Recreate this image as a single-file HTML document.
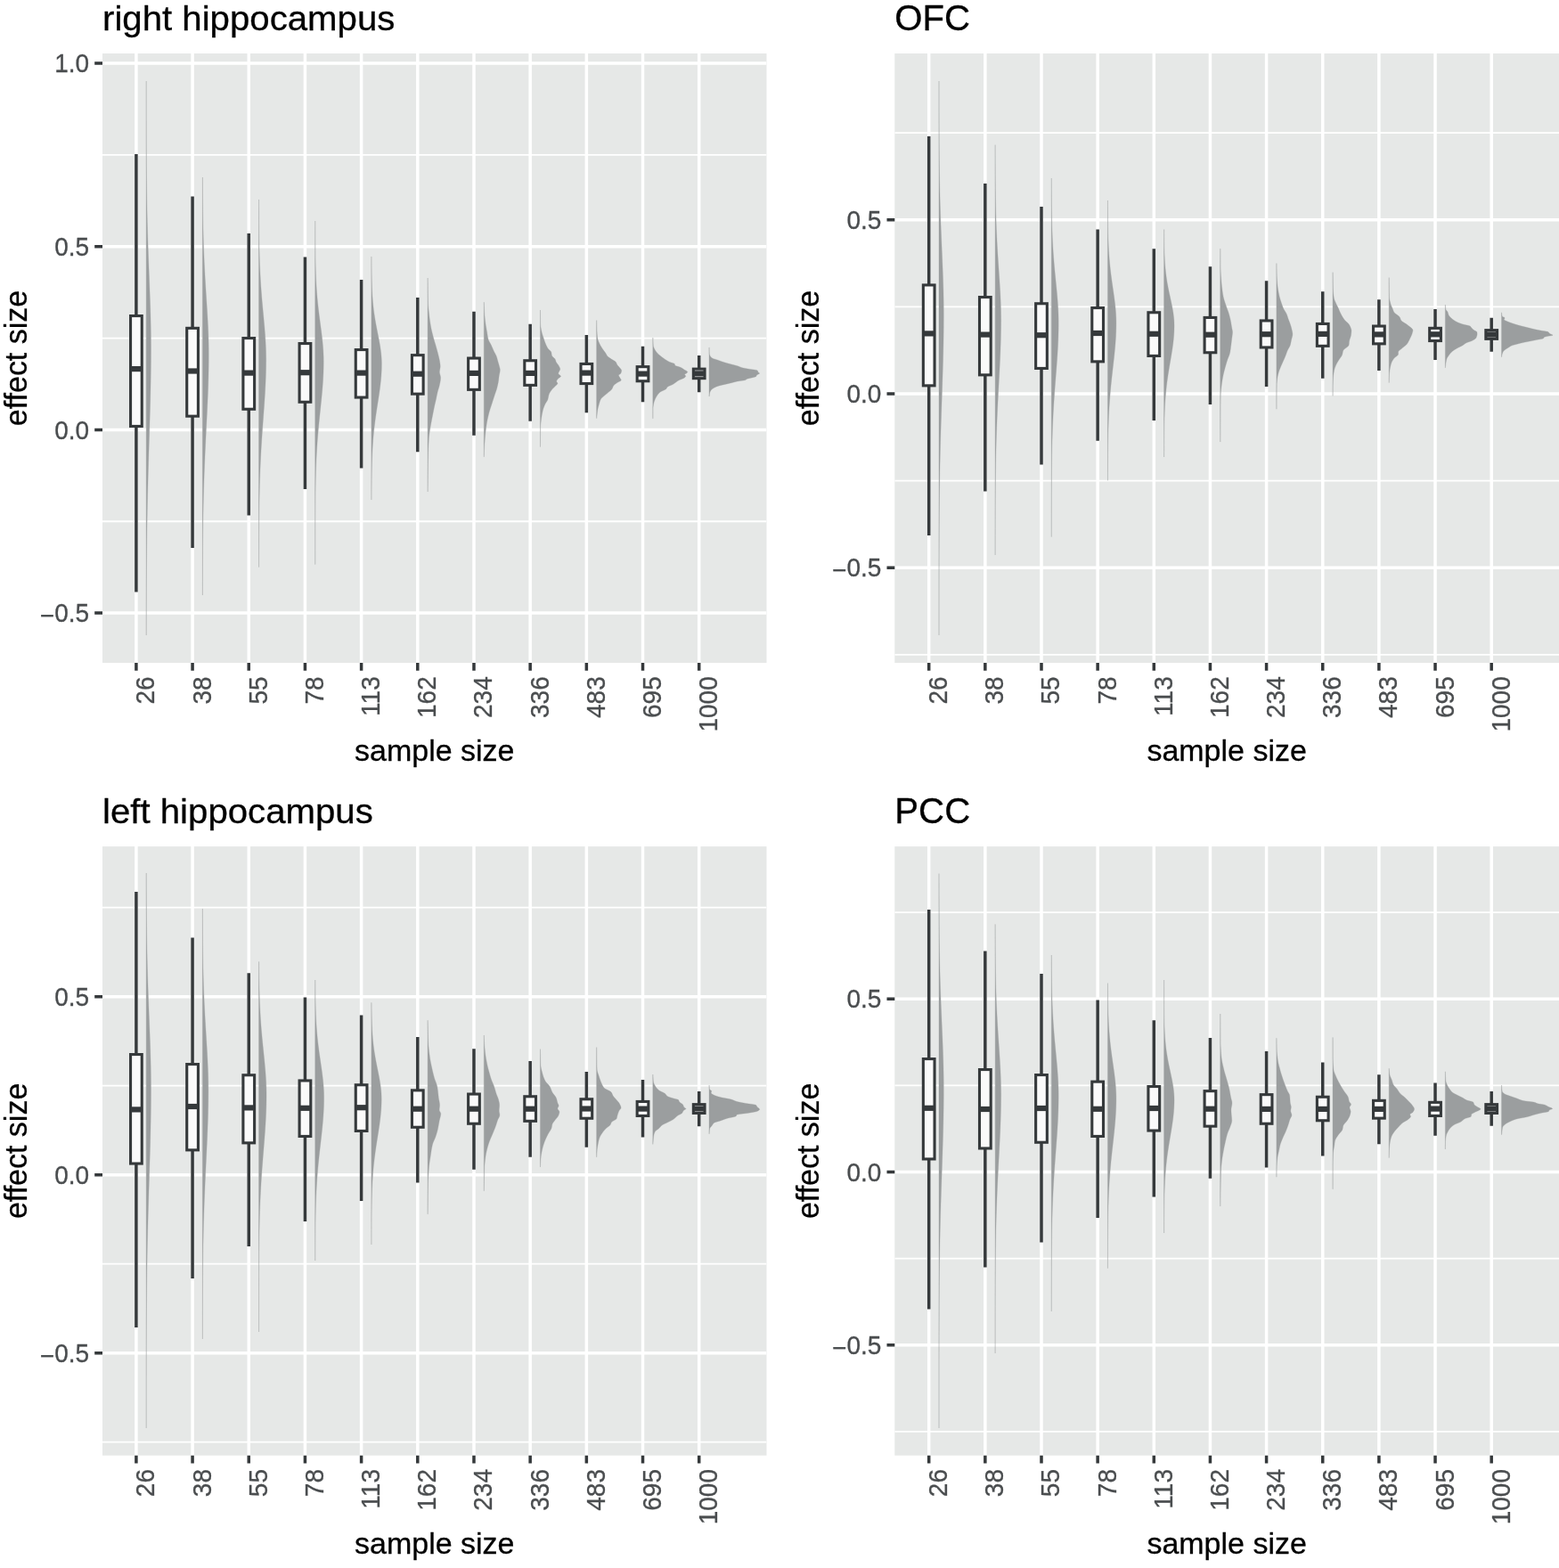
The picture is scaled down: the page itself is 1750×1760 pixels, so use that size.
<!DOCTYPE html>
<html lang="en">
<head>
<meta charset="utf-8">
<title>Effect size by sample size</title>
<style>
html,body{margin:0;padding:0;background:#fff;}
body{width:1750px;height:1760px;overflow:hidden;}
svg{display:block;}
text{font-family:"Liberation Sans",Arial,Helvetica,sans-serif;}
.tk{font-size:28px;fill:#4a4d4f;stroke:#4a4d4f;stroke-width:0.3px;}
.ax{font-size:34px;fill:#000;stroke:#000;stroke-width:0.3px;}
.tt{font-size:40.2px;fill:#000;stroke:#000;stroke-width:0.3px;}
.gM{stroke:#fff;stroke-width:3.5;fill:none;}
.gm{stroke:#fff;stroke-width:1.8;fill:none;}
.t{stroke:#35393b;stroke-width:3.5;fill:none;}
.w{stroke:#35393b;stroke-width:3.5;fill:none;}
.b{stroke:#35393b;stroke-width:3.1;fill:#fafafa;}
.m{stroke:#35393b;stroke-width:6.2;fill:none;}
.v{fill:#9b9e9f;stroke:#9b9e9f;stroke-width:0.32;stroke-linejoin:round;}
</style>
</head>
<body>
<svg width="1750" height="1760" viewBox="0 0 1750 1760">
<rect x="0" y="0" width="1750" height="1760" fill="#fff"/>
<g id="panel1">
<text class="tt" transform="translate(115 34.1) scale(1 0.975)">right hippocampus</text>
<clipPath id="c0"><rect x="115" y="60" width="745.5" height="684"/></clipPath>
<rect x="115" y="60" width="745.5" height="684" fill="#e6e8e7"/>
<g clip-path="url(#c0)">
<path class="gm" d="M115 173.85H860.5M115 379.55H860.5M115 585.25H860.5"/>
<path class="gM" d="M115 71H860.5M115 276.7H860.5M115 482.4H860.5M115 688.1H860.5M152.9 60V744M216.08 60V744M279.26 60V744M342.44 60V744M405.62 60V744M468.8 60V744M531.98 60V744M595.16 60V744M658.34 60V744M721.52 60V744M784.7 60V744"/>
<path class="v" d="M164.2 91L164.21 91L164.21 92L164.21 93L164.21 94L164.21 95L164.21 96L164.21 97L164.21 98L164.21 99L164.21 100L164.21 101L164.21 102L164.21 103L164.21 104L164.21 105L164.21 106L164.21 107L164.21 108L164.21 109L164.21 110L164.21 111L164.21 112L164.21 113L164.21 114L164.22 115L164.22 116L164.22 117L164.22 118L164.22 119L164.22 120L164.22 121L164.22 122L164.22 123L164.22 124L164.22 125L164.22 126L164.23 127L164.23 128L164.23 129L164.23 130L164.23 131L164.23 132L164.23 133L164.23 134L164.23 135L164.24 136L164.24 137L164.24 138L164.24 139L164.24 140L164.24 141L164.25 142L164.25 143L164.25 144L164.25 145L164.25 146L164.25 147L164.26 148L164.26 149L164.26 150L164.26 151L164.27 152L164.27 153L164.27 154L164.27 155L164.28 156L164.28 157L164.28 158L164.28 159L164.29 160L164.29 161L164.29 162L164.3 163L164.3 164L164.3 165L164.31 166L164.31 167L164.32 168L164.32 169L164.32 170L164.33 171L164.33 172L164.34 173L164.34 174L164.35 175L164.35 176L164.36 177L164.36 178L164.37 179L164.37 180L164.38 181L164.38 182L164.39 183L164.4 184L164.4 185L164.41 186L164.42 187L164.42 188L164.43 189L164.44 190L164.44 191L164.45 192L164.46 193L164.47 194L164.48 195L164.48 196L164.49 197L164.5 198L164.51 199L164.52 200L164.53 201L164.54 202L164.55 203L164.56 204L164.57 205L164.58 206L164.59 207L164.6 208L164.61 209L164.63 210L164.64 211L164.65 212L164.66 213L164.68 214L164.69 215L164.7 216L164.72 217L164.73 218L164.74 219L164.76 220L164.77 221L164.79 222L164.8 223L164.82 224L164.83 225L164.85 226L164.87 227L164.88 228L164.9 229L164.92 230L164.94 231L164.96 232L164.97 233L164.99 234L165.01 235L165.03 236L165.05 237L165.07 238L165.09 239L165.11 240L165.14 241L165.16 242L165.18 243L165.2 244L165.22 245L165.25 246L165.27 247L165.29 248L165.32 249L165.34 250L165.37 251L165.39 252L165.42 253L165.44 254L165.47 255L165.5 256L165.52 257L165.55 258L165.58 259L165.61 260L165.64 261L165.66 262L165.69 263L165.72 264L165.75 265L165.78 266L165.81 267L165.84 268L165.88 269L165.91 270L165.94 271L165.97 272L166 273L166.04 274L166.07 275L166.1 276L166.14 277L166.17 278L166.21 279L166.24 280L166.27 281L166.31 282L166.35 283L166.38 284L166.42 285L166.45 286L166.49 287L166.53 288L166.56 289L166.6 290L166.64 291L166.67 292L166.71 293L166.75 294L166.79 295L166.83 296L166.86 297L166.9 298L166.94 299L166.98 300L167.02 301L167.06 302L167.1 303L167.14 304L167.18 305L167.21 306L167.25 307L167.29 308L167.33 309L167.37 310L167.41 311L167.45 312L167.49 313L167.53 314L167.57 315L167.61 316L167.65 317L167.69 318L167.73 319L167.76 320L167.8 321L167.84 322L167.88 323L167.92 324L167.96 325L167.99 326L168.03 327L168.07 328L168.11 329L168.14 330L168.18 331L168.22 332L168.25 333L168.29 334L168.32 335L168.36 336L168.39 337L168.43 338L168.46 339L168.5 340L168.53 341L168.56 342L168.6 343L168.63 344L168.66 345L168.69 346L168.72 347L168.75 348L168.78 349L168.81 350L168.84 351L168.87 352L168.9 353L168.92 354L168.95 355L168.98 356L169 357L169.03 358L169.05 359L169.07 360L169.1 361L169.12 362L169.14 363L169.16 364L169.18 365L169.2 366L169.22 367L169.24 368L169.26 369L169.27 370L169.29 371L169.3 372L169.32 373L169.33 374L169.35 375L169.36 376L169.37 377L169.38 378L169.39 379L169.4 380L169.41 381L169.42 382L169.42 383L169.43 384L169.43 385L169.44 386L169.44 387L169.45 388L169.45 389L169.45 390L169.45 391L169.45 392L169.45 393L169.45 394L169.45 395L169.44 396L169.44 397L169.44 398L169.43 399L169.43 400L169.43 401L169.42 402L169.42 403L169.41 404L169.4 405L169.4 406L169.39 407L169.38 408L169.37 409L169.36 410L169.35 411L169.34 412L169.33 413L169.32 414L169.31 415L169.3 416L169.29 417L169.27 418L169.26 419L169.25 420L169.23 421L169.22 422L169.2 423L169.19 424L169.17 425L169.16 426L169.14 427L169.12 428L169.11 429L169.09 430L169.07 431L169.05 432L169.03 433L169.01 434L168.99 435L168.97 436L168.95 437L168.93 438L168.91 439L168.89 440L168.87 441L168.85 442L168.82 443L168.8 444L168.78 445L168.75 446L168.73 447L168.71 448L168.68 449L168.66 450L168.63 451L168.61 452L168.58 453L168.56 454L168.53 455L168.5 456L168.48 457L168.45 458L168.42 459L168.4 460L168.37 461L168.34 462L168.31 463L168.29 464L168.26 465L168.23 466L168.2 467L168.17 468L168.14 469L168.11 470L168.08 471L168.05 472L168.03 473L168 474L167.97 475L167.94 476L167.91 477L167.88 478L167.85 479L167.82 480L167.78 481L167.75 482L167.72 483L167.69 484L167.66 485L167.63 486L167.6 487L167.57 488L167.54 489L167.51 490L167.48 491L167.45 492L167.42 493L167.38 494L167.35 495L167.32 496L167.29 497L167.26 498L167.23 499L167.2 500L167.17 501L167.14 502L167.11 503L167.08 504L167.05 505L167.01 506L166.98 507L166.95 508L166.92 509L166.89 510L166.86 511L166.83 512L166.8 513L166.77 514L166.74 515L166.71 516L166.68 517L166.65 518L166.62 519L166.6 520L166.57 521L166.54 522L166.51 523L166.48 524L166.45 525L166.42 526L166.39 527L166.37 528L166.34 529L166.31 530L166.28 531L166.26 532L166.23 533L166.2 534L166.17 535L166.15 536L166.12 537L166.09 538L166.07 539L166.04 540L166.02 541L165.99 542L165.97 543L165.94 544L165.92 545L165.89 546L165.87 547L165.84 548L165.82 549L165.79 550L165.77 551L165.75 552L165.72 553L165.7 554L165.68 555L165.65 556L165.63 557L165.61 558L165.59 559L165.56 560L165.54 561L165.52 562L165.5 563L165.48 564L165.46 565L165.44 566L165.42 567L165.4 568L165.38 569L165.36 570L165.34 571L165.32 572L165.3 573L165.28 574L165.26 575L165.24 576L165.23 577L165.21 578L165.19 579L165.17 580L165.16 581L165.14 582L165.12 583L165.11 584L165.09 585L165.07 586L165.06 587L165.04 588L165.03 589L165.01 590L165 591L164.98 592L164.97 593L164.95 594L164.94 595L164.92 596L164.91 597L164.9 598L164.88 599L164.87 600L164.86 601L164.84 602L164.83 603L164.82 604L164.8 605L164.79 606L164.78 607L164.77 608L164.76 609L164.75 610L164.73 611L164.72 612L164.71 613L164.7 614L164.69 615L164.68 616L164.67 617L164.66 618L164.65 619L164.64 620L164.63 621L164.62 622L164.61 623L164.6 624L164.6 625L164.59 626L164.58 627L164.57 628L164.56 629L164.55 630L164.55 631L164.54 632L164.53 633L164.52 634L164.52 635L164.51 636L164.5 637L164.49 638L164.49 639L164.48 640L164.47 641L164.47 642L164.46 643L164.46 644L164.45 645L164.44 646L164.44 647L164.43 648L164.43 649L164.42 650L164.42 651L164.41 652L164.41 653L164.4 654L164.4 655L164.39 656L164.39 657L164.38 658L164.38 659L164.37 660L164.37 661L164.36 662L164.36 663L164.36 664L164.35 665L164.35 666L164.34 667L164.34 668L164.34 669L164.33 670L164.33 671L164.33 672L164.32 673L164.32 674L164.32 675L164.31 676L164.31 677L164.31 678L164.3 679L164.3 680L164.3 681L164.3 682L164.29 683L164.29 684L164.29 685L164.29 686L164.28 687L164.28 688L164.28 689L164.28 690L164.27 691L164.27 692L164.27 693L164.27 694L164.27 695L164.27 696L164.26 697L164.26 698L164.26 699L164.26 700L164.26 701L164.25 702L164.25 703L164.25 704L164.25 705L164.25 706L164.25 707L164.25 708L164.24 709L164.24 710L164.24 711L164.24 712L164.24 713L164.2 713Z"/>
<path class="v" d="M227.38 199L227.44 199L227.44 200L227.44 201L227.45 202L227.45 203L227.45 204L227.46 205L227.46 206L227.46 207L227.47 208L227.47 209L227.48 210L227.48 211L227.49 212L227.49 213L227.5 214L227.5 215L227.51 216L227.51 217L227.52 218L227.52 219L227.53 220L227.54 221L227.54 222L227.55 223L227.56 224L227.57 225L227.57 226L227.58 227L227.59 228L227.6 229L227.61 230L227.62 231L227.63 232L227.64 233L227.65 234L227.66 235L227.67 236L227.68 237L227.69 238L227.7 239L227.72 240L227.73 241L227.74 242L227.76 243L227.77 244L227.79 245L227.8 246L227.82 247L227.83 248L227.85 249L227.87 250L227.88 251L227.9 252L227.92 253L227.94 254L227.96 255L227.98 256L228 257L228.02 258L228.05 259L228.07 260L228.09 261L228.11 262L228.14 263L228.16 264L228.19 265L228.22 266L228.24 267L228.27 268L228.3 269L228.33 270L228.36 271L228.39 272L228.42 273L228.45 274L228.48 275L228.52 276L228.55 277L228.58 278L228.62 279L228.65 280L228.69 281L228.73 282L228.77 283L228.81 284L228.85 285L228.89 286L228.93 287L228.97 288L229.01 289L229.05 290L229.1 291L229.14 292L229.19 293L229.23 294L229.28 295L229.33 296L229.38 297L229.43 298L229.48 299L229.53 300L229.58 301L229.63 302L229.68 303L229.73 304L229.79 305L229.84 306L229.9 307L229.95 308L230.01 309L230.07 310L230.12 311L230.18 312L230.24 313L230.3 314L230.36 315L230.42 316L230.48 317L230.54 318L230.6 319L230.66 320L230.72 321L230.79 322L230.85 323L230.91 324L230.97 325L231.04 326L231.1 327L231.17 328L231.23 329L231.29 330L231.36 331L231.42 332L231.49 333L231.55 334L231.62 335L231.68 336L231.74 337L231.81 338L231.87 339L231.94 340L232 341L232.06 342L232.13 343L232.19 344L232.25 345L232.32 346L232.38 347L232.44 348L232.5 349L232.56 350L232.62 351L232.68 352L232.74 353L232.8 354L232.85 355L232.91 356L232.96 357L233.02 358L233.07 359L233.13 360L233.18 361L233.23 362L233.28 363L233.33 364L233.38 365L233.43 366L233.47 367L233.52 368L233.56 369L233.61 370L233.65 371L233.69 372L233.73 373L233.76 374L233.8 375L233.84 376L233.87 377L233.9 378L233.93 379L233.96 380L233.99 381L234.02 382L234.04 383L234.07 384L234.09 385L234.11 386L234.13 387L234.14 388L234.16 389L234.17 390L234.19 391L234.2 392L234.21 393L234.22 394L234.22 395L234.23 396L234.23 397L234.23 398L234.23 399L234.23 400L234.23 401L234.22 402L234.22 403L234.21 404L234.21 405L234.2 406L234.19 407L234.18 408L234.17 409L234.16 410L234.15 411L234.13 412L234.12 413L234.1 414L234.09 415L234.07 416L234.05 417L234.03 418L234.01 419L233.99 420L233.97 421L233.95 422L233.92 423L233.9 424L233.87 425L233.85 426L233.82 427L233.79 428L233.76 429L233.73 430L233.7 431L233.67 432L233.64 433L233.61 434L233.57 435L233.54 436L233.5 437L233.47 438L233.43 439L233.4 440L233.36 441L233.32 442L233.28 443L233.24 444L233.2 445L233.16 446L233.12 447L233.08 448L233.03 449L232.99 450L232.95 451L232.9 452L232.86 453L232.81 454L232.77 455L232.72 456L232.68 457L232.63 458L232.58 459L232.54 460L232.49 461L232.44 462L232.39 463L232.35 464L232.3 465L232.25 466L232.2 467L232.15 468L232.1 469L232.05 470L232 471L231.95 472L231.9 473L231.85 474L231.8 475L231.75 476L231.7 477L231.65 478L231.6 479L231.55 480L231.5 481L231.44 482L231.39 483L231.34 484L231.29 485L231.24 486L231.19 487L231.14 488L231.09 489L231.04 490L230.99 491L230.94 492L230.89 493L230.84 494L230.79 495L230.74 496L230.7 497L230.65 498L230.6 499L230.55 500L230.5 501L230.46 502L230.41 503L230.36 504L230.31 505L230.27 506L230.22 507L230.18 508L230.13 509L230.09 510L230.04 511L230 512L229.95 513L229.91 514L229.87 515L229.82 516L229.78 517L229.74 518L229.7 519L229.65 520L229.61 521L229.57 522L229.53 523L229.49 524L229.45 525L229.41 526L229.38 527L229.34 528L229.3 529L229.26 530L229.23 531L229.19 532L229.15 533L229.12 534L229.08 535L229.05 536L229.02 537L228.98 538L228.95 539L228.92 540L228.88 541L228.85 542L228.82 543L228.79 544L228.76 545L228.73 546L228.7 547L228.67 548L228.64 549L228.62 550L228.59 551L228.56 552L228.53 553L228.51 554L228.48 555L228.46 556L228.43 557L228.41 558L228.38 559L228.36 560L228.34 561L228.31 562L228.29 563L228.27 564L228.25 565L228.23 566L228.2 567L228.18 568L228.16 569L228.14 570L228.12 571L228.11 572L228.09 573L228.07 574L228.05 575L228.03 576L228.02 577L228 578L227.98 579L227.97 580L227.95 581L227.94 582L227.92 583L227.91 584L227.89 585L227.88 586L227.86 587L227.85 588L227.84 589L227.83 590L227.81 591L227.8 592L227.79 593L227.78 594L227.77 595L227.75 596L227.74 597L227.73 598L227.72 599L227.71 600L227.7 601L227.69 602L227.68 603L227.67 604L227.67 605L227.66 606L227.65 607L227.64 608L227.63 609L227.62 610L227.62 611L227.61 612L227.6 613L227.6 614L227.59 615L227.58 616L227.58 617L227.57 618L227.56 619L227.56 620L227.55 621L227.55 622L227.54 623L227.53 624L227.53 625L227.52 626L227.52 627L227.52 628L227.51 629L227.51 630L227.5 631L227.5 632L227.49 633L227.49 634L227.49 635L227.48 636L227.48 637L227.48 638L227.47 639L227.47 640L227.47 641L227.46 642L227.46 643L227.46 644L227.45 645L227.45 646L227.45 647L227.45 648L227.44 649L227.44 650L227.44 651L227.44 652L227.43 653L227.43 654L227.43 655L227.43 656L227.43 657L227.43 658L227.42 659L227.42 660L227.42 661L227.42 662L227.42 663L227.42 664L227.41 665L227.41 666L227.41 667L227.41 668L227.38 668Z"/>
<path class="v" d="M290.56 224L290.58 224L290.58 225L290.58 226L290.58 227L290.59 228L290.59 229L290.59 230L290.59 231L290.59 232L290.6 233L290.6 234L290.6 235L290.6 236L290.61 237L290.61 238L290.61 239L290.62 240L290.62 241L290.62 242L290.63 243L290.63 244L290.64 245L290.64 246L290.65 247L290.65 248L290.66 249L290.66 250L290.67 251L290.67 252L290.68 253L290.69 254L290.69 255L290.7 256L290.71 257L290.72 258L290.73 259L290.74 260L290.74 261L290.75 262L290.77 263L290.78 264L290.79 265L290.8 266L290.81 267L290.83 268L290.84 269L290.85 270L290.87 271L290.88 272L290.9 273L290.92 274L290.93 275L290.95 276L290.97 277L290.99 278L291.01 279L291.03 280L291.05 281L291.08 282L291.1 283L291.13 284L291.15 285L291.18 286L291.2 287L291.23 288L291.26 289L291.29 290L291.32 291L291.36 292L291.39 293L291.42 294L291.46 295L291.5 296L291.53 297L291.57 298L291.61 299L291.66 300L291.7 301L291.74 302L291.79 303L291.83 304L291.88 305L291.93 306L291.98 307L292.03 308L292.09 309L292.14 310L292.2 311L292.25 312L292.31 313L292.37 314L292.43 315L292.49 316L292.56 317L292.62 318L292.69 319L292.75 320L292.82 321L292.89 322L292.96 323L293.04 324L293.11 325L293.19 326L293.26 327L293.34 328L293.42 329L293.5 330L293.58 331L293.66 332L293.74 333L293.83 334L293.91 335L294 336L294.08 337L294.17 338L294.26 339L294.35 340L294.44 341L294.53 342L294.62 343L294.71 344L294.8 345L294.9 346L294.99 347L295.08 348L295.18 349L295.27 350L295.36 351L295.46 352L295.55 353L295.65 354L295.74 355L295.83 356L295.93 357L296.02 358L296.11 359L296.2 360L296.29 361L296.38 362L296.47 363L296.56 364L296.65 365L296.74 366L296.82 367L296.91 368L296.99 369L297.07 370L297.15 371L297.23 372L297.31 373L297.39 374L297.46 375L297.54 376L297.61 377L297.68 378L297.74 379L297.81 380L297.87 381L297.93 382L297.99 383L298.05 384L298.1 385L298.15 386L298.2 387L298.25 388L298.29 389L298.33 390L298.37 391L298.4 392L298.44 393L298.47 394L298.49 395L298.52 396L298.54 397L298.56 398L298.58 399L298.59 400L298.6 401L298.61 402L298.61 403L298.61 404L298.61 405L298.61 406L298.6 407L298.59 408L298.59 409L298.58 410L298.56 411L298.55 412L298.53 413L298.52 414L298.5 415L298.47 416L298.45 417L298.43 418L298.4 419L298.37 420L298.34 421L298.31 422L298.28 423L298.24 424L298.21 425L298.17 426L298.13 427L298.09 428L298.05 429L298 430L297.96 431L297.91 432L297.86 433L297.82 434L297.76 435L297.71 436L297.66 437L297.61 438L297.55 439L297.49 440L297.44 441L297.38 442L297.32 443L297.26 444L297.19 445L297.13 446L297.07 447L297 448L296.94 449L296.87 450L296.8 451L296.74 452L296.67 453L296.6 454L296.53 455L296.46 456L296.39 457L296.32 458L296.25 459L296.17 460L296.1 461L296.03 462L295.96 463L295.88 464L295.81 465L295.74 466L295.66 467L295.59 468L295.52 469L295.44 470L295.37 471L295.3 472L295.22 473L295.15 474L295.07 475L295 476L294.93 477L294.86 478L294.78 479L294.71 480L294.64 481L294.57 482L294.5 483L294.42 484L294.35 485L294.28 486L294.21 487L294.14 488L294.08 489L294.01 490L293.94 491L293.87 492L293.81 493L293.74 494L293.68 495L293.61 496L293.55 497L293.48 498L293.42 499L293.36 500L293.3 501L293.24 502L293.18 503L293.12 504L293.06 505L293 506L292.95 507L292.89 508L292.84 509L292.78 510L292.73 511L292.68 512L292.62 513L292.57 514L292.52 515L292.47 516L292.42 517L292.38 518L292.33 519L292.28 520L292.24 521L292.19 522L292.15 523L292.11 524L292.07 525L292.02 526L291.98 527L291.94 528L291.91 529L291.87 530L291.83 531L291.79 532L291.76 533L291.72 534L291.69 535L291.66 536L291.62 537L291.59 538L291.56 539L291.53 540L291.5 541L291.47 542L291.44 543L291.41 544L291.39 545L291.36 546L291.33 547L291.31 548L291.29 549L291.26 550L291.24 551L291.22 552L291.19 553L291.17 554L291.15 555L291.13 556L291.11 557L291.09 558L291.07 559L291.06 560L291.04 561L291.02 562L291.01 563L290.99 564L290.97 565L290.96 566L290.94 567L290.93 568L290.92 569L290.9 570L290.89 571L290.88 572L290.87 573L290.85 574L290.84 575L290.83 576L290.82 577L290.81 578L290.8 579L290.79 580L290.78 581L290.77 582L290.77 583L290.76 584L290.75 585L290.74 586L290.73 587L290.73 588L290.72 589L290.71 590L290.71 591L290.7 592L290.7 593L290.69 594L290.68 595L290.68 596L290.67 597L290.67 598L290.66 599L290.66 600L290.66 601L290.65 602L290.65 603L290.64 604L290.64 605L290.64 606L290.63 607L290.63 608L290.63 609L290.62 610L290.62 611L290.62 612L290.61 613L290.61 614L290.61 615L290.61 616L290.6 617L290.6 618L290.6 619L290.6 620L290.6 621L290.6 622L290.59 623L290.59 624L290.59 625L290.59 626L290.59 627L290.59 628L290.58 629L290.58 630L290.58 631L290.58 632L290.58 633L290.58 634L290.58 635L290.58 636L290.58 636.6L290.56 636.6Z"/>
<path class="v" d="M353.74 248L353.75 248L353.75 249L353.75 250L353.75 251L353.75 252L353.76 253L353.76 254L353.76 255L353.76 256L353.76 257L353.76 258L353.77 259L353.77 260L353.77 261L353.77 262L353.78 263L353.78 264L353.78 265L353.79 266L353.79 267L353.79 268L353.8 269L353.8 270L353.81 271L353.81 272L353.82 273L353.82 274L353.83 275L353.83 276L353.84 277L353.85 278L353.86 279L353.87 280L353.87 281L353.88 282L353.89 283L353.9 284L353.92 285L353.93 286L353.94 287L353.95 288L353.97 289L353.98 290L354 291L354.01 292L354.03 293L354.05 294L354.07 295L354.09 296L354.11 297L354.13 298L354.16 299L354.18 300L354.21 301L354.24 302L354.27 303L354.3 304L354.33 305L354.36 306L354.39 307L354.43 308L354.47 309L354.51 310L354.55 311L354.59 312L354.64 313L354.68 314L354.73 315L354.78 316L354.83 317L354.89 318L354.94 319L355 320L355.06 321L355.12 322L355.19 323L355.25 324L355.32 325L355.39 326L355.47 327L355.54 328L355.62 329L355.7 330L355.78 331L355.87 332L355.95 333L356.04 334L356.13 335L356.23 336L356.32 337L356.42 338L356.52 339L356.62 340L356.73 341L356.84 342L356.95 343L357.06 344L357.17 345L357.28 346L357.4 347L357.52 348L357.64 349L357.76 350L357.88 351L358.01 352L358.14 353L358.26 354L358.39 355L358.52 356L358.65 357L358.78 358L358.92 359L359.05 360L359.18 361L359.32 362L359.45 363L359.58 364L359.72 365L359.85 366L359.98 367L360.12 368L360.25 369L360.38 370L360.51 371L360.64 372L360.76 373L360.89 374L361.01 375L361.13 376L361.25 377L361.37 378L361.49 379L361.6 380L361.71 381L361.82 382L361.92 383L362.02 384L362.12 385L362.21 386L362.3 387L362.39 388L362.47 389L362.55 390L362.63 391L362.7 392L362.76 393L362.83 394L362.88 395L362.94 396L362.98 397L363.03 398L363.06 399L363.1 400L363.13 401L363.15 402L363.17 403L363.18 404L363.19 405L363.19 406L363.19 407L363.18 408L363.18 409L363.16 410L363.15 411L363.13 412L363.11 413L363.09 414L363.06 415L363.03 416L363 417L362.96 418L362.93 419L362.88 420L362.84 421L362.79 422L362.74 423L362.69 424L362.64 425L362.58 426L362.52 427L362.45 428L362.39 429L362.32 430L362.25 431L362.18 432L362.1 433L362.03 434L361.95 435L361.87 436L361.78 437L361.7 438L361.61 439L361.52 440L361.43 441L361.34 442L361.25 443L361.16 444L361.06 445L360.96 446L360.87 447L360.77 448L360.67 449L360.57 450L360.47 451L360.36 452L360.26 453L360.16 454L360.06 455L359.95 456L359.85 457L359.74 458L359.64 459L359.53 460L359.43 461L359.32 462L359.22 463L359.11 464L359.01 465L358.9 466L358.8 467L358.7 468L358.59 469L358.49 470L358.39 471L358.29 472L358.19 473L358.09 474L357.99 475L357.89 476L357.79 477L357.7 478L357.6 479L357.51 480L357.41 481L357.32 482L357.23 483L357.14 484L357.05 485L356.97 486L356.88 487L356.79 488L356.71 489L356.63 490L356.55 491L356.47 492L356.39 493L356.31 494L356.24 495L356.16 496L356.09 497L356.02 498L355.95 499L355.88 500L355.82 501L355.75 502L355.69 503L355.62 504L355.56 505L355.5 506L355.44 507L355.39 508L355.33 509L355.28 510L355.22 511L355.17 512L355.12 513L355.07 514L355.02 515L354.98 516L354.93 517L354.89 518L354.85 519L354.81 520L354.76 521L354.73 522L354.69 523L354.65 524L354.62 525L354.58 526L354.55 527L354.52 528L354.48 529L354.45 530L354.42 531L354.4 532L354.37 533L354.34 534L354.32 535L354.29 536L354.27 537L354.25 538L354.22 539L354.2 540L354.18 541L354.16 542L354.14 543L354.13 544L354.11 545L354.09 546L354.07 547L354.06 548L354.04 549L354.03 550L354.02 551L354 552L353.99 553L353.98 554L353.97 555L353.96 556L353.95 557L353.93 558L353.93 559L353.92 560L353.91 561L353.9 562L353.89 563L353.88 564L353.88 565L353.87 566L353.86 567L353.85 568L353.85 569L353.84 570L353.84 571L353.83 572L353.83 573L353.82 574L353.82 575L353.81 576L353.81 577L353.81 578L353.8 579L353.8 580L353.8 581L353.79 582L353.79 583L353.79 584L353.78 585L353.78 586L353.78 587L353.78 588L353.77 589L353.77 590L353.77 591L353.77 592L353.77 593L353.76 594L353.76 595L353.76 596L353.76 597L353.76 598L353.76 599L353.76 600L353.76 601L353.75 602L353.75 603L353.75 604L353.75 605L353.75 606L353.75 607L353.75 608L353.75 609L353.75 610L353.75 611L353.75 612L353.75 613L353.75 614L353.75 615L353.75 616L353.75 617L353.74 618L353.74 619L353.74 620L353.74 621L353.74 622L353.74 623L353.74 624L353.74 625L353.74 626L353.74 627L353.74 628L353.74 629L353.74 630L353.74 631L353.74 632L353.74 633L353.74 633.6L353.74 633.6Z"/>
<path class="v" d="M416.92 288L416.95 288L416.95 289L416.96 290L416.96 291L416.96 292L416.97 293L416.97 294L416.98 295L416.98 296L416.99 297L416.99 298L417 299L417.01 300L417.02 301L417.03 302L417.04 303L417.05 304L417.06 305L417.07 306L417.08 307L417.1 308L417.11 309L417.13 310L417.15 311L417.17 312L417.19 313L417.21 314L417.23 315L417.26 316L417.28 317L417.31 318L417.34 319L417.37 320L417.41 321L417.44 322L417.48 323L417.52 324L417.57 325L417.61 326L417.66 327L417.71 328L417.76 329L417.82 330L417.88 331L417.94 332L418.01 333L418.08 334L418.15 335L418.23 336L418.31 337L418.39 338L418.48 339L418.57 340L418.67 341L418.77 342L418.87 343L418.98 344L419.09 345L419.2 346L419.32 347L419.44 348L419.57 349L419.7 350L419.84 351L419.98 352L420.13 353L420.27 354L420.43 355L420.58 356L420.74 357L420.91 358L421.08 359L421.25 360L421.42 361L421.6 362L421.78 363L421.96 364L422.15 365L422.34 366L422.53 367L422.72 368L422.92 369L423.11 370L423.31 371L423.51 372L423.71 373L423.91 374L424.11 375L424.3 376L424.5 377L424.7 378L424.89 379L425.09 380L425.28 381L425.47 382L425.65 383L425.84 384L426.01 385L426.19 386L426.36 387L426.53 388L426.69 389L426.84 390L426.99 391L427.13 392L427.27 393L427.4 394L427.52 395L427.64 396L427.75 397L427.85 398L427.94 399L428.02 400L428.1 401L428.16 402L428.22 403L428.27 404L428.31 405L428.34 406L428.36 407L428.37 408L428.37 409L428.36 410L428.35 411L428.34 412L428.32 413L428.29 414L428.25 415L428.22 416L428.17 417L428.12 418L428.07 419L428 420L427.94 421L427.87 422L427.79 423L427.71 424L427.62 425L427.53 426L427.44 427L427.34 428L427.23 429L427.12 430L427.01 431L426.9 432L426.78 433L426.65 434L426.53 435L426.4 436L426.26 437L426.13 438L425.99 439L425.85 440L425.71 441L425.56 442L425.42 443L425.27 444L425.12 445L424.97 446L424.81 447L424.66 448L424.5 449L424.35 450L424.19 451L424.04 452L423.88 453L423.72 454L423.57 455L423.41 456L423.26 457L423.1 458L422.95 459L422.79 460L422.64 461L422.49 462L422.34 463L422.19 464L422.05 465L421.9 466L421.76 467L421.61 468L421.47 469L421.34 470L421.2 471L421.07 472L420.93 473L420.8 474L420.68 475L420.55 476L420.43 477L420.31 478L420.19 479L420.08 480L419.96 481L419.85 482L419.74 483L419.64 484L419.54 485L419.44 486L419.34 487L419.25 488L419.15 489L419.06 490L418.98 491L418.89 492L418.81 493L418.73 494L418.65 495L418.58 496L418.51 497L418.44 498L418.37 499L418.3 500L418.24 501L418.18 502L418.12 503L418.07 504L418.01 505L417.96 506L417.91 507L417.86 508L417.81 509L417.77 510L417.73 511L417.69 512L417.65 513L417.61 514L417.57 515L417.54 516L417.51 517L417.47 518L417.44 519L417.42 520L417.39 521L417.36 522L417.34 523L417.31 524L417.29 525L417.27 526L417.25 527L417.23 528L417.21 529L417.19 530L417.18 531L417.16 532L417.15 533L417.13 534L417.12 535L417.11 536L417.1 537L417.09 538L417.07 539L417.06 540L417.06 541L417.05 542L417.04 543L417.03 544L417.02 545L417.02 546L417.01 547L417 548L417 549L416.99 550L416.99 551L416.98 552L416.98 553L416.97 554L416.97 555L416.97 556L416.96 557L416.96 558L416.96 559L416.95 560L416.95 561L416.92 561Z"/>
<path class="v" d="M480.1 312L480.15 312L480.16 312.5L480.16 313L480.17 313.5L480.17 314L480.18 314.5L480.19 315L480.19 315.5L480.2 316L480.2 316.5L480.21 317L480.21 317.5L480.22 318L480.22 318.5L480.22 319L480.23 319.5L480.23 320L480.24 320.5L480.24 321L480.25 321.5L480.25 322L480.26 322.5L480.26 323L480.26 323.5L480.27 324L480.27 324.5L480.28 325L480.28 325.5L480.29 326L480.29 326.5L480.3 327L480.3 327.5L480.31 328L480.31 328.5L480.32 329L480.33 329.5L480.33 330L480.34 330.5L480.34 331L480.35 331.5L480.36 332L480.37 332.5L480.37 333L480.38 333.5L480.39 334L480.4 334.5L480.41 335L480.41 335.5L480.42 336L480.43 336.5L480.44 337L480.45 337.5L480.46 338L480.47 338.5L480.49 339L480.5 339.5L480.51 340L480.52 340.5L480.54 341L480.57 341.5L480.59 342L480.62 342.5L480.65 343L480.69 343.5L480.73 344L480.77 344.5L480.81 345L480.86 345.5L480.91 346L480.96 346.5L481.01 347L481.06 347.5L481.11 348L481.17 348.5L481.22 349L481.28 349.5L481.33 350L481.39 350.5L481.44 351L481.5 351.5L481.55 352L481.6 352.5L481.66 353L481.71 353.5L481.77 354L481.83 354.5L481.89 355L481.95 355.5L482.01 356L482.07 356.5L482.13 357L482.2 357.5L482.26 358L482.33 358.5L482.4 359L482.47 359.5L482.54 360L482.61 360.5L482.68 361L482.76 361.5L482.83 362L482.91 362.5L482.99 363L483.06 363.5L483.14 364L483.23 364.5L483.31 365L483.39 365.5L483.48 366L483.57 366.5L483.66 367L483.75 367.5L483.85 368L483.95 368.5L484.05 369L484.16 369.5L484.27 370L484.38 370.5L484.49 371L484.61 371.5L484.73 372L484.85 372.5L484.97 373L485.09 373.5L485.22 374L485.34 374.5L485.47 375L485.6 375.5L485.73 376L485.86 376.5L485.99 377L486.12 377.5L486.25 378L486.38 378.5L486.51 379L486.65 379.5L486.78 380L486.93 380.5L487.07 381L487.22 381.5L487.37 382L487.52 382.5L487.67 383L487.82 383.5L487.97 384L488.12 384.5L488.27 385L488.42 385.5L488.57 386L488.72 386.5L488.86 387L489.01 387.5L489.15 388L489.29 388.5L489.43 389L489.57 389.5L489.71 390L489.85 390.5L489.99 391L490.13 391.5L490.27 392L490.41 392.5L490.54 393L490.68 393.5L490.82 394L490.95 394.5L491.08 395L491.22 395.5L491.35 396L491.48 396.5L491.6 397L491.73 397.5L491.85 398L491.97 398.5L492.1 399L492.22 399.5L492.35 400L492.47 400.5L492.59 401L492.71 401.5L492.83 402L492.95 402.5L493.06 403L493.17 403.5L493.27 404L493.37 404.5L493.45 405L493.53 405.5L493.61 406L493.69 406.5L493.77 407L493.84 407.5L493.92 408L493.99 408.5L494.05 409L494.1 409.5L494.14 410L494.17 410.5L494.19 411L494.18 411.5L494.16 412L494.1 412.5L494.04 413L493.95 413.5L493.86 414L493.77 414.5L493.68 415L493.59 415.5L493.51 416L493.45 416.5L493.41 417L493.39 417.5L493.4 418L493.45 418.5L493.54 419L493.64 419.5L493.77 420L493.91 420.5L494.05 421L494.18 421.5L494.31 422L494.42 422.5L494.51 423L494.57 423.5L494.59 424L494.58 424.5L494.56 425L494.52 425.5L494.48 426L494.42 426.5L494.35 427L494.27 427.5L494.19 428L494.09 428.5L494 429L493.9 429.5L493.8 430L493.69 430.5L493.59 431L493.49 431.5L493.39 432L493.29 432.5L493.17 433L493.04 433.5L492.91 434L492.77 434.5L492.62 435L492.47 435.5L492.31 436L492.16 436.5L492 437L491.85 437.5L491.7 438L491.55 438.5L491.41 439L491.27 439.5L491.15 440L491.03 440.5L490.92 441L490.81 441.5L490.7 442L490.59 442.5L490.49 443L490.39 443.5L490.29 444L490.19 444.5L490.09 445L489.99 445.5L489.89 446L489.79 446.5L489.68 447L489.58 447.5L489.47 448L489.36 448.5L489.25 449L489.13 449.5L489.02 450L488.9 450.5L488.78 451L488.66 451.5L488.55 452L488.43 452.5L488.31 453L488.19 453.5L488.08 454L487.96 454.5L487.85 455L487.74 455.5L487.63 456L487.52 456.5L487.42 457L487.31 457.5L487.21 458L487.1 458.5L487 459L486.9 459.5L486.8 460L486.7 460.5L486.6 461L486.5 461.5L486.4 462L486.3 462.5L486.2 463L486.1 463.5L486 464L485.91 464.5L485.81 465L485.71 465.5L485.62 466L485.52 466.5L485.42 467L485.33 467.5L485.23 468L485.13 468.5L485.04 469L484.94 469.5L484.84 470L484.74 470.5L484.64 471L484.54 471.5L484.44 472L484.35 472.5L484.25 473L484.15 473.5L484.05 474L483.96 474.5L483.86 475L483.77 475.5L483.68 476L483.58 476.5L483.49 477L483.41 477.5L483.32 478L483.23 478.5L483.15 479L483.07 479.5L482.99 480L482.91 480.5L482.83 481L482.75 481.5L482.67 482L482.59 482.5L482.51 483L482.43 483.5L482.36 484L482.28 484.5L482.2 485L482.13 485.5L482.05 486L481.98 486.5L481.91 487L481.85 487.5L481.78 488L481.72 488.5L481.66 489L481.61 489.5L481.55 490L481.51 490.5L481.46 491L481.42 491.5L481.39 492L481.36 492.5L481.33 493L481.3 493.5L481.27 494L481.24 494.5L481.21 495L481.18 495.5L481.15 496L481.13 496.5L481.1 497L481.08 497.5L481.05 498L481.03 498.5L481 499L480.98 499.5L480.96 500L480.94 500.5L480.92 501L480.89 501.5L480.87 502L480.86 502.5L480.84 503L480.82 503.5L480.8 504L480.78 504.5L480.77 505L480.75 505.5L480.74 506L480.72 506.5L480.71 507L480.69 507.5L480.68 508L480.67 508.5L480.65 509L480.64 509.5L480.63 510L480.62 510.5L480.61 511L480.6 511.5L480.59 512L480.58 512.5L480.57 513L480.56 513.5L480.55 514L480.55 514.5L480.54 515L480.53 515.5L480.52 516L480.51 516.5L480.51 517L480.5 517.5L480.49 518L480.48 518.5L480.48 519L480.47 519.5L480.46 520L480.46 520.5L480.45 521L480.44 521.5L480.44 522L480.43 522.5L480.43 523L480.42 523.5L480.41 524L480.41 524.5L480.4 525L480.4 525.5L480.39 526L480.39 526.5L480.38 527L480.38 527.5L480.37 528L480.37 528.5L480.36 529L480.36 529.5L480.35 530L480.35 530.5L480.34 531L480.34 531.5L480.33 532L480.33 532.5L480.32 533L480.32 533.5L480.31 534L480.31 534.5L480.31 535L480.3 535.5L480.3 536L480.29 536.5L480.29 537L480.28 537.5L480.28 538L480.28 538.5L480.27 539L480.27 539.5L480.26 540L480.26 540.5L480.25 541L480.25 541.5L480.25 542L480.24 542.5L480.24 543L480.23 543.5L480.23 544L480.22 544.5L480.22 545L480.21 545.5L480.21 546L480.21 546.5L480.2 547L480.2 547.5L480.19 548L480.19 548.5L480.18 549L480.18 549.5L480.17 550L480.17 550.5L480.16 551L480.16 551.5L480.15 552L480.1 552Z"/>
<path class="v" d="M543.28 339.2L543.33 339.2L543.35 339.7L543.37 340.2L543.39 340.7L543.41 341.2L543.42 341.7L543.44 342.2L543.46 342.7L543.48 343.2L543.49 343.7L543.51 344.2L543.53 344.7L543.55 345.2L543.56 345.7L543.58 346.2L543.6 346.7L543.62 347.2L543.64 347.7L543.66 348.2L543.68 348.7L543.71 349.2L543.73 349.7L543.75 350.2L543.78 350.7L543.8 351.2L543.83 351.7L543.86 352.2L543.89 352.7L543.93 353.2L543.96 353.7L544 354.2L544.05 354.7L544.09 355.2L544.13 355.7L544.18 356.2L544.23 356.7L544.28 357.2L544.34 357.7L544.39 358.2L544.45 358.7L544.5 359.2L544.56 359.7L544.62 360.2L544.68 360.7L544.74 361.2L544.8 361.7L544.86 362.2L544.93 362.7L545 363.2L545.07 363.7L545.14 364.2L545.22 364.7L545.29 365.2L545.38 365.7L545.46 366.2L545.54 366.7L545.63 367.2L545.72 367.7L545.81 368.2L545.9 368.7L545.99 369.2L546.08 369.7L546.17 370.2L546.26 370.7L546.35 371.2L546.44 371.7L546.52 372.2L546.61 372.7L546.69 373.2L546.77 373.7L546.84 374.2L546.92 374.7L546.99 375.2L547.07 375.7L547.15 376.2L547.23 376.7L547.31 377.2L547.4 377.7L547.49 378.2L547.59 378.7L547.7 379.2L547.81 379.7L547.93 380.2L548.06 380.7L548.21 381.2L548.39 381.7L548.6 382.2L548.84 382.7L549.09 383.2L549.36 383.7L549.65 384.2L549.93 384.7L550.22 385.2L550.5 385.7L550.78 386.2L551.04 386.7L551.29 387.2L551.52 387.7L551.75 388.2L551.98 388.7L552.2 389.2L552.41 389.7L552.63 390.2L552.85 390.7L553.06 391.2L553.28 391.7L553.5 392.2L553.72 392.7L553.94 393.2L554.16 393.7L554.4 394.2L554.63 394.7L554.89 395.2L555.15 395.7L555.42 396.2L555.69 396.7L555.97 397.2L556.23 397.7L556.49 398.2L556.74 398.7L556.97 399.2L557.18 399.7L557.36 400.2L557.53 400.7L557.69 401.2L557.84 401.7L557.98 402.2L558.12 402.7L558.25 403.2L558.38 403.7L558.51 404.2L558.64 404.7L558.78 405.2L558.92 405.7L559.06 406.2L559.21 406.7L559.36 407.2L559.52 407.7L559.67 408.2L559.82 408.7L559.96 409.2L560.1 409.7L560.24 410.2L560.37 410.7L560.49 411.2L560.61 411.7L560.75 412.2L560.88 412.7L561.01 413.2L561.12 413.7L561.21 414.2L561.27 414.7L561.29 415.2L561.28 415.7L561.24 416.2L561.18 416.7L561.11 417.2L561.02 417.7L560.92 418.2L560.82 418.7L560.71 419.2L560.6 419.7L560.5 420.2L560.4 420.7L560.31 421.2L560.24 421.7L560.17 422.2L560.11 422.7L560.05 423.2L559.99 423.7L559.93 424.2L559.87 424.7L559.82 425.2L559.76 425.7L559.7 426.2L559.64 426.7L559.57 427.2L559.5 427.7L559.42 428.2L559.33 428.7L559.25 429.2L559.15 429.7L559.06 430.2L558.96 430.7L558.85 431.2L558.74 431.7L558.63 432.2L558.52 432.7L558.4 433.2L558.28 433.7L558.16 434.2L558.03 434.7L557.9 435.2L557.77 435.7L557.64 436.2L557.49 436.7L557.34 437.2L557.19 437.7L557.02 438.2L556.86 438.7L556.68 439.2L556.51 439.7L556.33 440.2L556.15 440.7L555.98 441.2L555.8 441.7L555.63 442.2L555.46 442.7L555.29 443.2L555.13 443.7L554.96 444.2L554.8 444.7L554.64 445.2L554.48 445.7L554.32 446.2L554.16 446.7L554 447.2L553.84 447.7L553.68 448.2L553.52 448.7L553.36 449.2L553.21 449.7L553.05 450.2L552.89 450.7L552.73 451.2L552.57 451.7L552.41 452.2L552.25 452.7L552.08 453.2L551.92 453.7L551.75 454.2L551.59 454.7L551.42 455.2L551.26 455.7L551.09 456.2L550.92 456.7L550.76 457.2L550.6 457.7L550.43 458.2L550.27 458.7L550.11 459.2L549.96 459.7L549.8 460.2L549.65 460.7L549.5 461.2L549.36 461.7L549.21 462.2L549.07 462.7L548.94 463.2L548.81 463.7L548.68 464.2L548.55 464.7L548.43 465.2L548.31 465.7L548.18 466.2L548.06 466.7L547.94 467.2L547.83 467.7L547.71 468.2L547.6 468.7L547.49 469.2L547.38 469.7L547.27 470.2L547.16 470.7L547.06 471.2L546.96 471.7L546.86 472.2L546.77 472.7L546.67 473.2L546.58 473.7L546.5 474.2L546.41 474.7L546.33 475.2L546.25 475.7L546.17 476.2L546.1 476.7L546.02 477.2L545.95 477.7L545.88 478.2L545.81 478.7L545.74 479.2L545.67 479.7L545.6 480.2L545.54 480.7L545.47 481.2L545.41 481.7L545.35 482.2L545.29 482.7L545.23 483.2L545.17 483.7L545.11 484.2L545.06 484.7L545.01 485.2L544.95 485.7L544.9 486.2L544.85 486.7L544.8 487.2L544.76 487.7L544.71 488.2L544.67 488.7L544.62 489.2L544.58 489.7L544.53 490.2L544.49 490.7L544.45 491.2L544.41 491.7L544.37 492.2L544.33 492.7L544.29 493.2L544.25 493.7L544.21 494.2L544.17 494.7L544.13 495.2L544.09 495.7L544.06 496.2L544.02 496.7L543.99 497.2L543.96 497.7L543.92 498.2L543.89 498.7L543.86 499.2L543.83 499.7L543.8 500.2L543.77 500.7L543.74 501.2L543.72 501.7L543.69 502.2L543.67 502.7L543.65 503.2L543.62 503.7L543.6 504.2L543.58 504.7L543.56 505.2L543.54 505.7L543.53 506.2L543.51 506.7L543.49 507.2L543.48 507.7L543.46 508.2L543.45 508.7L543.44 509.2L543.42 509.7L543.41 510.2L543.39 510.7L543.38 511.2L543.36 511.7L543.35 512.2L543.33 512.7L543.33 512.8L543.28 512.8Z"/>
<path class="v" d="M606.46 348L606.51 348L606.52 348.5L606.52 349L606.53 349.5L606.53 350L606.54 350.5L606.54 351L606.55 351.5L606.55 352L606.55 352.5L606.56 353L606.56 353.5L606.57 354L606.57 354.5L606.58 355L606.58 355.5L606.58 356L606.59 356.5L606.59 357L606.6 357.5L606.6 358L606.61 358.5L606.62 359L606.62 359.5L606.63 360L606.64 360.5L606.65 361L606.66 361.5L606.67 362L606.68 362.5L606.69 363L606.7 363.5L606.71 364L606.73 364.5L606.76 365L606.8 365.5L606.85 366L606.91 366.5L606.98 367L607.05 367.5L607.14 368L607.22 368.5L607.31 369L607.41 369.5L607.51 370L607.61 370.5L607.71 371L607.81 371.5L607.91 372L608.02 372.5L608.13 373L608.25 373.5L608.39 374L608.53 374.5L608.67 375L608.83 375.5L608.98 376L609.14 376.5L609.31 377L609.47 377.5L609.64 378L609.81 378.5L609.98 379L610.14 379.5L610.31 380L610.47 380.5L610.64 381L610.8 381.5L610.97 382L611.14 382.5L611.32 383L611.5 383.5L611.68 384L611.87 384.5L612.07 385L612.27 385.5L612.48 386L612.69 386.5L612.9 387L613.13 387.5L613.35 388L613.59 388.5L613.84 389L614.1 389.5L614.38 390L614.67 390.5L614.98 391L615.33 391.5L615.78 392L616.3 392.5L616.85 393L617.4 393.5L617.9 394L618.33 394.5L618.63 395L618.8 395.5L618.92 396L619.01 396.5L619.08 397L619.15 397.5L619.23 398L619.32 398.5L619.45 399L619.64 399.5L619.99 400L620.45 400.5L620.99 401L621.55 401.5L622.11 402L622.6 402.5L622.99 403L623.26 403.5L623.46 404L623.63 404.5L623.79 405L623.95 405.5L624.13 406L624.36 406.5L624.65 407L625 407.5L625.38 408L625.78 408.5L626.17 409L626.55 409.5L626.88 410L627.16 410.5L627.43 411L627.7 411.5L627.97 412L628.21 412.5L628.42 413L628.58 413.5L628.68 414L628.71 414.5L628.61 415L628.41 415.5L628.14 416L627.86 416.5L627.6 417L627.37 417.5L627.11 418L626.87 418.5L626.72 419L626.78 419.5L627.15 420L627.72 420.5L628.37 421L628.97 421.5L629.39 422L629.5 422.5L629.21 423L628.62 423.5L627.87 424L627.11 424.5L626.49 425L626.08 425.5L625.68 426L625.31 426.5L625 427L624.79 427.5L624.71 428L624.84 428.5L625.16 429L625.53 429.5L625.82 430L625.9 430.5L625.7 431L625.28 431.5L624.75 432L624.2 432.5L623.73 433L623.24 433.5L622.72 434L622.18 434.5L621.64 435L621.11 435.5L620.62 436L620.16 436.5L619.75 437L619.36 437.5L618.97 438L618.59 438.5L618.23 439L617.88 439.5L617.55 440L617.24 440.5L616.95 441L616.69 441.5L616.47 442L616.27 442.5L616.11 443L615.97 443.5L615.84 444L615.73 444.5L615.62 445L615.52 445.5L615.43 446L615.33 446.5L615.22 447L615.1 447.5L614.97 448L614.81 448.5L614.63 449L614.41 449.5L614.14 450L613.83 450.5L613.51 451L613.17 451.5L612.84 452L612.52 452.5L612.22 453L611.96 453.5L611.73 454L611.5 454.5L611.28 455L611.07 455.5L610.87 456L610.67 456.5L610.48 457L610.29 457.5L610.12 458L609.95 458.5L609.79 459L609.65 459.5L609.51 460L609.38 460.5L609.25 461L609.13 461.5L609.01 462L608.9 462.5L608.79 463L608.68 463.5L608.58 464L608.48 464.5L608.39 465L608.3 465.5L608.21 466L608.13 466.5L608.05 467L607.98 467.5L607.91 468L607.84 468.5L607.77 469L607.7 469.5L607.64 470L607.57 470.5L607.5 471L607.44 471.5L607.37 472L607.31 472.5L607.25 473L607.19 473.5L607.13 474L607.08 474.5L607.03 475L606.98 475.5L606.93 476L606.89 476.5L606.85 477L606.82 477.5L606.79 478L606.76 478.5L606.74 479L606.72 479.5L606.71 480L606.7 480.5L606.69 481L606.68 481.5L606.68 482L606.67 482.5L606.66 483L606.66 483.5L606.65 484L606.64 484.5L606.64 485L606.63 485.5L606.63 486L606.62 486.5L606.62 487L606.61 487.5L606.61 488L606.6 488.5L606.6 489L606.59 489.5L606.59 490L606.59 490.5L606.58 491L606.58 491.5L606.58 492L606.57 492.5L606.57 493L606.57 493.5L606.56 494L606.56 494.5L606.56 495L606.56 495.5L606.55 496L606.55 496.5L606.55 497L606.54 497.5L606.54 498L606.54 498.5L606.53 499L606.53 499.5L606.52 500L606.52 500.5L606.52 501L606.51 501.5L606.51 501.6L606.46 501.6Z"/>
<path class="v" d="M669.64 359.6L669.69 359.6L669.7 360.1L669.72 360.6L669.73 361.1L669.74 361.6L669.76 362.1L669.77 362.6L669.78 363.1L669.79 363.6L669.8 364.1L669.81 364.6L669.83 365.1L669.84 365.6L669.85 366.1L669.86 366.6L669.88 367.1L669.89 367.6L669.9 368.1L669.92 368.6L669.94 369.1L669.95 369.6L669.97 370.1L669.99 370.6L670.01 371.1L670.03 371.6L670.05 372.1L670.08 372.6L670.11 373.1L670.14 373.6L670.17 374.1L670.21 374.6L670.25 375.1L670.3 375.6L670.35 376.1L670.4 376.6L670.45 377.1L670.51 377.6L670.57 378.1L670.64 378.6L670.71 379.1L670.79 379.6L670.87 380.1L670.97 380.6L671.09 381.1L671.23 381.6L671.4 382.1L671.58 382.6L671.77 383.1L671.98 383.6L672.19 384.1L672.41 384.6L672.63 385.1L672.85 385.6L673.08 386.1L673.32 386.6L673.58 387.1L673.85 387.6L674.14 388.1L674.43 388.6L674.73 389.1L675.04 389.6L675.35 390.1L675.67 390.6L675.99 391.1L676.31 391.6L676.65 392.1L677.01 392.6L677.38 393.1L677.75 393.6L678.13 394.1L678.51 394.6L678.88 395.1L679.24 395.6L679.59 396.1L679.92 396.6L680.23 397.1L680.49 397.6L680.74 398.1L681 398.6L681.3 399.1L681.65 399.6L682.11 400.1L682.68 400.6L683.34 401.1L684.06 401.6L684.81 402.1L685.57 402.6L686.31 403.1L687.06 403.6L687.9 404.1L688.77 404.6L689.62 405.1L690.37 405.6L690.98 406.1L691.39 406.6L691.69 407.1L691.93 407.6L692.14 408.1L692.34 408.6L692.57 409.1L692.85 409.6L693.21 410.1L693.64 410.6L694.1 411.1L694.57 411.6L695.01 412.1L695.41 412.6L695.83 413.1L696.27 413.6L696.71 414.1L697.09 414.6L697.4 415.1L697.6 415.6L697.65 416.1L697.62 416.6L697.54 417.1L697.42 417.6L697.28 418.1L697.1 418.6L696.89 419.1L696.49 419.6L695.71 420.1L694.91 420.6L694.47 421.1L694.5 421.6L694.67 422.1L694.93 422.6L695.24 423.1L695.58 423.6L695.89 424.1L696.16 424.6L696.47 425.1L696.8 425.6L697.08 426.1L697.23 426.6L697.15 427.1L696.61 427.6L695.74 428.1L694.71 428.6L693.69 429.1L692.85 429.6L692.14 430.1L691.42 430.6L690.72 431.1L690.06 431.6L689.48 432.1L689.01 432.6L688.65 433.1L688.36 433.6L688.12 434.1L687.91 434.6L687.71 435.1L687.5 435.6L687.27 436.1L686.98 436.6L686.63 437.1L686.19 437.6L685.68 438.1L685.12 438.6L684.52 439.1L683.9 439.6L683.28 440.1L682.68 440.6L682.1 441.1L681.5 441.6L680.89 442.1L680.27 442.6L679.65 443.1L679.04 443.6L678.44 444.1L677.87 444.6L677.32 445.1L676.74 445.6L676.17 446.1L675.62 446.6L675.12 447.1L674.71 447.6L674.4 448.1L674.14 448.6L673.91 449.1L673.7 449.6L673.51 450.1L673.34 450.6L673.18 451.1L673.02 451.6L672.88 452.1L672.74 452.6L672.6 453.1L672.45 453.6L672.3 454.1L672.16 454.6L672.01 455.1L671.87 455.6L671.73 456.1L671.6 456.6L671.47 457.1L671.35 457.6L671.23 458.1L671.12 458.6L671.01 459.1L670.92 459.6L670.83 460.1L670.75 460.6L670.68 461.1L670.61 461.6L670.54 462.1L670.47 462.6L670.41 463.1L670.35 463.6L670.29 464.1L670.24 464.6L670.18 465.1L670.13 465.6L670.08 466.1L670.02 466.6L669.97 467.1L669.92 467.6L669.86 468.1L669.81 468.6L669.75 469.1L669.69 469.6L669.64 469.6Z"/>
<path class="v" d="M732.82 379L732.91 379L732.93 379.5L732.95 380L732.97 380.5L732.98 381L733 381.5L733.01 382L733.02 382.5L733.04 383L733.05 383.5L733.07 384L733.09 384.5L733.11 385L733.13 385.5L733.16 386L733.18 386.5L733.22 387L733.25 387.5L733.29 388L733.35 388.5L733.47 389L733.64 389.5L733.84 390L734.08 390.5L734.32 391L734.56 391.5L734.81 392L735.08 392.5L735.37 393L735.69 393.5L736.02 394L736.37 394.5L736.74 395L737.13 395.5L737.54 396L737.97 396.5L738.45 397L738.97 397.5L739.52 398L740.1 398.5L740.71 399L741.35 399.5L741.99 400L742.65 400.5L743.31 401L743.97 401.5L744.64 402L745.32 402.5L746.02 403L746.75 403.5L747.5 404L748.29 404.5L749.12 405L749.99 405.5L750.92 406L752 406.5L753.49 407L755.08 407.5L756.45 408L757.25 408.5L757.43 409L757.52 409.5L757.63 410L758.13 410.5L759.69 411L761.58 411.5L763.02 412L764.22 412.5L765.2 413L766 413.5L766.72 414L767.4 414.5L768.11 415L768.98 415.5L769.97 416L770.89 416.5L771.53 417L771.7 417.5L771.51 418L771.13 418.5L770.59 419L769.51 419.5L768.62 420L768.58 420.5L768.93 421L769.37 421.5L769.68 422L769.65 422.5L769.32 423L768.83 423.5L768.27 424L767.44 424.5L766.36 425L765.14 425.5L763.89 426L762.71 426.5L761.71 427L760.88 427.5L760.13 428L759.42 428.5L758.75 429L758.09 429.5L757.42 430L756.72 430.5L755.96 431L755.13 431.5L754.12 432L752.94 432.5L751.73 433L750.59 433.5L749.64 434L748.99 434.5L748.67 435L748.47 435.5L748.24 436L747.83 436.5L747.14 437L746.23 437.5L745.18 438L744.07 438.5L742.98 439L741.98 439.5L741.17 440L740.56 440.5L740.03 441L739.54 441.5L739.08 442L738.67 442.5L738.28 443L737.92 443.5L737.57 444L737.25 444.5L736.94 445L736.64 445.5L736.36 446L736.1 446.5L735.85 447L735.61 447.5L735.39 448L735.19 448.5L734.98 449L734.78 449.5L734.59 450L734.41 450.5L734.24 451L734.08 451.5L733.94 452L733.81 452.5L733.71 453L733.62 453.5L733.53 454L733.44 454.5L733.35 455L733.27 455.5L733.2 456L733.13 456.5L733.07 457L733.01 457.5L732.97 458L732.94 458.5L732.92 459L732.91 459.5L732.91 460L732.9 460.5L732.9 461L732.9 461.5L732.89 462L732.89 462.5L732.89 463L732.89 463.5L732.89 464L732.88 464.5L732.88 465L732.88 465.5L732.88 466L732.88 466.5L732.88 467L732.88 467.5L732.88 468L732.87 468.5L732.87 469L732.87 469.5L732.87 469.8L732.82 469.8Z"/>
<path class="v" d="M796 389.96L796.05 389.96L796.06 390.46L796.07 390.96L796.08 391.46L796.09 391.96L796.1 392.46L796.11 392.96L796.12 393.46L796.13 393.96L796.14 394.46L796.16 394.96L796.18 395.46L796.2 395.96L796.22 396.46L796.25 396.96L796.31 397.46L796.44 397.96L796.62 398.46L796.84 398.96L797.08 399.46L797.38 399.96L797.76 400.46L798.24 400.96L798.81 401.46L799.49 401.96L800.37 402.46L801.84 402.96L803.56 403.46L805.12 403.96L806.53 404.46L807.9 404.96L809.28 405.46L810.7 405.96L812.21 406.46L813.84 406.96L815.58 407.46L817.41 407.96L819.26 408.46L821.09 408.96L823.02 409.46L824.99 409.96L826.87 410.46L828.53 410.96L829.83 411.46L830.93 411.96L832.21 412.46L834.06 412.96L836.55 413.46L839.32 413.96L842.3 414.46L846.09 414.96L849.28 415.46L850.36 415.96L850.59 416.46L850.72 416.96L850.87 417.46L851.21 417.96L852.06 418.46L852.65 418.96L852.28 419.46L851.33 419.96L850.24 420.46L849.48 420.96L849.2 421.46L849.02 421.96L848.76 422.46L847.9 422.96L846 423.46L844.03 423.96L841.77 424.46L839.57 424.96L838.14 425.46L837.53 425.96L836.92 426.46L834.92 426.96L830.95 427.46L827.86 427.96L825.7 428.46L823.81 428.96L821.98 429.46L819.99 429.96L817.92 430.46L815.78 430.96L813.53 431.46L811.28 431.96L809.19 432.46L807.32 432.96L805.62 433.46L804.25 433.96L803.09 434.46L802.08 434.96L801.19 435.46L800.41 435.96L799.7 436.46L799.06 436.96L798.53 437.46L798.13 437.96L797.79 438.46L797.49 438.96L797.22 439.46L796.99 439.96L796.8 440.46L796.66 440.96L796.56 441.46L796.47 441.96L796.4 442.46L796.33 442.96L796.28 443.46L796.22 443.96L796.16 444.46L796.1 444.96L796.09 445L796 445Z"/>
<path class="w" d="M152.9 173V354.55M152.9 478.45V664.4"/>
<rect class="b" x="146.55" y="354.55" width="12.7" height="123.9"/>
<path class="m" d="M146.55 414.1H159.25"/>
<path class="w" d="M216.08 220.4V368.35M216.08 467.15V615"/>
<rect class="b" x="209.73" y="368.35" width="12.7" height="98.8"/>
<path class="m" d="M209.73 416.5H222.43"/>
<path class="w" d="M279.26 262V379.55M279.26 459.25V578.6"/>
<rect class="b" x="272.91" y="379.55" width="12.7" height="79.7"/>
<path class="m" d="M272.91 418.6H285.61"/>
<path class="w" d="M342.44 288.4V385.55M342.44 451.25V549"/>
<rect class="b" x="336.09" y="385.55" width="12.7" height="65.7"/>
<path class="m" d="M336.09 418.2H348.79"/>
<path class="w" d="M405.62 314V392.55M405.62 446.05V525.6"/>
<rect class="b" x="399.27" y="392.55" width="12.7" height="53.5"/>
<path class="m" d="M399.27 418.6H411.97"/>
<path class="w" d="M468.8 334.1V398.65M468.8 442.15V507.2"/>
<rect class="b" x="462.45" y="398.65" width="12.7" height="43.5"/>
<path class="m" d="M462.45 419.7H475.15"/>
<path class="w" d="M531.98 349.8V402.05M531.98 437.35V488.8"/>
<rect class="b" x="525.63" y="402.05" width="12.7" height="35.3"/>
<path class="m" d="M525.63 418.9H538.33"/>
<path class="w" d="M595.16 363.8V404.75M595.16 432.35V472.8"/>
<rect class="b" x="588.81" y="404.75" width="12.7" height="27.6"/>
<path class="m" d="M588.81 418.9H601.51"/>
<path class="w" d="M658.34 375.9V408.45M658.34 430.55V463.2"/>
<rect class="b" x="651.99" y="408.45" width="12.7" height="22.1"/>
<path class="m" d="M651.99 418.6H664.69"/>
<path class="w" d="M721.52 388.7V411.65M721.52 427.75V451.3"/>
<rect class="b" x="715.17" y="411.65" width="12.7" height="16.1"/>
<path class="m" d="M715.17 419.6H727.87"/>
<path class="w" d="M784.7 398.9V414.15M784.7 424.65V440.2"/>
<rect class="b" x="778.35" y="414.15" width="12.7" height="10.5"/>
<path class="m" d="M778.35 419.4H791.05"/>
</g>
<path class="t" d="M106.2 71H115M106.2 276.7H115M106.2 482.4H115M106.2 688.1H115M152.9 744V752.8M216.08 744V752.8M279.26 744V752.8M342.44 744V752.8M405.62 744V752.8M468.8 744V752.8M531.98 744V752.8M595.16 744V752.8M658.34 744V752.8M721.52 744V752.8M784.7 744V752.8"/>
<text class="tk" text-anchor="end" transform="translate(100.1 81.15) scale(1 1.06)">1.0</text>
<text class="tk" text-anchor="end" transform="translate(100.1 286.85) scale(1 1.06)">0.5</text>
<text class="tk" text-anchor="end" transform="translate(100.1 492.55) scale(1 1.06)">0.0</text>
<text class="tk" text-anchor="end" transform="translate(100.1 698.25) scale(1 1.06)"><tspan dy="2.5">−</tspan><tspan dy="-2.5">0.5</tspan></text>
<text class="tk" text-anchor="end" transform="translate(173.35 759.3) rotate(-90) scale(1 1.06)">26</text>
<text class="tk" text-anchor="end" transform="translate(236.53 759.3) rotate(-90) scale(1 1.06)">38</text>
<text class="tk" text-anchor="end" transform="translate(299.71 759.3) rotate(-90) scale(1 1.06)">55</text>
<text class="tk" text-anchor="end" transform="translate(362.89 759.3) rotate(-90) scale(1 1.06)">78</text>
<text class="tk" text-anchor="end" transform="translate(426.07 759.3) rotate(-90) scale(1 1.06)">113</text>
<text class="tk" text-anchor="end" transform="translate(489.25 759.3) rotate(-90) scale(1 1.06)">162</text>
<text class="tk" text-anchor="end" transform="translate(552.43 759.3) rotate(-90) scale(1 1.06)">234</text>
<text class="tk" text-anchor="end" transform="translate(615.61 759.3) rotate(-90) scale(1 1.06)">336</text>
<text class="tk" text-anchor="end" transform="translate(678.79 759.3) rotate(-90) scale(1 1.06)">483</text>
<text class="tk" text-anchor="end" transform="translate(741.97 759.3) rotate(-90) scale(1 1.06)">695</text>
<text class="tk" text-anchor="end" transform="translate(805.15 759.3) rotate(-90) scale(1 1.06)">1000</text>
<text class="ax" text-anchor="middle" x="487.75" y="854.2">sample size</text>
<text class="ax" text-anchor="middle" transform="translate(29.5 402) rotate(-90) scale(1 1.055)">effect size</text>
</g>
<g id="panel2">
<text class="tt" transform="translate(1004.3 34.1) scale(1 1.015)">OFC</text>
<clipPath id="c1"><rect x="1004.3" y="60" width="745.7" height="684"/></clipPath>
<rect x="1004.3" y="60" width="745.7" height="684" fill="#e6e8e7"/>
<g clip-path="url(#c1)">
<path class="gm" d="M1004.3 149.2H1750M1004.3 344.4H1750M1004.3 539.6H1750M1004.3 734.8H1750"/>
<path class="gM" d="M1004.3 246.8H1750M1004.3 442H1750M1004.3 637.2H1750M1042.7 60V744M1105.85 60V744M1169 60V744M1232.15 60V744M1295.3 60V744M1358.45 60V744M1421.6 60V744M1484.75 60V744M1547.9 60V744M1611.05 60V744M1674.2 60V744"/>
<path class="v" d="M1054 91L1054.01 91L1054.01 92L1054.01 93L1054.01 94L1054.01 95L1054.01 96L1054.01 97L1054.01 98L1054.01 99L1054.01 100L1054.01 101L1054.02 102L1054.02 103L1054.02 104L1054.02 105L1054.02 106L1054.02 107L1054.02 108L1054.02 109L1054.02 110L1054.02 111L1054.02 112L1054.03 113L1054.03 114L1054.03 115L1054.03 116L1054.03 117L1054.03 118L1054.03 119L1054.03 120L1054.04 121L1054.04 122L1054.04 123L1054.04 124L1054.04 125L1054.04 126L1054.05 127L1054.05 128L1054.05 129L1054.05 130L1054.05 131L1054.06 132L1054.06 133L1054.06 134L1054.06 135L1054.07 136L1054.07 137L1054.07 138L1054.08 139L1054.08 140L1054.08 141L1054.09 142L1054.09 143L1054.09 144L1054.1 145L1054.1 146L1054.1 147L1054.11 148L1054.11 149L1054.12 150L1054.12 151L1054.12 152L1054.13 153L1054.13 154L1054.14 155L1054.14 156L1054.15 157L1054.16 158L1054.16 159L1054.17 160L1054.17 161L1054.18 162L1054.19 163L1054.19 164L1054.2 165L1054.21 166L1054.21 167L1054.22 168L1054.23 169L1054.24 170L1054.24 171L1054.25 172L1054.26 173L1054.27 174L1054.28 175L1054.29 176L1054.3 177L1054.31 178L1054.32 179L1054.33 180L1054.34 181L1054.35 182L1054.36 183L1054.37 184L1054.38 185L1054.4 186L1054.41 187L1054.42 188L1054.43 189L1054.45 190L1054.46 191L1054.47 192L1054.49 193L1054.5 194L1054.52 195L1054.53 196L1054.55 197L1054.57 198L1054.58 199L1054.6 200L1054.62 201L1054.63 202L1054.65 203L1054.67 204L1054.69 205L1054.71 206L1054.73 207L1054.75 208L1054.77 209L1054.79 210L1054.81 211L1054.83 212L1054.85 213L1054.87 214L1054.9 215L1054.92 216L1054.94 217L1054.97 218L1054.99 219L1055.02 220L1055.04 221L1055.07 222L1055.09 223L1055.12 224L1055.15 225L1055.17 226L1055.2 227L1055.23 228L1055.26 229L1055.29 230L1055.32 231L1055.35 232L1055.38 233L1055.41 234L1055.44 235L1055.47 236L1055.5 237L1055.54 238L1055.57 239L1055.6 240L1055.64 241L1055.67 242L1055.7 243L1055.74 244L1055.77 245L1055.81 246L1055.85 247L1055.88 248L1055.92 249L1055.96 250L1055.99 251L1056.03 252L1056.07 253L1056.11 254L1056.15 255L1056.19 256L1056.23 257L1056.27 258L1056.31 259L1056.35 260L1056.39 261L1056.43 262L1056.47 263L1056.51 264L1056.55 265L1056.59 266L1056.63 267L1056.68 268L1056.72 269L1056.76 270L1056.8 271L1056.85 272L1056.89 273L1056.93 274L1056.98 275L1057.02 276L1057.06 277L1057.11 278L1057.15 279L1057.19 280L1057.23 281L1057.28 282L1057.32 283L1057.36 284L1057.41 285L1057.45 286L1057.49 287L1057.54 288L1057.58 289L1057.62 290L1057.66 291L1057.71 292L1057.75 293L1057.79 294L1057.83 295L1057.87 296L1057.91 297L1057.95 298L1057.99 299L1058.03 300L1058.07 301L1058.11 302L1058.15 303L1058.19 304L1058.23 305L1058.27 306L1058.3 307L1058.34 308L1058.37 309L1058.41 310L1058.45 311L1058.48 312L1058.51 313L1058.55 314L1058.58 315L1058.61 316L1058.64 317L1058.67 318L1058.71 319L1058.73 320L1058.76 321L1058.79 322L1058.82 323L1058.85 324L1058.87 325L1058.9 326L1058.92 327L1058.95 328L1058.97 329L1058.99 330L1059.01 331L1059.03 332L1059.05 333L1059.07 334L1059.09 335L1059.1 336L1059.12 337L1059.14 338L1059.15 339L1059.16 340L1059.18 341L1059.19 342L1059.2 343L1059.21 344L1059.22 345L1059.22 346L1059.23 347L1059.24 348L1059.24 349L1059.24 350L1059.25 351L1059.25 352L1059.25 353L1059.25 354L1059.25 355L1059.25 356L1059.25 357L1059.24 358L1059.24 359L1059.24 360L1059.23 361L1059.23 362L1059.22 363L1059.22 364L1059.21 365L1059.2 366L1059.2 367L1059.19 368L1059.18 369L1059.17 370L1059.16 371L1059.15 372L1059.14 373L1059.13 374L1059.11 375L1059.1 376L1059.09 377L1059.07 378L1059.06 379L1059.04 380L1059.03 381L1059.01 382L1059 383L1058.98 384L1058.96 385L1058.94 386L1058.92 387L1058.91 388L1058.89 389L1058.87 390L1058.85 391L1058.82 392L1058.8 393L1058.78 394L1058.76 395L1058.74 396L1058.71 397L1058.69 398L1058.67 399L1058.64 400L1058.62 401L1058.59 402L1058.57 403L1058.54 404L1058.51 405L1058.49 406L1058.46 407L1058.43 408L1058.41 409L1058.38 410L1058.35 411L1058.32 412L1058.29 413L1058.26 414L1058.23 415L1058.2 416L1058.17 417L1058.14 418L1058.11 419L1058.08 420L1058.05 421L1058.02 422L1057.99 423L1057.96 424L1057.92 425L1057.89 426L1057.86 427L1057.83 428L1057.79 429L1057.76 430L1057.73 431L1057.7 432L1057.66 433L1057.63 434L1057.6 435L1057.56 436L1057.53 437L1057.5 438L1057.46 439L1057.43 440L1057.39 441L1057.36 442L1057.33 443L1057.29 444L1057.26 445L1057.23 446L1057.19 447L1057.16 448L1057.12 449L1057.09 450L1057.06 451L1057.02 452L1056.99 453L1056.95 454L1056.92 455L1056.89 456L1056.85 457L1056.82 458L1056.79 459L1056.75 460L1056.72 461L1056.69 462L1056.65 463L1056.62 464L1056.59 465L1056.55 466L1056.52 467L1056.49 468L1056.46 469L1056.42 470L1056.39 471L1056.36 472L1056.33 473L1056.3 474L1056.27 475L1056.23 476L1056.2 477L1056.17 478L1056.14 479L1056.11 480L1056.08 481L1056.05 482L1056.02 483L1055.99 484L1055.96 485L1055.93 486L1055.9 487L1055.87 488L1055.85 489L1055.82 490L1055.79 491L1055.76 492L1055.73 493L1055.71 494L1055.68 495L1055.65 496L1055.63 497L1055.6 498L1055.57 499L1055.55 500L1055.52 501L1055.5 502L1055.47 503L1055.45 504L1055.42 505L1055.4 506L1055.37 507L1055.35 508L1055.33 509L1055.3 510L1055.28 511L1055.26 512L1055.23 513L1055.21 514L1055.19 515L1055.17 516L1055.15 517L1055.13 518L1055.1 519L1055.08 520L1055.06 521L1055.04 522L1055.02 523L1055 524L1054.98 525L1054.97 526L1054.95 527L1054.93 528L1054.91 529L1054.89 530L1054.87 531L1054.86 532L1054.84 533L1054.82 534L1054.81 535L1054.79 536L1054.77 537L1054.76 538L1054.74 539L1054.72 540L1054.71 541L1054.69 542L1054.68 543L1054.67 544L1054.65 545L1054.64 546L1054.62 547L1054.61 548L1054.6 549L1054.58 550L1054.57 551L1054.56 552L1054.54 553L1054.53 554L1054.52 555L1054.51 556L1054.5 557L1054.49 558L1054.47 559L1054.46 560L1054.45 561L1054.44 562L1054.43 563L1054.42 564L1054.41 565L1054.4 566L1054.39 567L1054.38 568L1054.37 569L1054.36 570L1054.36 571L1054.35 572L1054.34 573L1054.33 574L1054.32 575L1054.31 576L1054.31 577L1054.3 578L1054.29 579L1054.28 580L1054.28 581L1054.27 582L1054.26 583L1054.26 584L1054.25 585L1054.24 586L1054.24 587L1054.23 588L1054.22 589L1054.22 590L1054.21 591L1054.21 592L1054.2 593L1054.2 594L1054.19 595L1054.18 596L1054.18 597L1054.17 598L1054.17 599L1054.17 600L1054.16 601L1054.16 602L1054.15 603L1054.15 604L1054.14 605L1054.14 606L1054.14 607L1054.13 608L1054.13 609L1054.12 610L1054.12 611L1054.12 612L1054.11 613L1054.11 614L1054.11 615L1054.1 616L1054.1 617L1054.1 618L1054.09 619L1054.09 620L1054.09 621L1054.09 622L1054.08 623L1054.08 624L1054.08 625L1054.08 626L1054.07 627L1054.07 628L1054.07 629L1054.07 630L1054.07 631L1054.06 632L1054.06 633L1054.06 634L1054.06 635L1054.06 636L1054.05 637L1054.05 638L1054.05 639L1054.05 640L1054.05 641L1054.05 642L1054.04 643L1054.04 644L1054.04 645L1054.04 646L1054.04 647L1054.04 648L1054.04 649L1054.04 650L1054.03 651L1054.03 652L1054.03 653L1054.03 654L1054.03 655L1054.03 656L1054.03 657L1054.03 658L1054.03 659L1054.03 660L1054.02 661L1054.02 662L1054.02 663L1054.02 664L1054.02 665L1054.02 666L1054.02 667L1054.02 668L1054.02 669L1054.02 670L1054.02 671L1054.02 672L1054.02 673L1054.02 674L1054.01 675L1054.01 676L1054.01 677L1054.01 678L1054.01 679L1054.01 680L1054.01 681L1054.01 682L1054.01 683L1054.01 684L1054.01 685L1054.01 686L1054.01 687L1054.01 688L1054.01 689L1054.01 690L1054.01 691L1054.01 692L1054.01 693L1054.01 694L1054.01 695L1054.01 696L1054.01 697L1054.01 698L1054.01 699L1054.01 700L1054.01 701L1054.01 702L1054.01 703L1054 704L1054 705L1054 706L1054 707L1054 708L1054 709L1054 710L1054 711L1054 712L1054 713L1054 713Z"/>
<path class="v" d="M1117.15 162.6L1117.17 162.6L1117.17 163.6L1117.17 164.6L1117.17 165.6L1117.17 166.6L1117.17 167.6L1117.17 168.6L1117.17 169.6L1117.18 170.6L1117.18 171.6L1117.18 172.6L1117.18 173.6L1117.18 174.6L1117.19 175.6L1117.19 176.6L1117.19 177.6L1117.19 178.6L1117.19 179.6L1117.2 180.6L1117.2 181.6L1117.2 182.6L1117.2 183.6L1117.21 184.6L1117.21 185.6L1117.21 186.6L1117.22 187.6L1117.22 188.6L1117.23 189.6L1117.23 190.6L1117.23 191.6L1117.24 192.6L1117.24 193.6L1117.25 194.6L1117.25 195.6L1117.26 196.6L1117.26 197.6L1117.27 198.6L1117.28 199.6L1117.28 200.6L1117.29 201.6L1117.3 202.6L1117.3 203.6L1117.31 204.6L1117.32 205.6L1117.33 206.6L1117.33 207.6L1117.34 208.6L1117.35 209.6L1117.36 210.6L1117.37 211.6L1117.38 212.6L1117.39 213.6L1117.4 214.6L1117.42 215.6L1117.43 216.6L1117.44 217.6L1117.45 218.6L1117.47 219.6L1117.48 220.6L1117.49 221.6L1117.51 222.6L1117.53 223.6L1117.54 224.6L1117.56 225.6L1117.57 226.6L1117.59 227.6L1117.61 228.6L1117.63 229.6L1117.65 230.6L1117.67 231.6L1117.69 232.6L1117.71 233.6L1117.73 234.6L1117.76 235.6L1117.78 236.6L1117.8 237.6L1117.83 238.6L1117.86 239.6L1117.88 240.6L1117.91 241.6L1117.94 242.6L1117.97 243.6L1117.99 244.6L1118.03 245.6L1118.06 246.6L1118.09 247.6L1118.12 248.6L1118.15 249.6L1118.19 250.6L1118.22 251.6L1118.26 252.6L1118.3 253.6L1118.34 254.6L1118.37 255.6L1118.41 256.6L1118.45 257.6L1118.5 258.6L1118.54 259.6L1118.58 260.6L1118.63 261.6L1118.67 262.6L1118.72 263.6L1118.76 264.6L1118.81 265.6L1118.86 266.6L1118.91 267.6L1118.96 268.6L1119.01 269.6L1119.06 270.6L1119.11 271.6L1119.17 272.6L1119.22 273.6L1119.28 274.6L1119.33 275.6L1119.39 276.6L1119.45 277.6L1119.51 278.6L1119.57 279.6L1119.63 280.6L1119.69 281.6L1119.75 282.6L1119.81 283.6L1119.87 284.6L1119.93 285.6L1120 286.6L1120.06 287.6L1120.13 288.6L1120.19 289.6L1120.26 290.6L1120.32 291.6L1120.39 292.6L1120.46 293.6L1120.52 294.6L1120.59 295.6L1120.66 296.6L1120.73 297.6L1120.8 298.6L1120.86 299.6L1120.93 300.6L1121 301.6L1121.07 302.6L1121.14 303.6L1121.21 304.6L1121.28 305.6L1121.35 306.6L1121.41 307.6L1121.48 308.6L1121.55 309.6L1121.62 310.6L1121.68 311.6L1121.75 312.6L1121.82 313.6L1121.88 314.6L1121.95 315.6L1122.01 316.6L1122.08 317.6L1122.14 318.6L1122.2 319.6L1122.26 320.6L1122.32 321.6L1122.38 322.6L1122.44 323.6L1122.5 324.6L1122.56 325.6L1122.61 326.6L1122.67 327.6L1122.72 328.6L1122.77 329.6L1122.82 330.6L1122.87 331.6L1122.92 332.6L1122.97 333.6L1123.02 334.6L1123.06 335.6L1123.1 336.6L1123.14 337.6L1123.18 338.6L1123.22 339.6L1123.26 340.6L1123.29 341.6L1123.32 342.6L1123.36 343.6L1123.39 344.6L1123.41 345.6L1123.44 346.6L1123.46 347.6L1123.48 348.6L1123.5 349.6L1123.52 350.6L1123.54 351.6L1123.55 352.6L1123.57 353.6L1123.58 354.6L1123.59 355.6L1123.59 356.6L1123.6 357.6L1123.6 358.6L1123.6 359.6L1123.6 360.6L1123.6 361.6L1123.59 362.6L1123.59 363.6L1123.58 364.6L1123.58 365.6L1123.57 366.6L1123.56 367.6L1123.55 368.6L1123.54 369.6L1123.52 370.6L1123.51 371.6L1123.49 372.6L1123.48 373.6L1123.46 374.6L1123.44 375.6L1123.42 376.6L1123.4 377.6L1123.38 378.6L1123.35 379.6L1123.33 380.6L1123.3 381.6L1123.28 382.6L1123.25 383.6L1123.22 384.6L1123.19 385.6L1123.16 386.6L1123.13 387.6L1123.1 388.6L1123.06 389.6L1123.03 390.6L1122.99 391.6L1122.96 392.6L1122.92 393.6L1122.88 394.6L1122.84 395.6L1122.8 396.6L1122.76 397.6L1122.72 398.6L1122.68 399.6L1122.64 400.6L1122.6 401.6L1122.55 402.6L1122.51 403.6L1122.46 404.6L1122.42 405.6L1122.37 406.6L1122.32 407.6L1122.27 408.6L1122.23 409.6L1122.18 410.6L1122.13 411.6L1122.08 412.6L1122.03 413.6L1121.98 414.6L1121.93 415.6L1121.88 416.6L1121.82 417.6L1121.77 418.6L1121.72 419.6L1121.67 420.6L1121.61 421.6L1121.56 422.6L1121.51 423.6L1121.45 424.6L1121.4 425.6L1121.35 426.6L1121.29 427.6L1121.24 428.6L1121.19 429.6L1121.13 430.6L1121.08 431.6L1121.02 432.6L1120.97 433.6L1120.92 434.6L1120.86 435.6L1120.81 436.6L1120.76 437.6L1120.7 438.6L1120.65 439.6L1120.59 440.6L1120.54 441.6L1120.49 442.6L1120.44 443.6L1120.38 444.6L1120.33 445.6L1120.28 446.6L1120.23 447.6L1120.18 448.6L1120.12 449.6L1120.07 450.6L1120.02 451.6L1119.97 452.6L1119.92 453.6L1119.87 454.6L1119.82 455.6L1119.78 456.6L1119.73 457.6L1119.68 458.6L1119.63 459.6L1119.58 460.6L1119.54 461.6L1119.49 462.6L1119.45 463.6L1119.4 464.6L1119.36 465.6L1119.31 466.6L1119.27 467.6L1119.22 468.6L1119.18 469.6L1119.14 470.6L1119.1 471.6L1119.06 472.6L1119.02 473.6L1118.97 474.6L1118.94 475.6L1118.9 476.6L1118.86 477.6L1118.82 478.6L1118.78 479.6L1118.74 480.6L1118.71 481.6L1118.67 482.6L1118.64 483.6L1118.6 484.6L1118.57 485.6L1118.53 486.6L1118.5 487.6L1118.47 488.6L1118.44 489.6L1118.4 490.6L1118.37 491.6L1118.34 492.6L1118.31 493.6L1118.28 494.6L1118.25 495.6L1118.23 496.6L1118.2 497.6L1118.17 498.6L1118.14 499.6L1118.12 500.6L1118.09 501.6L1118.07 502.6L1118.04 503.6L1118.02 504.6L1117.99 505.6L1117.97 506.6L1117.95 507.6L1117.93 508.6L1117.9 509.6L1117.88 510.6L1117.86 511.6L1117.84 512.6L1117.82 513.6L1117.8 514.6L1117.78 515.6L1117.76 516.6L1117.75 517.6L1117.73 518.6L1117.71 519.6L1117.69 520.6L1117.68 521.6L1117.66 522.6L1117.65 523.6L1117.63 524.6L1117.62 525.6L1117.6 526.6L1117.59 527.6L1117.57 528.6L1117.56 529.6L1117.55 530.6L1117.53 531.6L1117.52 532.6L1117.51 533.6L1117.5 534.6L1117.49 535.6L1117.48 536.6L1117.46 537.6L1117.45 538.6L1117.44 539.6L1117.43 540.6L1117.42 541.6L1117.41 542.6L1117.41 543.6L1117.4 544.6L1117.39 545.6L1117.38 546.6L1117.37 547.6L1117.36 548.6L1117.36 549.6L1117.35 550.6L1117.34 551.6L1117.33 552.6L1117.33 553.6L1117.32 554.6L1117.32 555.6L1117.31 556.6L1117.3 557.6L1117.3 558.6L1117.29 559.6L1117.29 560.6L1117.28 561.6L1117.28 562.6L1117.27 563.6L1117.27 564.6L1117.26 565.6L1117.26 566.6L1117.25 567.6L1117.25 568.6L1117.25 569.6L1117.24 570.6L1117.24 571.6L1117.24 572.6L1117.23 573.6L1117.23 574.6L1117.23 575.6L1117.22 576.6L1117.22 577.6L1117.22 578.6L1117.21 579.6L1117.21 580.6L1117.21 581.6L1117.21 582.6L1117.2 583.6L1117.2 584.6L1117.2 585.6L1117.2 586.6L1117.2 587.6L1117.19 588.6L1117.19 589.6L1117.19 590.6L1117.19 591.6L1117.19 592.6L1117.18 593.6L1117.18 594.6L1117.18 595.6L1117.18 596.6L1117.18 597.6L1117.18 598.6L1117.18 599.6L1117.18 600.6L1117.17 601.6L1117.17 602.6L1117.17 603.6L1117.17 604.6L1117.17 605.6L1117.17 606.6L1117.17 607.6L1117.17 608.6L1117.17 609.6L1117.17 610.6L1117.17 611.6L1117.16 612.6L1117.16 613.6L1117.16 614.6L1117.16 615.6L1117.16 616.6L1117.16 617.6L1117.16 618.6L1117.16 619.6L1117.16 620.6L1117.16 621.6L1117.16 622.6L1117.16 623L1117.15 623Z"/>
<path class="v" d="M1180.3 200L1180.32 200L1180.32 201L1180.33 202L1180.33 203L1180.33 204L1180.33 205L1180.33 206L1180.34 207L1180.34 208L1180.34 209L1180.34 210L1180.35 211L1180.35 212L1180.35 213L1180.36 214L1180.36 215L1180.37 216L1180.37 217L1180.37 218L1180.38 219L1180.38 220L1180.39 221L1180.4 222L1180.4 223L1180.41 224L1180.42 225L1180.42 226L1180.43 227L1180.44 228L1180.45 229L1180.46 230L1180.47 231L1180.48 232L1180.49 233L1180.5 234L1180.51 235L1180.52 236L1180.53 237L1180.55 238L1180.56 239L1180.58 240L1180.59 241L1180.61 242L1180.62 243L1180.64 244L1180.66 245L1180.68 246L1180.7 247L1180.72 248L1180.74 249L1180.77 250L1180.79 251L1180.81 252L1180.84 253L1180.87 254L1180.89 255L1180.92 256L1180.95 257L1180.99 258L1181.02 259L1181.05 260L1181.09 261L1181.12 262L1181.16 263L1181.2 264L1181.24 265L1181.28 266L1181.32 267L1181.37 268L1181.41 269L1181.46 270L1181.51 271L1181.56 272L1181.61 273L1181.66 274L1181.72 275L1181.77 276L1181.83 277L1181.89 278L1181.95 279L1182.01 280L1182.08 281L1182.14 282L1182.21 283L1182.28 284L1182.35 285L1182.42 286L1182.49 287L1182.57 288L1182.64 289L1182.72 290L1182.8 291L1182.88 292L1182.96 293L1183.05 294L1183.13 295L1183.22 296L1183.3 297L1183.39 298L1183.48 299L1183.57 300L1183.67 301L1183.76 302L1183.85 303L1183.95 304L1184.04 305L1184.14 306L1184.24 307L1184.33 308L1184.43 309L1184.53 310L1184.63 311L1184.73 312L1184.83 313L1184.93 314L1185.03 315L1185.13 316L1185.23 317L1185.33 318L1185.43 319L1185.53 320L1185.63 321L1185.73 322L1185.83 323L1185.92 324L1186.02 325L1186.12 326L1186.21 327L1186.3 328L1186.4 329L1186.49 330L1186.58 331L1186.66 332L1186.75 333L1186.83 334L1186.92 335L1187 336L1187.08 337L1187.15 338L1187.23 339L1187.3 340L1187.37 341L1187.43 342L1187.5 343L1187.56 344L1187.62 345L1187.68 346L1187.73 347L1187.78 348L1187.83 349L1187.87 350L1187.91 351L1187.95 352L1187.99 353L1188.02 354L1188.05 355L1188.07 356L1188.09 357L1188.11 358L1188.13 359L1188.14 360L1188.14 361L1188.15 362L1188.15 363L1188.15 364L1188.14 365L1188.14 366L1188.13 367L1188.12 368L1188.11 369L1188.09 370L1188.08 371L1188.06 372L1188.04 373L1188.01 374L1187.99 375L1187.96 376L1187.93 377L1187.9 378L1187.87 379L1187.84 380L1187.8 381L1187.76 382L1187.72 383L1187.68 384L1187.63 385L1187.59 386L1187.54 387L1187.49 388L1187.44 389L1187.39 390L1187.33 391L1187.28 392L1187.22 393L1187.16 394L1187.1 395L1187.04 396L1186.98 397L1186.92 398L1186.85 399L1186.79 400L1186.72 401L1186.65 402L1186.58 403L1186.51 404L1186.44 405L1186.37 406L1186.3 407L1186.23 408L1186.15 409L1186.08 410L1186 411L1185.93 412L1185.85 413L1185.77 414L1185.7 415L1185.62 416L1185.54 417L1185.46 418L1185.38 419L1185.3 420L1185.23 421L1185.15 422L1185.07 423L1184.99 424L1184.91 425L1184.83 426L1184.75 427L1184.67 428L1184.6 429L1184.52 430L1184.44 431L1184.36 432L1184.29 433L1184.21 434L1184.13 435L1184.06 436L1183.98 437L1183.91 438L1183.83 439L1183.76 440L1183.69 441L1183.61 442L1183.54 443L1183.47 444L1183.4 445L1183.33 446L1183.26 447L1183.19 448L1183.13 449L1183.06 450L1182.99 451L1182.93 452L1182.87 453L1182.8 454L1182.74 455L1182.68 456L1182.62 457L1182.56 458L1182.5 459L1182.44 460L1182.39 461L1182.33 462L1182.28 463L1182.22 464L1182.17 465L1182.12 466L1182.07 467L1182.02 468L1181.97 469L1181.92 470L1181.87 471L1181.82 472L1181.78 473L1181.74 474L1181.69 475L1181.65 476L1181.61 477L1181.57 478L1181.53 479L1181.49 480L1181.45 481L1181.41 482L1181.38 483L1181.34 484L1181.31 485L1181.28 486L1181.24 487L1181.21 488L1181.18 489L1181.15 490L1181.12 491L1181.09 492L1181.06 493L1181.04 494L1181.01 495L1180.99 496L1180.96 497L1180.94 498L1180.91 499L1180.89 500L1180.87 501L1180.85 502L1180.83 503L1180.81 504L1180.79 505L1180.77 506L1180.75 507L1180.73 508L1180.72 509L1180.7 510L1180.68 511L1180.67 512L1180.65 513L1180.64 514L1180.63 515L1180.61 516L1180.6 517L1180.59 518L1180.57 519L1180.56 520L1180.55 521L1180.54 522L1180.53 523L1180.52 524L1180.51 525L1180.5 526L1180.49 527L1180.48 528L1180.48 529L1180.47 530L1180.46 531L1180.45 532L1180.45 533L1180.44 534L1180.43 535L1180.43 536L1180.42 537L1180.42 538L1180.41 539L1180.41 540L1180.4 541L1180.4 542L1180.39 543L1180.39 544L1180.38 545L1180.38 546L1180.37 547L1180.37 548L1180.37 549L1180.36 550L1180.36 551L1180.36 552L1180.35 553L1180.35 554L1180.35 555L1180.35 556L1180.34 557L1180.34 558L1180.34 559L1180.34 560L1180.34 561L1180.33 562L1180.33 563L1180.33 564L1180.33 565L1180.33 566L1180.33 567L1180.32 568L1180.32 569L1180.32 570L1180.32 571L1180.32 572L1180.32 573L1180.32 574L1180.32 575L1180.32 576L1180.31 577L1180.31 578L1180.31 579L1180.31 580L1180.31 581L1180.31 582L1180.31 583L1180.31 584L1180.31 585L1180.31 586L1180.31 587L1180.31 588L1180.31 589L1180.31 590L1180.31 591L1180.31 592L1180.31 593L1180.31 594L1180.3 595L1180.3 596L1180.3 597L1180.3 598L1180.3 599L1180.3 600L1180.3 601L1180.3 602L1180.3 602.6L1180.3 602.6Z"/>
<path class="v" d="M1243.45 225L1243.47 225L1243.47 226L1243.47 227L1243.48 228L1243.48 229L1243.48 230L1243.48 231L1243.49 232L1243.49 233L1243.49 234L1243.5 235L1243.5 236L1243.51 237L1243.51 238L1243.52 239L1243.52 240L1243.53 241L1243.53 242L1243.54 243L1243.55 244L1243.56 245L1243.56 246L1243.57 247L1243.58 248L1243.59 249L1243.6 250L1243.62 251L1243.63 252L1243.64 253L1243.66 254L1243.67 255L1243.69 256L1243.7 257L1243.72 258L1243.74 259L1243.76 260L1243.78 261L1243.8 262L1243.83 263L1243.85 264L1243.88 265L1243.91 266L1243.94 267L1243.97 268L1244 269L1244.03 270L1244.07 271L1244.11 272L1244.15 273L1244.19 274L1244.23 275L1244.28 276L1244.32 277L1244.37 278L1244.43 279L1244.48 280L1244.54 281L1244.59 282L1244.66 283L1244.72 284L1244.78 285L1244.85 286L1244.92 287L1245 288L1245.07 289L1245.15 290L1245.23 291L1245.32 292L1245.41 293L1245.49 294L1245.59 295L1245.68 296L1245.78 297L1245.88 298L1245.98 299L1246.09 300L1246.2 301L1246.31 302L1246.42 303L1246.54 304L1246.66 305L1246.78 306L1246.9 307L1247.03 308L1247.16 309L1247.29 310L1247.42 311L1247.55 312L1247.69 313L1247.82 314L1247.96 315L1248.1 316L1248.24 317L1248.39 318L1248.53 319L1248.67 320L1248.82 321L1248.96 322L1249.11 323L1249.26 324L1249.4 325L1249.55 326L1249.69 327L1249.84 328L1249.98 329L1250.12 330L1250.26 331L1250.4 332L1250.54 333L1250.67 334L1250.81 335L1250.94 336L1251.07 337L1251.19 338L1251.32 339L1251.44 340L1251.55 341L1251.66 342L1251.77 343L1251.88 344L1251.98 345L1252.07 346L1252.17 347L1252.25 348L1252.33 349L1252.41 350L1252.48 351L1252.55 352L1252.61 353L1252.67 354L1252.71 355L1252.76 356L1252.8 357L1252.83 358L1252.86 359L1252.88 360L1252.89 361L1252.9 362L1252.9 363L1252.9 364L1252.89 365L1252.88 366L1252.87 367L1252.85 368L1252.83 369L1252.8 370L1252.77 371L1252.74 372L1252.71 373L1252.67 374L1252.62 375L1252.58 376L1252.53 377L1252.48 378L1252.42 379L1252.36 380L1252.3 381L1252.23 382L1252.16 383L1252.09 384L1252.02 385L1251.94 386L1251.86 387L1251.78 388L1251.69 389L1251.61 390L1251.52 391L1251.42 392L1251.33 393L1251.23 394L1251.14 395L1251.04 396L1250.94 397L1250.83 398L1250.73 399L1250.62 400L1250.52 401L1250.41 402L1250.3 403L1250.19 404L1250.08 405L1249.97 406L1249.85 407L1249.74 408L1249.63 409L1249.51 410L1249.4 411L1249.28 412L1249.17 413L1249.05 414L1248.94 415L1248.83 416L1248.71 417L1248.6 418L1248.49 419L1248.37 420L1248.26 421L1248.15 422L1248.04 423L1247.93 424L1247.82 425L1247.71 426L1247.61 427L1247.5 428L1247.39 429L1247.29 430L1247.19 431L1247.09 432L1246.99 433L1246.89 434L1246.79 435L1246.7 436L1246.6 437L1246.51 438L1246.42 439L1246.33 440L1246.24 441L1246.16 442L1246.07 443L1245.99 444L1245.91 445L1245.83 446L1245.75 447L1245.67 448L1245.6 449L1245.53 450L1245.45 451L1245.38 452L1245.32 453L1245.25 454L1245.19 455L1245.12 456L1245.06 457L1245 458L1244.94 459L1244.89 460L1244.83 461L1244.78 462L1244.73 463L1244.68 464L1244.63 465L1244.58 466L1244.53 467L1244.49 468L1244.45 469L1244.41 470L1244.37 471L1244.33 472L1244.29 473L1244.25 474L1244.22 475L1244.18 476L1244.15 477L1244.12 478L1244.09 479L1244.06 480L1244.03 481L1244.01 482L1243.98 483L1243.96 484L1243.93 485L1243.91 486L1243.89 487L1243.86 488L1243.84 489L1243.83 490L1243.81 491L1243.79 492L1243.77 493L1243.76 494L1243.74 495L1243.72 496L1243.71 497L1243.7 498L1243.68 499L1243.67 500L1243.66 501L1243.65 502L1243.64 503L1243.63 504L1243.62 505L1243.61 506L1243.6 507L1243.59 508L1243.58 509L1243.58 510L1243.57 511L1243.56 512L1243.56 513L1243.55 514L1243.54 515L1243.54 516L1243.53 517L1243.53 518L1243.52 519L1243.52 520L1243.51 521L1243.51 522L1243.51 523L1243.5 524L1243.5 525L1243.5 526L1243.49 527L1243.49 528L1243.49 529L1243.49 530L1243.48 531L1243.48 532L1243.48 533L1243.48 534L1243.48 535L1243.47 536L1243.47 537L1243.47 538L1243.47 539L1243.47 539.4L1243.45 539.4Z"/>
<path class="v" d="M1306.6 257.6L1306.63 257.6L1306.64 258.6L1306.64 259.6L1306.65 260.6L1306.65 261.6L1306.66 262.6L1306.66 263.6L1306.67 264.6L1306.68 265.6L1306.69 266.6L1306.7 267.6L1306.71 268.6L1306.72 269.6L1306.73 270.6L1306.74 271.6L1306.76 272.6L1306.77 273.6L1306.79 274.6L1306.8 275.6L1306.82 276.6L1306.84 277.6L1306.87 278.6L1306.89 279.6L1306.91 280.6L1306.94 281.6L1306.97 282.6L1307 283.6L1307.04 284.6L1307.07 285.6L1307.11 286.6L1307.15 287.6L1307.2 288.6L1307.25 289.6L1307.3 290.6L1307.35 291.6L1307.41 292.6L1307.47 293.6L1307.53 294.6L1307.6 295.6L1307.67 296.6L1307.74 297.6L1307.82 298.6L1307.91 299.6L1308 300.6L1308.09 301.6L1308.19 302.6L1308.29 303.6L1308.39 304.6L1308.5 305.6L1308.62 306.6L1308.74 307.6L1308.87 308.6L1309 309.6L1309.13 310.6L1309.28 311.6L1309.42 312.6L1309.57 313.6L1309.73 314.6L1309.89 315.6L1310.06 316.6L1310.23 317.6L1310.4 318.6L1310.58 319.6L1310.77 320.6L1310.95 321.6L1311.15 322.6L1311.34 323.6L1311.54 324.6L1311.75 325.6L1311.95 326.6L1312.16 327.6L1312.37 328.6L1312.59 329.6L1312.8 330.6L1313.02 331.6L1313.24 332.6L1313.46 333.6L1313.67 334.6L1313.89 335.6L1314.11 336.6L1314.33 337.6L1314.54 338.6L1314.75 339.6L1314.96 340.6L1315.17 341.6L1315.38 342.6L1315.57 343.6L1315.77 344.6L1315.96 345.6L1316.14 346.6L1316.32 347.6L1316.49 348.6L1316.66 349.6L1316.82 350.6L1316.97 351.6L1317.11 352.6L1317.24 353.6L1317.36 354.6L1317.48 355.6L1317.58 356.6L1317.68 357.6L1317.76 358.6L1317.84 359.6L1317.9 360.6L1317.95 361.6L1317.99 362.6L1318.02 363.6L1318.04 364.6L1318.05 365.6L1318.05 366.6L1318.04 367.6L1318.02 368.6L1318 369.6L1317.97 370.6L1317.93 371.6L1317.89 372.6L1317.84 373.6L1317.78 374.6L1317.72 375.6L1317.65 376.6L1317.57 377.6L1317.49 378.6L1317.4 379.6L1317.31 380.6L1317.21 381.6L1317.1 382.6L1316.99 383.6L1316.87 384.6L1316.75 385.6L1316.63 386.6L1316.5 387.6L1316.36 388.6L1316.23 389.6L1316.08 390.6L1315.94 391.6L1315.79 392.6L1315.64 393.6L1315.48 394.6L1315.32 395.6L1315.16 396.6L1315 397.6L1314.84 398.6L1314.67 399.6L1314.5 400.6L1314.33 401.6L1314.16 402.6L1313.99 403.6L1313.82 404.6L1313.65 405.6L1313.48 406.6L1313.31 407.6L1313.13 408.6L1312.96 409.6L1312.79 410.6L1312.62 411.6L1312.46 412.6L1312.29 413.6L1312.12 414.6L1311.96 415.6L1311.8 416.6L1311.64 417.6L1311.48 418.6L1311.32 419.6L1311.17 420.6L1311.01 421.6L1310.86 422.6L1310.72 423.6L1310.57 424.6L1310.43 425.6L1310.29 426.6L1310.16 427.6L1310.02 428.6L1309.89 429.6L1309.77 430.6L1309.64 431.6L1309.52 432.6L1309.4 433.6L1309.29 434.6L1309.18 435.6L1309.07 436.6L1308.96 437.6L1308.86 438.6L1308.76 439.6L1308.67 440.6L1308.57 441.6L1308.48 442.6L1308.4 443.6L1308.31 444.6L1308.23 445.6L1308.15 446.6L1308.08 447.6L1308 448.6L1307.93 449.6L1307.87 450.6L1307.8 451.6L1307.74 452.6L1307.68 453.6L1307.63 454.6L1307.57 455.6L1307.52 456.6L1307.47 457.6L1307.42 458.6L1307.38 459.6L1307.33 460.6L1307.29 461.6L1307.25 462.6L1307.21 463.6L1307.18 464.6L1307.14 465.6L1307.11 466.6L1307.08 467.6L1307.05 468.6L1307.02 469.6L1307 470.6L1306.97 471.6L1306.95 472.6L1306.93 473.6L1306.91 474.6L1306.89 475.6L1306.87 476.6L1306.85 477.6L1306.83 478.6L1306.82 479.6L1306.8 480.6L1306.79 481.6L1306.78 482.6L1306.76 483.6L1306.75 484.6L1306.74 485.6L1306.73 486.6L1306.72 487.6L1306.71 488.6L1306.71 489.6L1306.7 490.6L1306.69 491.6L1306.68 492.6L1306.68 493.6L1306.67 494.6L1306.67 495.6L1306.66 496.6L1306.66 497.6L1306.65 498.6L1306.65 499.6L1306.64 500.6L1306.64 501.6L1306.64 502.6L1306.63 503.6L1306.63 504.6L1306.63 505.6L1306.63 506.6L1306.62 507.6L1306.62 508.6L1306.62 509.6L1306.62 510.6L1306.62 511.6L1306.62 512.6L1306.62 513L1306.6 513Z"/>
<path class="v" d="M1369.75 279.2L1369.8 279.2L1369.8 279.7L1369.81 280.2L1369.81 280.7L1369.82 281.2L1369.82 281.7L1369.83 282.2L1369.83 282.7L1369.83 283.2L1369.84 283.7L1369.84 284.2L1369.84 284.7L1369.85 285.2L1369.85 285.7L1369.86 286.2L1369.86 286.7L1369.86 287.2L1369.87 287.7L1369.87 288.2L1369.87 288.7L1369.88 289.2L1369.88 289.7L1369.89 290.2L1369.89 290.7L1369.89 291.2L1369.9 291.7L1369.9 292.2L1369.91 292.7L1369.91 293.2L1369.92 293.7L1369.92 294.2L1369.93 294.7L1369.93 295.2L1369.94 295.7L1369.94 296.2L1369.95 296.7L1369.96 297.2L1369.96 297.7L1369.97 298.2L1369.98 298.7L1369.99 299.2L1369.99 299.7L1370 300.2L1370.01 300.7L1370.03 301.2L1370.04 301.7L1370.06 302.2L1370.07 302.7L1370.09 303.2L1370.11 303.7L1370.14 304.2L1370.16 304.7L1370.19 305.2L1370.21 305.7L1370.24 306.2L1370.27 306.7L1370.3 307.2L1370.33 307.7L1370.37 308.2L1370.4 308.7L1370.43 309.2L1370.47 309.7L1370.5 310.2L1370.54 310.7L1370.58 311.2L1370.62 311.7L1370.66 312.2L1370.7 312.7L1370.73 313.2L1370.77 313.7L1370.81 314.2L1370.85 314.7L1370.9 315.2L1370.94 315.7L1370.98 316.2L1371.02 316.7L1371.06 317.2L1371.1 317.7L1371.15 318.2L1371.19 318.7L1371.24 319.2L1371.29 319.7L1371.34 320.2L1371.39 320.7L1371.44 321.2L1371.5 321.7L1371.55 322.2L1371.61 322.7L1371.67 323.2L1371.73 323.7L1371.79 324.2L1371.85 324.7L1371.91 325.2L1371.98 325.7L1372.05 326.2L1372.12 326.7L1372.19 327.2L1372.26 327.7L1372.33 328.2L1372.41 328.7L1372.49 329.2L1372.57 329.7L1372.65 330.2L1372.73 330.7L1372.82 331.2L1372.91 331.7L1373 332.2L1373.09 332.7L1373.2 333.2L1373.31 333.7L1373.44 334.2L1373.56 334.7L1373.7 335.2L1373.84 335.7L1373.98 336.2L1374.13 336.7L1374.29 337.2L1374.45 337.7L1374.61 338.2L1374.77 338.7L1374.94 339.2L1375.11 339.7L1375.28 340.2L1375.45 340.7L1375.62 341.2L1375.79 341.7L1375.96 342.2L1376.13 342.7L1376.3 343.2L1376.46 343.7L1376.63 344.2L1376.79 344.7L1376.97 345.2L1377.14 345.7L1377.33 346.2L1377.51 346.7L1377.7 347.2L1377.88 347.7L1378.07 348.2L1378.25 348.7L1378.43 349.2L1378.61 349.7L1378.79 350.2L1378.95 350.7L1379.12 351.2L1379.27 351.7L1379.42 352.2L1379.56 352.7L1379.7 353.2L1379.84 353.7L1379.98 354.2L1380.11 354.7L1380.24 355.2L1380.37 355.7L1380.5 356.2L1380.62 356.7L1380.74 357.2L1380.86 357.7L1380.97 358.2L1381.09 358.7L1381.19 359.2L1381.3 359.7L1381.4 360.2L1381.5 360.7L1381.59 361.2L1381.68 361.7L1381.77 362.2L1381.86 362.7L1381.94 363.2L1382.03 363.7L1382.11 364.2L1382.19 364.7L1382.27 365.2L1382.35 365.7L1382.43 366.2L1382.51 366.7L1382.59 367.2L1382.67 367.7L1382.75 368.2L1382.85 368.7L1382.96 369.2L1383.07 369.7L1383.18 370.2L1383.28 370.7L1383.37 371.2L1383.45 371.7L1383.5 372.2L1383.52 372.7L1383.52 373.2L1383.5 373.7L1383.47 374.2L1383.42 374.7L1383.37 375.2L1383.32 375.7L1383.25 376.2L1383.18 376.7L1383.11 377.2L1383.04 377.7L1382.96 378.2L1382.89 378.7L1382.82 379.2L1382.76 379.7L1382.7 380.2L1382.64 380.7L1382.58 381.2L1382.52 381.7L1382.47 382.2L1382.41 382.7L1382.35 383.2L1382.29 383.7L1382.23 384.2L1382.17 384.7L1382.11 385.2L1382.05 385.7L1381.99 386.2L1381.93 386.7L1381.86 387.2L1381.8 387.7L1381.73 388.2L1381.67 388.7L1381.6 389.2L1381.54 389.7L1381.48 390.2L1381.41 390.7L1381.35 391.2L1381.28 391.7L1381.21 392.2L1381.14 392.7L1381.06 393.2L1380.98 393.7L1380.9 394.2L1380.81 394.7L1380.72 395.2L1380.62 395.7L1380.52 396.2L1380.4 396.7L1380.26 397.2L1380.1 397.7L1379.94 398.2L1379.76 398.7L1379.58 399.2L1379.39 399.7L1379.19 400.2L1379 400.7L1378.8 401.2L1378.6 401.7L1378.4 402.2L1378.22 402.7L1378.03 403.2L1377.86 403.7L1377.7 404.2L1377.54 404.7L1377.38 405.2L1377.22 405.7L1377.06 406.2L1376.91 406.7L1376.75 407.2L1376.6 407.7L1376.45 408.2L1376.3 408.7L1376.15 409.2L1376.01 409.7L1375.86 410.2L1375.72 410.7L1375.58 411.2L1375.44 411.7L1375.31 412.2L1375.17 412.7L1375.03 413.2L1374.89 413.7L1374.76 414.2L1374.62 414.7L1374.49 415.2L1374.35 415.7L1374.22 416.2L1374.09 416.7L1373.96 417.2L1373.84 417.7L1373.71 418.2L1373.59 418.7L1373.47 419.2L1373.36 419.7L1373.25 420.2L1373.14 420.7L1373.04 421.2L1372.94 421.7L1372.84 422.2L1372.75 422.7L1372.65 423.2L1372.56 423.7L1372.47 424.2L1372.38 424.7L1372.29 425.2L1372.2 425.7L1372.12 426.2L1372.03 426.7L1371.95 427.2L1371.87 427.7L1371.79 428.2L1371.71 428.7L1371.63 429.2L1371.56 429.7L1371.49 430.2L1371.42 430.7L1371.35 431.2L1371.28 431.7L1371.22 432.2L1371.16 432.7L1371.1 433.2L1371.04 433.7L1370.98 434.2L1370.93 434.7L1370.87 435.2L1370.82 435.7L1370.76 436.2L1370.71 436.7L1370.65 437.2L1370.6 437.7L1370.55 438.2L1370.5 438.7L1370.45 439.2L1370.4 439.7L1370.36 440.2L1370.32 440.7L1370.28 441.2L1370.25 441.7L1370.22 442.2L1370.2 442.7L1370.18 443.2L1370.17 443.7L1370.16 444.2L1370.15 444.7L1370.14 445.2L1370.13 445.7L1370.13 446.2L1370.12 446.7L1370.11 447.2L1370.11 447.7L1370.1 448.2L1370.09 448.7L1370.09 449.2L1370.08 449.7L1370.07 450.2L1370.07 450.7L1370.06 451.2L1370.06 451.7L1370.05 452.2L1370.05 452.7L1370.04 453.2L1370.04 453.7L1370.03 454.2L1370.03 454.7L1370.02 455.2L1370.02 455.7L1370.01 456.2L1370.01 456.7L1370 457.2L1370 457.7L1369.99 458.2L1369.99 458.7L1369.99 459.2L1369.98 459.7L1369.98 460.2L1369.98 460.7L1369.97 461.2L1369.97 461.7L1369.97 462.2L1369.96 462.7L1369.96 463.2L1369.96 463.7L1369.95 464.2L1369.95 464.7L1369.95 465.2L1369.94 465.7L1369.94 466.2L1369.94 466.7L1369.94 467.2L1369.93 467.7L1369.93 468.2L1369.93 468.7L1369.93 469.2L1369.92 469.7L1369.92 470.2L1369.92 470.7L1369.92 471.2L1369.91 471.7L1369.91 472.2L1369.91 472.7L1369.91 473.2L1369.91 473.7L1369.9 474.2L1369.9 474.7L1369.9 475.2L1369.9 475.7L1369.9 476.2L1369.89 476.7L1369.89 477.2L1369.89 477.7L1369.89 478.2L1369.89 478.7L1369.88 479.2L1369.88 479.7L1369.88 480.2L1369.88 480.7L1369.88 481.2L1369.87 481.7L1369.87 482.2L1369.87 482.7L1369.87 483.2L1369.87 483.7L1369.86 484.2L1369.86 484.7L1369.86 485.2L1369.86 485.7L1369.85 486.2L1369.85 486.7L1369.85 487.2L1369.85 487.7L1369.85 488.2L1369.84 488.7L1369.84 489.2L1369.84 489.7L1369.84 490.2L1369.83 490.7L1369.83 491.2L1369.83 491.7L1369.82 492.2L1369.82 492.7L1369.82 493.2L1369.82 493.7L1369.81 494.2L1369.81 494.7L1369.81 495.2L1369.8 495.7L1369.8 496L1369.75 496Z"/>
<path class="v" d="M1432.9 295.52L1432.95 295.52L1432.96 296.02L1432.97 296.52L1432.97 297.02L1432.98 297.52L1432.99 298.02L1432.99 298.52L1433 299.02L1433.01 299.52L1433.01 300.02L1433.02 300.52L1433.02 301.02L1433.03 301.52L1433.04 302.02L1433.05 302.52L1433.05 303.02L1433.06 303.52L1433.07 304.02L1433.08 304.52L1433.09 305.02L1433.09 305.52L1433.1 306.02L1433.11 306.52L1433.13 307.02L1433.14 307.52L1433.15 308.02L1433.16 308.52L1433.18 309.02L1433.2 309.52L1433.22 310.02L1433.24 310.52L1433.27 311.02L1433.29 311.52L1433.32 312.02L1433.35 312.52L1433.38 313.02L1433.41 313.52L1433.45 314.02L1433.48 314.52L1433.52 315.02L1433.56 315.52L1433.6 316.02L1433.64 316.52L1433.68 317.02L1433.72 317.52L1433.77 318.02L1433.81 318.52L1433.86 319.02L1433.9 319.52L1433.95 320.02L1434 320.52L1434.05 321.02L1434.11 321.52L1434.17 322.02L1434.24 322.52L1434.3 323.02L1434.37 323.52L1434.45 324.02L1434.52 324.52L1434.6 325.02L1434.68 325.52L1434.77 326.02L1434.86 326.52L1434.95 327.02L1435.04 327.52L1435.13 328.02L1435.23 328.52L1435.33 329.02L1435.43 329.52L1435.53 330.02L1435.63 330.52L1435.74 331.02L1435.85 331.52L1435.95 332.02L1436.07 332.52L1436.19 333.02L1436.32 333.52L1436.45 334.02L1436.59 334.52L1436.74 335.02L1436.89 335.52L1437.04 336.02L1437.2 336.52L1437.36 337.02L1437.52 337.52L1437.69 338.02L1437.85 338.52L1438.02 339.02L1438.19 339.52L1438.36 340.02L1438.52 340.52L1438.69 341.02L1438.86 341.52L1439.04 342.02L1439.21 342.52L1439.39 343.02L1439.58 343.52L1439.76 344.02L1439.96 344.52L1440.16 345.02L1440.37 345.52L1440.58 346.02L1440.8 346.52L1441.05 347.02L1441.32 347.52L1441.61 348.02L1441.91 348.52L1442.22 349.02L1442.53 349.52L1442.84 350.02L1443.15 350.52L1443.45 351.02L1443.73 351.52L1443.99 352.02L1444.23 352.52L1444.44 353.02L1444.63 353.52L1444.81 354.02L1444.97 354.52L1445.13 355.02L1445.29 355.52L1445.44 356.02L1445.59 356.52L1445.75 357.02L1445.92 357.52L1446.1 358.02L1446.29 358.52L1446.48 359.02L1446.67 359.52L1446.87 360.02L1447.06 360.52L1447.26 361.02L1447.45 361.52L1447.65 362.02L1447.83 362.52L1448.02 363.02L1448.19 363.52L1448.36 364.02L1448.52 364.52L1448.68 365.02L1448.84 365.52L1448.99 366.02L1449.14 366.52L1449.29 367.02L1449.43 367.52L1449.57 368.02L1449.7 368.52L1449.82 369.02L1449.93 369.52L1450.04 370.02L1450.16 370.52L1450.27 371.02L1450.39 371.52L1450.5 372.02L1450.6 372.52L1450.7 373.02L1450.78 373.52L1450.84 374.02L1450.89 374.52L1450.91 375.02L1450.9 375.52L1450.87 376.02L1450.81 376.52L1450.72 377.02L1450.62 377.52L1450.5 378.02L1450.37 378.52L1450.23 379.02L1450.09 379.52L1449.95 380.02L1449.81 380.52L1449.68 381.02L1449.57 381.52L1449.46 382.02L1449.36 382.52L1449.27 383.02L1449.18 383.52L1449.08 384.02L1448.99 384.52L1448.89 385.02L1448.78 385.52L1448.66 386.02L1448.54 386.52L1448.4 387.02L1448.25 387.52L1448.06 388.02L1447.84 388.52L1447.6 389.02L1447.34 389.52L1447.07 390.02L1446.79 390.52L1446.5 391.02L1446.21 391.52L1445.94 392.02L1445.67 392.52L1445.42 393.02L1445.18 393.52L1444.97 394.02L1444.77 394.52L1444.58 395.02L1444.39 395.52L1444.21 396.02L1444.03 396.52L1443.85 397.02L1443.68 397.52L1443.5 398.02L1443.32 398.52L1443.13 399.02L1442.94 399.52L1442.74 400.02L1442.54 400.52L1442.33 401.02L1442.11 401.52L1441.9 402.02L1441.68 402.52L1441.46 403.02L1441.23 403.52L1441.01 404.02L1440.79 404.52L1440.56 405.02L1440.34 405.52L1440.12 406.02L1439.9 406.52L1439.68 407.02L1439.45 407.52L1439.23 408.02L1439 408.52L1438.78 409.02L1438.55 409.52L1438.33 410.02L1438.1 410.52L1437.89 411.02L1437.67 411.52L1437.46 412.02L1437.26 412.52L1437.06 413.02L1436.87 413.52L1436.67 414.02L1436.47 414.52L1436.28 415.02L1436.09 415.52L1435.91 416.02L1435.73 416.52L1435.56 417.02L1435.4 417.52L1435.26 418.02L1435.12 418.52L1434.99 419.02L1434.86 419.52L1434.73 420.02L1434.61 420.52L1434.49 421.02L1434.37 421.52L1434.27 422.02L1434.16 422.52L1434.07 423.02L1433.98 423.52L1433.9 424.02L1433.83 424.52L1433.76 425.02L1433.7 425.52L1433.64 426.02L1433.58 426.52L1433.52 427.02L1433.46 427.52L1433.41 428.02L1433.36 428.52L1433.31 429.02L1433.27 429.52L1433.24 430.02L1433.2 430.52L1433.18 431.02L1433.16 431.52L1433.15 432.02L1433.14 432.52L1433.13 433.02L1433.13 433.52L1433.12 434.02L1433.11 434.52L1433.11 435.02L1433.1 435.52L1433.09 436.02L1433.09 436.52L1433.08 437.02L1433.08 437.52L1433.07 438.02L1433.07 438.52L1433.06 439.02L1433.06 439.52L1433.06 440.02L1433.05 440.52L1433.05 441.02L1433.04 441.52L1433.04 442.02L1433.04 442.52L1433.03 443.02L1433.03 443.52L1433.03 444.02L1433.03 444.52L1433.02 445.02L1433.02 445.52L1433.02 446.02L1433.02 446.52L1433.01 447.02L1433.01 447.52L1433.01 448.02L1433.01 448.52L1433 449.02L1433 449.52L1433 450.02L1433 450.52L1432.99 451.02L1432.99 451.52L1432.99 452.02L1432.99 452.52L1432.99 453.02L1432.98 453.52L1432.98 454.02L1432.98 454.52L1432.98 455.02L1432.97 455.52L1432.97 456.02L1432.97 456.52L1432.96 457.02L1432.96 457.52L1432.96 458.02L1432.95 458.52L1432.95 459.02L1432.95 459.2L1432.9 459.2Z"/>
<path class="v" d="M1496.05 305.6L1496.1 305.6L1496.11 306.1L1496.11 306.6L1496.12 307.1L1496.13 307.6L1496.13 308.1L1496.14 308.6L1496.15 309.1L1496.15 309.6L1496.16 310.1L1496.16 310.6L1496.17 311.1L1496.17 311.6L1496.18 312.1L1496.19 312.6L1496.19 313.1L1496.2 313.6L1496.2 314.1L1496.21 314.6L1496.21 315.1L1496.22 315.6L1496.23 316.1L1496.23 316.6L1496.24 317.1L1496.25 317.6L1496.26 318.1L1496.26 318.6L1496.27 319.1L1496.28 319.6L1496.29 320.1L1496.3 320.6L1496.31 321.1L1496.32 321.6L1496.33 322.1L1496.34 322.6L1496.36 323.1L1496.37 323.6L1496.38 324.1L1496.4 324.6L1496.42 325.1L1496.44 325.6L1496.47 326.1L1496.5 326.6L1496.53 327.1L1496.56 327.6L1496.6 328.1L1496.64 328.6L1496.68 329.1L1496.73 329.6L1496.78 330.1L1496.84 330.6L1496.89 331.1L1496.95 331.6L1497.01 332.1L1497.08 332.6L1497.15 333.1L1497.22 333.6L1497.29 334.1L1497.37 334.6L1497.48 335.1L1497.61 335.6L1497.76 336.1L1497.93 336.6L1498.12 337.1L1498.32 337.6L1498.53 338.1L1498.75 338.6L1498.98 339.1L1499.21 339.6L1499.43 340.1L1499.65 340.6L1499.87 341.1L1500.11 341.6L1500.35 342.1L1500.61 342.6L1500.87 343.1L1501.13 343.6L1501.39 344.1L1501.65 344.6L1501.9 345.1L1502.14 345.6L1502.37 346.1L1502.58 346.6L1502.79 347.1L1502.99 347.6L1503.2 348.1L1503.4 348.6L1503.6 349.1L1503.81 349.6L1504.03 350.1L1504.25 350.6L1504.49 351.1L1504.74 351.6L1504.99 352.1L1505.25 352.6L1505.51 353.1L1505.77 353.6L1506.05 354.1L1506.32 354.6L1506.61 355.1L1506.91 355.6L1507.21 356.1L1507.52 356.6L1507.85 357.1L1508.18 357.6L1508.53 358.1L1508.89 358.6L1509.26 359.1L1509.67 359.6L1510.15 360.1L1510.67 360.6L1511.23 361.1L1511.8 361.6L1512.37 362.1L1512.91 362.6L1513.41 363.1L1513.85 363.6L1514.21 364.1L1514.52 364.6L1514.82 365.1L1515.1 365.6L1515.36 366.1L1515.59 366.6L1515.81 367.1L1516 367.6L1516.17 368.1L1516.34 368.6L1516.51 369.1L1516.67 369.6L1516.8 370.1L1516.9 370.6L1516.94 371.1L1516.94 371.6L1516.92 372.1L1516.89 372.6L1516.86 373.1L1516.81 373.6L1516.76 374.1L1516.71 374.6L1516.65 375.1L1516.59 375.6L1516.53 376.1L1516.44 376.6L1516.34 377.1L1516.21 377.6L1516.06 378.1L1515.9 378.6L1515.73 379.1L1515.56 379.6L1515.38 380.1L1515.21 380.6L1515.05 381.1L1514.89 381.6L1514.76 382.1L1514.64 382.6L1514.55 383.1L1514.49 383.6L1514.44 384.1L1514.4 384.6L1514.36 385.1L1514.33 385.6L1514.28 386.1L1514.23 386.6L1514.16 387.1L1514.02 387.6L1513.72 388.1L1513.3 388.6L1512.78 389.1L1512.17 389.6L1511.52 390.1L1510.84 390.6L1510.17 391.1L1509.52 391.6L1508.93 392.1L1508.41 392.6L1508.01 393.1L1507.74 393.6L1507.56 394.1L1507.42 394.6L1507.3 395.1L1507.2 395.6L1507.1 396.1L1507.01 396.6L1506.9 397.1L1506.78 397.6L1506.64 398.1L1506.46 398.6L1506.24 399.1L1505.97 399.6L1505.67 400.1L1505.34 400.6L1504.99 401.1L1504.62 401.6L1504.25 402.1L1503.89 402.6L1503.53 403.1L1503.19 403.6L1502.88 404.1L1502.57 404.6L1502.26 405.1L1501.96 405.6L1501.65 406.1L1501.34 406.6L1501.05 407.1L1500.76 407.6L1500.48 408.1L1500.22 408.6L1499.97 409.1L1499.74 409.6L1499.52 410.1L1499.3 410.6L1499.09 411.1L1498.89 411.6L1498.69 412.1L1498.5 412.6L1498.32 413.1L1498.16 413.6L1498.01 414.1L1497.88 414.6L1497.76 415.1L1497.66 415.6L1497.56 416.1L1497.47 416.6L1497.38 417.1L1497.29 417.6L1497.2 418.1L1497.12 418.6L1497.05 419.1L1496.98 419.6L1496.91 420.1L1496.85 420.6L1496.79 421.1L1496.73 421.6L1496.68 422.1L1496.64 422.6L1496.6 423.1L1496.56 423.6L1496.53 424.1L1496.51 424.6L1496.48 425.1L1496.46 425.6L1496.43 426.1L1496.41 426.6L1496.38 427.1L1496.36 427.6L1496.34 428.1L1496.32 428.6L1496.3 429.1L1496.28 429.6L1496.27 430.1L1496.25 430.6L1496.23 431.1L1496.22 431.6L1496.21 432.1L1496.19 432.6L1496.18 433.1L1496.17 433.6L1496.16 434.1L1496.16 434.6L1496.15 435.1L1496.14 435.6L1496.14 436.1L1496.14 436.6L1496.13 437.1L1496.13 437.6L1496.13 438.1L1496.12 438.6L1496.12 439.1L1496.12 439.6L1496.12 440.1L1496.11 440.6L1496.11 441.1L1496.11 441.6L1496.11 442.1L1496.11 442.6L1496.11 443.1L1496.1 443.6L1496.1 444.1L1496.1 444.32L1496.05 444.32Z"/>
<path class="v" d="M1559.2 311.6L1559.25 311.6L1559.26 312.1L1559.26 312.6L1559.27 313.1L1559.27 313.6L1559.28 314.1L1559.28 314.6L1559.29 315.1L1559.29 315.6L1559.3 316.1L1559.3 316.6L1559.3 317.1L1559.31 317.6L1559.31 318.1L1559.32 318.6L1559.32 319.1L1559.32 319.6L1559.33 320.1L1559.33 320.6L1559.34 321.1L1559.34 321.6L1559.34 322.1L1559.35 322.6L1559.35 323.1L1559.36 323.6L1559.36 324.1L1559.37 324.6L1559.37 325.1L1559.38 325.6L1559.39 326.1L1559.39 326.6L1559.4 327.1L1559.41 327.6L1559.41 328.1L1559.42 328.6L1559.43 329.1L1559.44 329.6L1559.45 330.1L1559.46 330.6L1559.47 331.1L1559.48 331.6L1559.49 332.1L1559.5 332.6L1559.52 333.1L1559.53 333.6L1559.55 334.1L1559.59 334.6L1559.64 335.1L1559.71 335.6L1559.78 336.1L1559.87 336.6L1559.97 337.1L1560.08 337.6L1560.19 338.1L1560.32 338.6L1560.44 339.1L1560.58 339.6L1560.71 340.1L1560.85 340.6L1560.99 341.1L1561.13 341.6L1561.28 342.1L1561.46 342.6L1561.66 343.1L1561.87 343.6L1562.1 344.1L1562.33 344.6L1562.56 345.1L1562.79 345.6L1563 346.1L1563.21 346.6L1563.4 347.1L1563.57 347.6L1563.74 348.1L1563.92 348.6L1564.11 349.1L1564.32 349.6L1564.56 350.1L1564.86 350.6L1565.27 351.1L1565.79 351.6L1566.39 352.1L1567.06 352.6L1567.76 353.1L1568.46 353.6L1569.15 354.1L1569.79 354.6L1570.36 355.1L1570.84 355.6L1571.19 356.1L1571.45 356.6L1571.66 357.1L1571.85 357.6L1572.02 358.1L1572.21 358.6L1572.44 359.1L1572.73 359.6L1573.13 360.1L1573.67 360.6L1574.32 361.1L1575.05 361.6L1575.83 362.1L1576.65 362.6L1577.47 363.1L1578.27 363.6L1579.02 364.1L1579.69 364.6L1580.29 365.1L1580.92 365.6L1581.58 366.1L1582.25 366.6L1582.92 367.1L1583.56 367.6L1584.16 368.1L1584.7 368.6L1585.16 369.1L1585.53 369.6L1585.79 370.1L1585.92 370.6L1585.92 371.1L1585.87 371.6L1585.78 372.1L1585.66 372.6L1585.52 373.1L1585.37 373.6L1585.22 374.1L1585.07 374.6L1584.91 375.1L1584.73 375.6L1584.54 376.1L1584.33 376.6L1584.11 377.1L1583.89 377.6L1583.65 378.1L1583.41 378.6L1583.17 379.1L1582.92 379.6L1582.68 380.1L1582.44 380.6L1582.2 381.1L1581.96 381.6L1581.72 382.1L1581.47 382.6L1581.21 383.1L1580.94 383.6L1580.66 384.1L1580.37 384.6L1580.05 385.1L1579.72 385.6L1579.36 386.1L1578.97 386.6L1578.51 387.1L1577.98 387.6L1577.39 388.1L1576.77 388.6L1576.12 389.1L1575.47 389.6L1574.83 390.1L1574.21 390.6L1573.64 391.1L1573.07 391.6L1572.43 392.1L1571.77 392.6L1571.12 393.1L1570.53 393.6L1570.04 394.1L1569.69 394.6L1569.53 395.1L1569.53 395.6L1569.53 396.1L1569.53 396.6L1569.53 397.1L1569.53 397.6L1569.42 398.1L1569.11 398.6L1568.65 399.1L1568.08 399.6L1567.44 400.1L1566.77 400.6L1566.1 401.1L1565.49 401.6L1564.98 402.1L1564.58 402.6L1564.22 403.1L1563.88 403.6L1563.54 404.1L1563.22 404.6L1562.93 405.1L1562.65 405.6L1562.39 406.1L1562.17 406.6L1561.97 407.1L1561.79 407.6L1561.62 408.1L1561.47 408.6L1561.32 409.1L1561.18 409.6L1561.05 410.1L1560.93 410.6L1560.81 411.1L1560.71 411.6L1560.6 412.1L1560.51 412.6L1560.42 413.1L1560.33 413.6L1560.25 414.1L1560.17 414.6L1560.09 415.1L1560.01 415.6L1559.93 416.1L1559.86 416.6L1559.8 417.1L1559.74 417.6L1559.68 418.1L1559.63 418.6L1559.59 419.1L1559.55 419.6L1559.53 420.1L1559.5 420.6L1559.48 421.1L1559.46 421.6L1559.44 422.1L1559.43 422.6L1559.41 423.1L1559.4 423.6L1559.38 424.1L1559.37 424.6L1559.36 425.1L1559.35 425.6L1559.34 426.1L1559.32 426.6L1559.31 427.1L1559.3 427.6L1559.29 428.1L1559.28 428.6L1559.26 429.1L1559.25 429.6L1559.2 429.6Z"/>
<path class="v" d="M1622.35 342L1622.4 342L1622.45 342.5L1622.49 343L1622.52 343.5L1622.56 344L1622.59 344.5L1622.63 345L1622.68 345.5L1622.74 346L1622.8 346.5L1622.88 347L1623.02 347.5L1623.32 348L1623.73 348.5L1624.19 349L1624.61 349.5L1624.92 350L1625.13 350.5L1625.29 351L1625.43 351.5L1625.56 352L1625.71 352.5L1625.87 353L1626.07 353.5L1626.33 354L1626.66 354.5L1627.04 355L1627.47 355.5L1627.94 356L1628.45 356.5L1628.99 357L1629.55 357.5L1630.12 358L1630.72 358.5L1631.38 359L1632.09 359.5L1632.85 360L1633.68 360.5L1634.57 361L1635.52 361.5L1636.57 362L1637.77 362.5L1639.1 363L1640.56 363.5L1642.12 364L1644.14 364.5L1646.57 365L1648.78 365.5L1650.12 366L1650.71 366.5L1651.11 367L1651.44 367.5L1651.78 368L1652.22 368.5L1652.73 369L1653.27 369.5L1653.86 370L1654.51 370.5L1655.25 371L1656.32 371.5L1657.32 372L1657.75 372.5L1657.89 373L1658 373.5L1658.07 374L1658.11 374.5L1658.12 375L1658.08 375.5L1658.01 376L1657.91 376.5L1657.78 377L1657.62 377.5L1657.44 378L1657.23 378.5L1657.01 379L1656.74 379.5L1656.3 380L1655.69 380.5L1654.96 381L1654.14 381.5L1653.25 382L1652.33 382.5L1651.12 383L1649.66 383.5L1648.14 384L1646.78 384.5L1645.74 385L1644.91 385.5L1644.17 386L1643.5 386.5L1642.83 387L1642.12 387.5L1641.32 388L1640.39 388.5L1639.37 389L1638.3 389.5L1637.24 390L1636.26 390.5L1635.38 391L1634.54 391.5L1633.71 392L1632.92 392.5L1632.15 393L1631.42 393.5L1630.74 394L1630.1 394.5L1629.53 395L1629.02 395.5L1628.55 396L1628.12 396.5L1627.71 397L1627.33 397.5L1626.96 398L1626.61 398.5L1626.26 399L1625.91 399.5L1625.54 400L1625.18 400.5L1624.84 401L1624.53 401.5L1624.28 402L1624.09 402.5L1623.93 403L1623.79 403.5L1623.66 404L1623.54 404.5L1623.43 405L1623.33 405.5L1623.23 406L1623.15 406.5L1623.07 407L1622.99 407.5L1622.92 408L1622.85 408.5L1622.79 409L1622.73 409.5L1622.68 410L1622.63 410.5L1622.58 411L1622.53 411.5L1622.48 412L1622.43 412.5L1622.4 412.8L1622.35 412.8Z"/>
<path class="v" d="M1685.5 350.8L1685.55 350.8L1685.63 351.3L1685.69 351.8L1685.75 352.3L1685.8 352.8L1685.87 353.3L1685.95 353.8L1686.05 354.3L1686.18 354.8L1686.37 355.3L1687.28 355.8L1688.5 356.3L1689.11 356.8L1688.98 357.3L1688.71 357.8L1688.43 358.3L1688.31 358.8L1688.67 359.3L1689.58 359.8L1690.75 360.3L1691.91 360.8L1693.05 361.3L1694.32 361.8L1695.69 362.3L1697.13 362.8L1698.61 363.3L1700.15 363.8L1701.77 364.3L1703.47 364.8L1705.23 365.3L1707.05 365.8L1709.01 366.3L1711.04 366.8L1713.1 367.3L1715.1 367.8L1717.04 368.3L1718.98 368.8L1721.01 369.3L1723.22 369.8L1725.61 370.3L1728.16 370.8L1730.9 371.3L1734.46 371.8L1737.26 372.3L1738.1 372.8L1738.57 373.3L1738.93 373.8L1739.39 374.3L1740.21 374.8L1741.39 375.3L1742.49 375.8L1743.09 376.3L1741.2 376.8L1737.82 377.3L1735.38 377.8L1733.68 378.3L1733.13 378.8L1732.87 379.3L1732.54 379.8L1731.43 380.3L1728.63 380.8L1725.81 381.3L1723.31 381.8L1720.81 382.3L1718.31 382.8L1715.75 383.3L1713.18 383.8L1710.76 384.3L1708.57 384.8L1706.52 385.3L1704.57 385.8L1702.68 386.3L1700.76 386.8L1698.84 387.3L1697.21 387.8L1696.09 388.3L1695.25 388.8L1694.53 389.3L1693.82 389.8L1693.02 390.3L1692.18 390.8L1691.36 391.3L1690.59 391.8L1689.9 392.3L1689.21 392.8L1688.57 393.3L1688.01 393.8L1687.58 394.3L1687.27 394.8L1687.01 395.3L1686.79 395.8L1686.6 396.3L1686.43 396.8L1686.28 397.3L1686.15 397.8L1686.04 398.3L1685.93 398.8L1685.84 399.3L1685.75 399.8L1685.65 400.3L1685.55 400.8L1685.5 400.8Z"/>
<path class="w" d="M1042.7 153V319.95M1042.7 432.85V601"/>
<rect class="b" x="1036.35" y="319.95" width="12.7" height="112.9"/>
<path class="m" d="M1036.35 374.4H1049.05"/>
<path class="w" d="M1105.85 206V333.55M1105.85 420.85V551.4"/>
<rect class="b" x="1099.5" y="333.55" width="12.7" height="87.3"/>
<path class="m" d="M1099.5 375.6H1112.2"/>
<path class="w" d="M1169 232V340.75M1169 413.45V521.6"/>
<rect class="b" x="1162.65" y="340.75" width="12.7" height="72.7"/>
<path class="m" d="M1162.65 376.2H1175.35"/>
<path class="w" d="M1232.15 257.4V345.55M1232.15 405.85V494.8"/>
<rect class="b" x="1225.8" y="345.55" width="12.7" height="60.3"/>
<path class="m" d="M1225.8 374H1238.5"/>
<path class="w" d="M1295.3 279.2V350.75M1295.3 399.45V472"/>
<rect class="b" x="1288.95" y="350.75" width="12.7" height="48.7"/>
<path class="m" d="M1288.95 374.8H1301.65"/>
<path class="w" d="M1358.45 299.2V356.45M1358.45 395.75V453.9"/>
<rect class="b" x="1352.1" y="356.45" width="12.7" height="39.3"/>
<path class="m" d="M1352.1 375.7H1364.8"/>
<path class="w" d="M1421.6 315.2V359.95M1421.6 389.95V433.9"/>
<rect class="b" x="1415.25" y="359.95" width="12.7" height="30"/>
<path class="m" d="M1415.25 375.2H1427.95"/>
<path class="w" d="M1484.75 327.2V363.45M1484.75 388.35V424.8"/>
<rect class="b" x="1478.4" y="363.45" width="12.7" height="24.9"/>
<path class="m" d="M1478.4 374.9H1491.1"/>
<path class="w" d="M1547.9 336.2V366.05M1547.9 385.85V415.9"/>
<rect class="b" x="1541.55" y="366.05" width="12.7" height="19.8"/>
<path class="m" d="M1541.55 375.4H1554.25"/>
<path class="w" d="M1611.05 347.1V368.35M1611.05 382.55V403.9"/>
<rect class="b" x="1604.7" y="368.35" width="12.7" height="14.2"/>
<path class="m" d="M1604.7 375.3H1617.4"/>
<path class="w" d="M1674.2 356.7V370.65M1674.2 380.35V394.7"/>
<rect class="b" x="1667.85" y="370.65" width="12.7" height="9.7"/>
<path class="m" d="M1667.85 375.5H1680.55"/>
</g>
<path class="t" d="M995.5 246.8H1004.3M995.5 442H1004.3M995.5 637.2H1004.3M1042.7 744V752.8M1105.85 744V752.8M1169 744V752.8M1232.15 744V752.8M1295.3 744V752.8M1358.45 744V752.8M1421.6 744V752.8M1484.75 744V752.8M1547.9 744V752.8M1611.05 744V752.8M1674.2 744V752.8"/>
<text class="tk" text-anchor="end" transform="translate(989.4 256.95) scale(1 1.06)">0.5</text>
<text class="tk" text-anchor="end" transform="translate(989.4 452.15) scale(1 1.06)">0.0</text>
<text class="tk" text-anchor="end" transform="translate(989.4 647.35) scale(1 1.06)"><tspan dy="2.5">−</tspan><tspan dy="-2.5">0.5</tspan></text>
<text class="tk" text-anchor="end" transform="translate(1063.15 759.3) rotate(-90) scale(1 1.06)">26</text>
<text class="tk" text-anchor="end" transform="translate(1126.3 759.3) rotate(-90) scale(1 1.06)">38</text>
<text class="tk" text-anchor="end" transform="translate(1189.45 759.3) rotate(-90) scale(1 1.06)">55</text>
<text class="tk" text-anchor="end" transform="translate(1252.6 759.3) rotate(-90) scale(1 1.06)">78</text>
<text class="tk" text-anchor="end" transform="translate(1315.75 759.3) rotate(-90) scale(1 1.06)">113</text>
<text class="tk" text-anchor="end" transform="translate(1378.9 759.3) rotate(-90) scale(1 1.06)">162</text>
<text class="tk" text-anchor="end" transform="translate(1442.05 759.3) rotate(-90) scale(1 1.06)">234</text>
<text class="tk" text-anchor="end" transform="translate(1505.2 759.3) rotate(-90) scale(1 1.06)">336</text>
<text class="tk" text-anchor="end" transform="translate(1568.35 759.3) rotate(-90) scale(1 1.06)">483</text>
<text class="tk" text-anchor="end" transform="translate(1631.5 759.3) rotate(-90) scale(1 1.06)">695</text>
<text class="tk" text-anchor="end" transform="translate(1694.65 759.3) rotate(-90) scale(1 1.06)">1000</text>
<text class="ax" text-anchor="middle" x="1377.15" y="854.2">sample size</text>
<text class="ax" text-anchor="middle" transform="translate(918.8 402) rotate(-90) scale(1 1.055)">effect size</text>
</g>
<g id="panel3">
<text class="tt" transform="translate(115 923.7) scale(1 0.975)">left hippocampus</text>
<clipPath id="c2"><rect x="115" y="950.1" width="745.5" height="683.6"/></clipPath>
<rect x="115" y="950.1" width="745.5" height="683.6" fill="#e6e8e7"/>
<g clip-path="url(#c2)">
<path class="gm" d="M115 1018.7H860.5M115 1218.7H860.5M115 1418.7H860.5M115 1618.7H860.5"/>
<path class="gM" d="M115 1118.7H860.5M115 1318.7H860.5M115 1518.7H860.5M152.9 950.1V1633.7M216.08 950.1V1633.7M279.26 950.1V1633.7M342.44 950.1V1633.7M405.62 950.1V1633.7M468.8 950.1V1633.7M531.98 950.1V1633.7M595.16 950.1V1633.7M658.34 950.1V1633.7M721.52 950.1V1633.7M784.7 950.1V1633.7"/>
<path class="v" d="M164.2 980L164.25 980L164.25 981L164.26 982L164.26 983L164.26 984L164.26 985L164.27 986L164.27 987L164.27 988L164.27 989L164.28 990L164.28 991L164.28 992L164.28 993L164.29 994L164.29 995L164.29 996L164.3 997L164.3 998L164.3 999L164.31 1000L164.31 1001L164.32 1002L164.32 1003L164.32 1004L164.33 1005L164.33 1006L164.34 1007L164.34 1008L164.35 1009L164.35 1010L164.36 1011L164.36 1012L164.37 1013L164.37 1014L164.38 1015L164.39 1016L164.39 1017L164.4 1018L164.4 1019L164.41 1020L164.42 1021L164.42 1022L164.43 1023L164.44 1024L164.45 1025L164.45 1026L164.46 1027L164.47 1028L164.48 1029L164.49 1030L164.5 1031L164.5 1032L164.51 1033L164.52 1034L164.53 1035L164.54 1036L164.55 1037L164.56 1038L164.57 1039L164.58 1040L164.6 1041L164.61 1042L164.62 1043L164.63 1044L164.64 1045L164.66 1046L164.67 1047L164.68 1048L164.69 1049L164.71 1050L164.72 1051L164.74 1052L164.75 1053L164.77 1054L164.78 1055L164.8 1056L164.81 1057L164.83 1058L164.84 1059L164.86 1060L164.88 1061L164.9 1062L164.91 1063L164.93 1064L164.95 1065L164.97 1066L164.99 1067L165.01 1068L165.03 1069L165.05 1070L165.07 1071L165.09 1072L165.11 1073L165.13 1074L165.15 1075L165.17 1076L165.2 1077L165.22 1078L165.24 1079L165.27 1080L165.29 1081L165.31 1082L165.34 1083L165.36 1084L165.39 1085L165.42 1086L165.44 1087L165.47 1088L165.5 1089L165.52 1090L165.55 1091L165.58 1092L165.61 1093L165.64 1094L165.66 1095L165.69 1096L165.72 1097L165.75 1098L165.78 1099L165.82 1100L165.85 1101L165.88 1102L165.91 1103L165.94 1104L165.97 1105L166.01 1106L166.04 1107L166.07 1108L166.11 1109L166.14 1110L166.18 1111L166.21 1112L166.25 1113L166.28 1114L166.32 1115L166.35 1116L166.39 1117L166.43 1118L166.46 1119L166.5 1120L166.54 1121L166.57 1122L166.61 1123L166.65 1124L166.69 1125L166.72 1126L166.76 1127L166.8 1128L166.84 1129L166.88 1130L166.92 1131L166.96 1132L167 1133L167.04 1134L167.07 1135L167.11 1136L167.15 1137L167.19 1138L167.23 1139L167.27 1140L167.31 1141L167.35 1142L167.39 1143L167.43 1144L167.47 1145L167.51 1146L167.55 1147L167.59 1148L167.63 1149L167.67 1150L167.71 1151L167.75 1152L167.79 1153L167.83 1154L167.87 1155L167.91 1156L167.94 1157L167.98 1158L168.02 1159L168.06 1160L168.1 1161L168.13 1162L168.17 1163L168.21 1164L168.25 1165L168.28 1166L168.32 1167L168.35 1168L168.39 1169L168.42 1170L168.46 1171L168.49 1172L168.53 1173L168.56 1174L168.59 1175L168.63 1176L168.66 1177L168.69 1178L168.72 1179L168.75 1180L168.78 1181L168.81 1182L168.84 1183L168.87 1184L168.9 1185L168.92 1186L168.95 1187L168.98 1188L169 1189L169.03 1190L169.05 1191L169.08 1192L169.1 1193L169.12 1194L169.14 1195L169.17 1196L169.19 1197L169.21 1198L169.22 1199L169.24 1200L169.26 1201L169.28 1202L169.29 1203L169.31 1204L169.32 1205L169.34 1206L169.35 1207L169.36 1208L169.37 1209L169.38 1210L169.39 1211L169.4 1212L169.41 1213L169.42 1214L169.43 1215L169.43 1216L169.44 1217L169.44 1218L169.44 1219L169.45 1220L169.45 1221L169.45 1222L169.45 1223L169.45 1224L169.45 1225L169.45 1226L169.45 1227L169.44 1228L169.44 1229L169.44 1230L169.43 1231L169.43 1232L169.42 1233L169.42 1234L169.41 1235L169.41 1236L169.4 1237L169.39 1238L169.38 1239L169.37 1240L169.37 1241L169.36 1242L169.35 1243L169.34 1244L169.33 1245L169.31 1246L169.3 1247L169.29 1248L169.28 1249L169.26 1250L169.25 1251L169.24 1252L169.22 1253L169.21 1254L169.19 1255L169.18 1256L169.16 1257L169.14 1258L169.13 1259L169.11 1260L169.09 1261L169.07 1262L169.05 1263L169.03 1264L169.01 1265L169 1266L168.97 1267L168.95 1268L168.93 1269L168.91 1270L168.89 1271L168.87 1272L168.85 1273L168.82 1274L168.8 1275L168.78 1276L168.75 1277L168.73 1278L168.7 1279L168.68 1280L168.65 1281L168.63 1282L168.6 1283L168.58 1284L168.55 1285L168.53 1286L168.5 1287L168.47 1288L168.44 1289L168.42 1290L168.39 1291L168.36 1292L168.33 1293L168.31 1294L168.28 1295L168.25 1296L168.22 1297L168.19 1298L168.16 1299L168.13 1300L168.1 1301L168.07 1302L168.04 1303L168.01 1304L167.98 1305L167.95 1306L167.92 1307L167.89 1308L167.86 1309L167.83 1310L167.8 1311L167.77 1312L167.74 1313L167.71 1314L167.68 1315L167.65 1316L167.62 1317L167.58 1318L167.55 1319L167.52 1320L167.49 1321L167.46 1322L167.43 1323L167.4 1324L167.37 1325L167.33 1326L167.3 1327L167.27 1328L167.24 1329L167.21 1330L167.18 1331L167.15 1332L167.12 1333L167.08 1334L167.05 1335L167.02 1336L166.99 1337L166.96 1338L166.93 1339L166.9 1340L166.87 1341L166.84 1342L166.81 1343L166.78 1344L166.75 1345L166.72 1346L166.69 1347L166.66 1348L166.63 1349L166.6 1350L166.57 1351L166.54 1352L166.51 1353L166.48 1354L166.45 1355L166.42 1356L166.4 1357L166.37 1358L166.34 1359L166.31 1360L166.28 1361L166.25 1362L166.23 1363L166.2 1364L166.17 1365L166.15 1366L166.12 1367L166.09 1368L166.07 1369L166.04 1370L166.01 1371L165.99 1372L165.96 1373L165.94 1374L165.91 1375L165.89 1376L165.86 1377L165.84 1378L165.81 1379L165.79 1380L165.76 1381L165.74 1382L165.72 1383L165.69 1384L165.67 1385L165.65 1386L165.62 1387L165.6 1388L165.58 1389L165.56 1390L165.54 1391L165.51 1392L165.49 1393L165.47 1394L165.45 1395L165.43 1396L165.41 1397L165.39 1398L165.37 1399L165.35 1400L165.33 1401L165.31 1402L165.29 1403L165.27 1404L165.25 1405L165.23 1406L165.22 1407L165.2 1408L165.18 1409L165.16 1410L165.15 1411L165.13 1412L165.11 1413L165.1 1414L165.08 1415L165.06 1416L165.05 1417L165.03 1418L165.02 1419L165 1420L164.98 1421L164.97 1422L164.95 1423L164.94 1424L164.93 1425L164.91 1426L164.9 1427L164.88 1428L164.87 1429L164.86 1430L164.84 1431L164.83 1432L164.82 1433L164.81 1434L164.79 1435L164.78 1436L164.77 1437L164.76 1438L164.75 1439L164.74 1440L164.72 1441L164.71 1442L164.7 1443L164.69 1444L164.68 1445L164.67 1446L164.66 1447L164.65 1448L164.64 1449L164.63 1450L164.62 1451L164.61 1452L164.6 1453L164.6 1454L164.59 1455L164.58 1456L164.57 1457L164.56 1458L164.55 1459L164.55 1460L164.54 1461L164.53 1462L164.52 1463L164.51 1464L164.51 1465L164.5 1466L164.49 1467L164.49 1468L164.48 1469L164.47 1470L164.47 1471L164.46 1472L164.45 1473L164.45 1474L164.44 1475L164.44 1476L164.43 1477L164.42 1478L164.42 1479L164.41 1480L164.41 1481L164.4 1482L164.4 1483L164.39 1484L164.39 1485L164.38 1486L164.38 1487L164.37 1488L164.37 1489L164.37 1490L164.36 1491L164.36 1492L164.35 1493L164.35 1494L164.35 1495L164.34 1496L164.34 1497L164.33 1498L164.33 1499L164.33 1500L164.32 1501L164.32 1502L164.32 1503L164.31 1504L164.31 1505L164.31 1506L164.31 1507L164.3 1508L164.3 1509L164.3 1510L164.29 1511L164.29 1512L164.29 1513L164.29 1514L164.28 1515L164.28 1516L164.28 1517L164.28 1518L164.28 1519L164.27 1520L164.27 1521L164.27 1522L164.27 1523L164.27 1524L164.26 1525L164.26 1526L164.26 1527L164.26 1528L164.26 1529L164.25 1530L164.25 1531L164.25 1532L164.25 1533L164.25 1534L164.25 1535L164.25 1536L164.24 1537L164.24 1538L164.24 1539L164.24 1540L164.24 1541L164.24 1542L164.24 1543L164.24 1544L164.23 1545L164.23 1546L164.23 1547L164.23 1548L164.23 1549L164.23 1550L164.23 1551L164.23 1552L164.23 1553L164.23 1554L164.23 1555L164.22 1556L164.22 1557L164.22 1558L164.22 1559L164.22 1560L164.22 1561L164.22 1562L164.22 1563L164.22 1564L164.22 1565L164.22 1566L164.22 1567L164.22 1568L164.22 1569L164.22 1570L164.21 1571L164.21 1572L164.21 1573L164.21 1574L164.21 1575L164.21 1576L164.21 1577L164.21 1578L164.21 1579L164.21 1580L164.21 1581L164.21 1582L164.21 1583L164.21 1584L164.21 1585L164.21 1586L164.21 1587L164.21 1588L164.21 1589L164.21 1590L164.21 1591L164.21 1592L164.21 1593L164.21 1594L164.21 1595L164.21 1596L164.21 1597L164.21 1598L164.21 1599L164.21 1600L164.21 1601L164.21 1602L164.2 1603L164.2 1603Z"/>
<path class="v" d="M227.38 1020L227.41 1020L227.41 1021L227.42 1022L227.42 1023L227.42 1024L227.42 1025L227.42 1026L227.43 1027L227.43 1028L227.43 1029L227.43 1030L227.44 1031L227.44 1032L227.44 1033L227.45 1034L227.45 1035L227.45 1036L227.46 1037L227.46 1038L227.46 1039L227.47 1040L227.47 1041L227.48 1042L227.48 1043L227.49 1044L227.49 1045L227.5 1046L227.5 1047L227.51 1048L227.51 1049L227.52 1050L227.52 1051L227.53 1052L227.54 1053L227.54 1054L227.55 1055L227.56 1056L227.57 1057L227.58 1058L227.58 1059L227.59 1060L227.6 1061L227.61 1062L227.62 1063L227.63 1064L227.64 1065L227.65 1066L227.66 1067L227.67 1068L227.69 1069L227.7 1070L227.71 1071L227.72 1072L227.74 1073L227.75 1074L227.76 1075L227.78 1076L227.79 1077L227.81 1078L227.83 1079L227.84 1080L227.86 1081L227.88 1082L227.9 1083L227.92 1084L227.93 1085L227.95 1086L227.97 1087L228 1088L228.02 1089L228.04 1090L228.06 1091L228.09 1092L228.11 1093L228.13 1094L228.16 1095L228.19 1096L228.21 1097L228.24 1098L228.27 1099L228.29 1100L228.32 1101L228.35 1102L228.38 1103L228.42 1104L228.45 1105L228.48 1106L228.51 1107L228.55 1108L228.58 1109L228.62 1110L228.65 1111L228.69 1112L228.73 1113L228.77 1114L228.81 1115L228.85 1116L228.89 1117L228.93 1118L228.97 1119L229.01 1120L229.06 1121L229.1 1122L229.14 1123L229.19 1124L229.24 1125L229.28 1126L229.33 1127L229.38 1128L229.43 1129L229.48 1130L229.53 1131L229.58 1132L229.63 1133L229.68 1134L229.74 1135L229.79 1136L229.84 1137L229.9 1138L229.95 1139L230.01 1140L230.07 1141L230.12 1142L230.18 1143L230.24 1144L230.3 1145L230.35 1146L230.41 1147L230.47 1148L230.53 1149L230.59 1150L230.65 1151L230.71 1152L230.78 1153L230.84 1154L230.9 1155L230.96 1156L231.02 1157L231.08 1158L231.15 1159L231.21 1160L231.27 1161L231.33 1162L231.4 1163L231.46 1164L231.52 1165L231.58 1166L231.64 1167L231.71 1168L231.77 1169L231.83 1170L231.89 1171L231.95 1172L232.01 1173L232.07 1174L232.13 1175L232.19 1176L232.25 1177L232.3 1178L232.36 1179L232.42 1180L232.47 1181L232.53 1182L232.58 1183L232.64 1184L232.69 1185L232.74 1186L232.8 1187L232.85 1188L232.9 1189L232.94 1190L232.99 1191L233.04 1192L233.08 1193L233.13 1194L233.17 1195L233.21 1196L233.25 1197L233.29 1198L233.33 1199L233.37 1200L233.41 1201L233.44 1202L233.47 1203L233.51 1204L233.54 1205L233.57 1206L233.59 1207L233.62 1208L233.65 1209L233.67 1210L233.69 1211L233.71 1212L233.73 1213L233.75 1214L233.76 1215L233.78 1216L233.79 1217L233.8 1218L233.81 1219L233.82 1220L233.82 1221L233.83 1222L233.83 1223L233.83 1224L233.83 1225L233.83 1226L233.83 1227L233.82 1228L233.82 1229L233.81 1230L233.81 1231L233.8 1232L233.79 1233L233.78 1234L233.77 1235L233.76 1236L233.75 1237L233.73 1238L233.72 1239L233.7 1240L233.69 1241L233.67 1242L233.65 1243L233.63 1244L233.61 1245L233.59 1246L233.57 1247L233.55 1248L233.53 1249L233.5 1250L233.48 1251L233.45 1252L233.42 1253L233.4 1254L233.37 1255L233.34 1256L233.31 1257L233.28 1258L233.25 1259L233.21 1260L233.18 1261L233.15 1262L233.11 1263L233.08 1264L233.04 1265L233 1266L232.97 1267L232.93 1268L232.89 1269L232.85 1270L232.81 1271L232.77 1272L232.73 1273L232.69 1274L232.65 1275L232.61 1276L232.56 1277L232.52 1278L232.48 1279L232.43 1280L232.39 1281L232.34 1282L232.3 1283L232.25 1284L232.21 1285L232.16 1286L232.12 1287L232.07 1288L232.02 1289L231.97 1290L231.93 1291L231.88 1292L231.83 1293L231.78 1294L231.74 1295L231.69 1296L231.64 1297L231.59 1298L231.54 1299L231.49 1300L231.44 1301L231.4 1302L231.35 1303L231.3 1304L231.25 1305L231.2 1306L231.15 1307L231.1 1308L231.05 1309L231 1310L230.96 1311L230.91 1312L230.86 1313L230.81 1314L230.76 1315L230.71 1316L230.67 1317L230.62 1318L230.57 1319L230.52 1320L230.48 1321L230.43 1322L230.38 1323L230.34 1324L230.29 1325L230.25 1326L230.2 1327L230.15 1328L230.11 1329L230.07 1330L230.02 1331L229.98 1332L229.93 1333L229.89 1334L229.85 1335L229.8 1336L229.76 1337L229.72 1338L229.68 1339L229.64 1340L229.6 1341L229.56 1342L229.52 1343L229.48 1344L229.44 1345L229.4 1346L229.36 1347L229.32 1348L229.29 1349L229.25 1350L229.21 1351L229.18 1352L229.14 1353L229.11 1354L229.07 1355L229.04 1356L229 1357L228.97 1358L228.94 1359L228.9 1360L228.87 1361L228.84 1362L228.81 1363L228.78 1364L228.75 1365L228.72 1366L228.69 1367L228.66 1368L228.63 1369L228.6 1370L228.57 1371L228.55 1372L228.52 1373L228.49 1374L228.47 1375L228.44 1376L228.42 1377L228.39 1378L228.37 1379L228.34 1380L228.32 1381L228.3 1382L228.28 1383L228.25 1384L228.23 1385L228.21 1386L228.19 1387L228.17 1388L228.15 1389L228.13 1390L228.11 1391L228.09 1392L228.07 1393L228.06 1394L228.04 1395L228.02 1396L228 1397L227.99 1398L227.97 1399L227.95 1400L227.94 1401L227.92 1402L227.91 1403L227.89 1404L227.88 1405L227.87 1406L227.85 1407L227.84 1408L227.83 1409L227.81 1410L227.8 1411L227.79 1412L227.78 1413L227.76 1414L227.75 1415L227.74 1416L227.73 1417L227.72 1418L227.71 1419L227.7 1420L227.69 1421L227.68 1422L227.67 1423L227.66 1424L227.65 1425L227.65 1426L227.64 1427L227.63 1428L227.62 1429L227.61 1430L227.61 1431L227.6 1432L227.59 1433L227.59 1434L227.58 1435L227.57 1436L227.57 1437L227.56 1438L227.55 1439L227.55 1440L227.54 1441L227.54 1442L227.53 1443L227.53 1444L227.52 1445L227.52 1446L227.51 1447L227.51 1448L227.5 1449L227.5 1450L227.5 1451L227.49 1452L227.49 1453L227.48 1454L227.48 1455L227.48 1456L227.47 1457L227.47 1458L227.47 1459L227.46 1460L227.46 1461L227.46 1462L227.45 1463L227.45 1464L227.45 1465L227.45 1466L227.44 1467L227.44 1468L227.44 1469L227.44 1470L227.43 1471L227.43 1472L227.43 1473L227.43 1474L227.43 1475L227.43 1476L227.42 1477L227.42 1478L227.42 1479L227.42 1480L227.42 1481L227.42 1482L227.41 1483L227.41 1484L227.41 1485L227.41 1486L227.41 1487L227.41 1488L227.41 1489L227.41 1490L227.4 1491L227.4 1492L227.4 1493L227.4 1494L227.4 1495L227.4 1496L227.4 1497L227.4 1498L227.4 1499L227.4 1500L227.4 1501L227.4 1502L227.39 1503L227.38 1503Z"/>
<path class="v" d="M290.56 1079.4L290.65 1079.4L290.65 1080.4L290.66 1081.4L290.67 1082.4L290.67 1083.4L290.68 1084.4L290.69 1085.4L290.69 1086.4L290.7 1087.4L290.71 1088.4L290.72 1089.4L290.73 1090.4L290.74 1091.4L290.75 1092.4L290.76 1093.4L290.77 1094.4L290.78 1095.4L290.79 1096.4L290.81 1097.4L290.82 1098.4L290.84 1099.4L290.85 1100.4L290.87 1101.4L290.88 1102.4L290.9 1103.4L290.92 1104.4L290.94 1105.4L290.95 1106.4L290.97 1107.4L291 1108.4L291.02 1109.4L291.04 1110.4L291.06 1111.4L291.09 1112.4L291.11 1113.4L291.14 1114.4L291.17 1115.4L291.2 1116.4L291.23 1117.4L291.26 1118.4L291.29 1119.4L291.32 1120.4L291.36 1121.4L291.39 1122.4L291.43 1123.4L291.47 1124.4L291.51 1125.4L291.55 1126.4L291.59 1127.4L291.63 1128.4L291.68 1129.4L291.72 1130.4L291.77 1131.4L291.82 1132.4L291.87 1133.4L291.92 1134.4L291.97 1135.4L292.03 1136.4L292.08 1137.4L292.14 1138.4L292.2 1139.4L292.26 1140.4L292.32 1141.4L292.39 1142.4L292.45 1143.4L292.52 1144.4L292.59 1145.4L292.66 1146.4L292.73 1147.4L292.8 1148.4L292.87 1149.4L292.95 1150.4L293.03 1151.4L293.11 1152.4L293.19 1153.4L293.27 1154.4L293.35 1155.4L293.43 1156.4L293.52 1157.4L293.61 1158.4L293.7 1159.4L293.79 1160.4L293.88 1161.4L293.97 1162.4L294.06 1163.4L294.16 1164.4L294.25 1165.4L294.35 1166.4L294.44 1167.4L294.54 1168.4L294.64 1169.4L294.74 1170.4L294.84 1171.4L294.94 1172.4L295.04 1173.4L295.14 1174.4L295.25 1175.4L295.35 1176.4L295.45 1177.4L295.56 1178.4L295.66 1179.4L295.76 1180.4L295.87 1181.4L295.97 1182.4L296.07 1183.4L296.17 1184.4L296.28 1185.4L296.38 1186.4L296.48 1187.4L296.58 1188.4L296.68 1189.4L296.78 1190.4L296.87 1191.4L296.97 1192.4L297.07 1193.4L297.16 1194.4L297.25 1195.4L297.34 1196.4L297.43 1197.4L297.52 1198.4L297.61 1199.4L297.69 1200.4L297.78 1201.4L297.86 1202.4L297.94 1203.4L298.01 1204.4L298.09 1205.4L298.16 1206.4L298.23 1207.4L298.29 1208.4L298.36 1209.4L298.42 1210.4L298.48 1211.4L298.53 1212.4L298.59 1213.4L298.64 1214.4L298.69 1215.4L298.73 1216.4L298.77 1217.4L298.81 1218.4L298.84 1219.4L298.88 1220.4L298.9 1221.4L298.93 1222.4L298.95 1223.4L298.97 1224.4L298.98 1225.4L299 1226.4L299 1227.4L299.01 1228.4L299.01 1229.4L299.01 1230.4L299.01 1231.4L299 1232.4L298.99 1233.4L298.98 1234.4L298.97 1235.4L298.96 1236.4L298.94 1237.4L298.92 1238.4L298.9 1239.4L298.88 1240.4L298.86 1241.4L298.83 1242.4L298.8 1243.4L298.77 1244.4L298.74 1245.4L298.71 1246.4L298.67 1247.4L298.63 1248.4L298.59 1249.4L298.55 1250.4L298.51 1251.4L298.46 1252.4L298.42 1253.4L298.37 1254.4L298.32 1255.4L298.27 1256.4L298.21 1257.4L298.16 1258.4L298.1 1259.4L298.05 1260.4L297.99 1261.4L297.93 1262.4L297.86 1263.4L297.8 1264.4L297.74 1265.4L297.67 1266.4L297.61 1267.4L297.54 1268.4L297.47 1269.4L297.4 1270.4L297.33 1271.4L297.26 1272.4L297.18 1273.4L297.11 1274.4L297.03 1275.4L296.96 1276.4L296.88 1277.4L296.81 1278.4L296.73 1279.4L296.65 1280.4L296.57 1281.4L296.5 1282.4L296.42 1283.4L296.34 1284.4L296.26 1285.4L296.18 1286.4L296.1 1287.4L296.02 1288.4L295.93 1289.4L295.85 1290.4L295.77 1291.4L295.69 1292.4L295.61 1293.4L295.53 1294.4L295.45 1295.4L295.37 1296.4L295.29 1297.4L295.21 1298.4L295.13 1299.4L295.05 1300.4L294.97 1301.4L294.89 1302.4L294.81 1303.4L294.73 1304.4L294.65 1305.4L294.57 1306.4L294.5 1307.4L294.42 1308.4L294.34 1309.4L294.27 1310.4L294.19 1311.4L294.12 1312.4L294.04 1313.4L293.97 1314.4L293.9 1315.4L293.83 1316.4L293.76 1317.4L293.69 1318.4L293.62 1319.4L293.55 1320.4L293.48 1321.4L293.41 1322.4L293.35 1323.4L293.28 1324.4L293.22 1325.4L293.15 1326.4L293.09 1327.4L293.03 1328.4L292.97 1329.4L292.91 1330.4L292.85 1331.4L292.79 1332.4L292.73 1333.4L292.68 1334.4L292.62 1335.4L292.57 1336.4L292.52 1337.4L292.46 1338.4L292.41 1339.4L292.36 1340.4L292.31 1341.4L292.26 1342.4L292.21 1343.4L292.17 1344.4L292.12 1345.4L292.08 1346.4L292.03 1347.4L291.99 1348.4L291.95 1349.4L291.91 1350.4L291.87 1351.4L291.83 1352.4L291.79 1353.4L291.75 1354.4L291.71 1355.4L291.68 1356.4L291.64 1357.4L291.61 1358.4L291.57 1359.4L291.54 1360.4L291.51 1361.4L291.48 1362.4L291.45 1363.4L291.42 1364.4L291.39 1365.4L291.36 1366.4L291.34 1367.4L291.31 1368.4L291.28 1369.4L291.26 1370.4L291.23 1371.4L291.21 1372.4L291.19 1373.4L291.16 1374.4L291.14 1375.4L291.12 1376.4L291.1 1377.4L291.08 1378.4L291.06 1379.4L291.04 1380.4L291.03 1381.4L291.01 1382.4L290.99 1383.4L290.98 1384.4L290.96 1385.4L290.94 1386.4L290.93 1387.4L290.91 1388.4L290.9 1389.4L290.89 1390.4L290.87 1391.4L290.86 1392.4L290.85 1393.4L290.84 1394.4L290.83 1395.4L290.82 1396.4L290.81 1397.4L290.8 1398.4L290.79 1399.4L290.78 1400.4L290.77 1401.4L290.76 1402.4L290.75 1403.4L290.74 1404.4L290.73 1405.4L290.73 1406.4L290.72 1407.4L290.71 1408.4L290.71 1409.4L290.7 1410.4L290.69 1411.4L290.69 1412.4L290.68 1413.4L290.68 1414.4L290.67 1415.4L290.67 1416.4L290.66 1417.4L290.66 1418.4L290.65 1419.4L290.65 1420.4L290.64 1421.4L290.64 1422.4L290.64 1423.4L290.63 1424.4L290.63 1425.4L290.63 1426.4L290.62 1427.4L290.62 1428.4L290.62 1429.4L290.61 1430.4L290.61 1431.4L290.61 1432.4L290.61 1433.4L290.6 1434.4L290.6 1435.4L290.6 1436.4L290.6 1437.4L290.6 1438.4L290.59 1439.4L290.59 1440.4L290.59 1441.4L290.59 1442.4L290.59 1443.4L290.59 1444.4L290.58 1445.4L290.58 1446.4L290.58 1447.4L290.58 1448.4L290.58 1449.4L290.58 1450.4L290.58 1451.4L290.58 1452.4L290.58 1453.4L290.57 1454.4L290.57 1455.4L290.57 1456.4L290.57 1457.4L290.57 1458.4L290.57 1459.4L290.57 1460.4L290.57 1461.4L290.57 1462.4L290.57 1463.4L290.57 1464.4L290.57 1465.4L290.57 1466.4L290.57 1467.4L290.57 1468.4L290.57 1469.4L290.57 1470.4L290.57 1471.4L290.57 1472.4L290.56 1473.4L290.56 1474.4L290.56 1475.4L290.56 1476.4L290.56 1477.4L290.56 1478.4L290.56 1479.4L290.56 1480.4L290.56 1481.4L290.56 1482.4L290.56 1483.4L290.56 1484.4L290.56 1485.4L290.56 1486.4L290.56 1487.4L290.56 1488.4L290.56 1489.4L290.56 1490.4L290.56 1491.4L290.56 1492.4L290.56 1493.4L290.56 1494.4L290.56 1495L290.56 1495Z"/>
<path class="v" d="M353.74 1100L353.79 1100L353.8 1101L353.8 1102L353.8 1103L353.81 1104L353.82 1105L353.82 1106L353.83 1107L353.84 1108L353.84 1109L353.85 1110L353.86 1111L353.87 1112L353.88 1113L353.89 1114L353.9 1115L353.91 1116L353.92 1117L353.93 1118L353.95 1119L353.96 1120L353.98 1121L353.99 1122L354.01 1123L354.03 1124L354.05 1125L354.07 1126L354.09 1127L354.12 1128L354.14 1129L354.17 1130L354.19 1131L354.22 1132L354.25 1133L354.28 1134L354.31 1135L354.35 1136L354.38 1137L354.42 1138L354.46 1139L354.5 1140L354.55 1141L354.59 1142L354.64 1143L354.69 1144L354.74 1145L354.79 1146L354.85 1147L354.91 1148L354.97 1149L355.03 1150L355.09 1151L355.16 1152L355.23 1153L355.3 1154L355.38 1155L355.46 1156L355.54 1157L355.62 1158L355.7 1159L355.79 1160L355.88 1161L355.98 1162L356.07 1163L356.17 1164L356.27 1165L356.37 1166L356.48 1167L356.59 1168L356.7 1169L356.81 1170L356.93 1171L357.05 1172L357.17 1173L357.29 1174L357.42 1175L357.55 1176L357.68 1177L357.81 1178L357.94 1179L358.08 1180L358.21 1181L358.35 1182L358.49 1183L358.63 1184L358.78 1185L358.92 1186L359.07 1187L359.21 1188L359.36 1189L359.5 1190L359.65 1191L359.8 1192L359.94 1193L360.09 1194L360.23 1195L360.38 1196L360.52 1197L360.67 1198L360.81 1199L360.95 1200L361.09 1201L361.22 1202L361.36 1203L361.49 1204L361.62 1205L361.75 1206L361.88 1207L362 1208L362.12 1209L362.23 1210L362.34 1211L362.45 1212L362.55 1213L362.65 1214L362.75 1215L362.84 1216L362.93 1217L363.01 1218L363.09 1219L363.16 1220L363.22 1221L363.29 1222L363.34 1223L363.39 1224L363.44 1225L363.48 1226L363.51 1227L363.54 1228L363.56 1229L363.58 1230L363.59 1231L363.59 1232L363.59 1233L363.58 1234L363.58 1235L363.56 1236L363.55 1237L363.53 1238L363.51 1239L363.48 1240L363.45 1241L363.42 1242L363.38 1243L363.34 1244L363.3 1245L363.25 1246L363.2 1247L363.14 1248L363.09 1249L363.03 1250L362.97 1251L362.9 1252L362.83 1253L362.76 1254L362.68 1255L362.61 1256L362.53 1257L362.45 1258L362.36 1259L362.27 1260L362.19 1261L362.09 1262L362 1263L361.91 1264L361.81 1265L361.71 1266L361.61 1267L361.51 1268L361.4 1269L361.3 1270L361.19 1271L361.08 1272L360.97 1273L360.86 1274L360.75 1275L360.64 1276L360.53 1277L360.41 1278L360.3 1279L360.19 1280L360.07 1281L359.96 1282L359.84 1283L359.73 1284L359.61 1285L359.5 1286L359.38 1287L359.27 1288L359.15 1289L359.04 1290L358.93 1291L358.81 1292L358.7 1293L358.59 1294L358.48 1295L358.37 1296L358.26 1297L358.15 1298L358.04 1299L357.94 1300L357.83 1301L357.73 1302L357.62 1303L357.52 1304L357.42 1305L357.32 1306L357.23 1307L357.13 1308L357.04 1309L356.94 1310L356.85 1311L356.76 1312L356.67 1313L356.58 1314L356.5 1315L356.42 1316L356.33 1317L356.25 1318L356.17 1319L356.1 1320L356.02 1321L355.94 1322L355.87 1323L355.8 1324L355.73 1325L355.66 1326L355.6 1327L355.53 1328L355.47 1329L355.41 1330L355.35 1331L355.29 1332L355.23 1333L355.18 1334L355.13 1335L355.07 1336L355.02 1337L354.97 1338L354.93 1339L354.88 1340L354.83 1341L354.79 1342L354.75 1343L354.71 1344L354.67 1345L354.63 1346L354.59 1347L354.56 1348L354.52 1349L354.49 1350L354.46 1351L354.43 1352L354.4 1353L354.37 1354L354.34 1355L354.31 1356L354.29 1357L354.26 1358L354.24 1359L354.21 1360L354.19 1361L354.17 1362L354.15 1363L354.13 1364L354.11 1365L354.09 1366L354.08 1367L354.06 1368L354.05 1369L354.03 1370L354.02 1371L354 1372L353.99 1373L353.98 1374L353.96 1375L353.95 1376L353.94 1377L353.93 1378L353.92 1379L353.91 1380L353.9 1381L353.89 1382L353.88 1383L353.88 1384L353.87 1385L353.86 1386L353.86 1387L353.85 1388L353.84 1389L353.84 1390L353.83 1391L353.83 1392L353.82 1393L353.82 1394L353.81 1395L353.81 1396L353.8 1397L353.8 1398L353.8 1399L353.79 1400L353.79 1401L353.79 1402L353.78 1403L353.78 1404L353.78 1405L353.78 1406L353.77 1407L353.77 1408L353.77 1409L353.77 1410L353.77 1411L353.76 1412L353.76 1413L353.76 1414L353.76 1415L353.74 1415Z"/>
<path class="v" d="M416.92 1125.4L416.99 1125.4L416.99 1126.4L417 1127.4L417.01 1128.4L417.01 1129.4L417.02 1130.4L417.03 1131.4L417.04 1132.4L417.06 1133.4L417.07 1134.4L417.08 1135.4L417.1 1136.4L417.11 1137.4L417.13 1138.4L417.15 1139.4L417.17 1140.4L417.19 1141.4L417.21 1142.4L417.23 1143.4L417.26 1144.4L417.29 1145.4L417.32 1146.4L417.35 1147.4L417.38 1148.4L417.42 1149.4L417.46 1150.4L417.5 1151.4L417.54 1152.4L417.58 1153.4L417.63 1154.4L417.68 1155.4L417.74 1156.4L417.8 1157.4L417.86 1158.4L417.92 1159.4L417.99 1160.4L418.06 1161.4L418.13 1162.4L418.21 1163.4L418.29 1164.4L418.37 1165.4L418.46 1166.4L418.56 1167.4L418.65 1168.4L418.76 1169.4L418.86 1170.4L418.97 1171.4L419.09 1172.4L419.2 1173.4L419.33 1174.4L419.46 1175.4L419.59 1176.4L419.72 1177.4L419.86 1178.4L420.01 1179.4L420.16 1180.4L420.31 1181.4L420.47 1182.4L420.63 1183.4L420.8 1184.4L420.97 1185.4L421.14 1186.4L421.32 1187.4L421.5 1188.4L421.68 1189.4L421.87 1190.4L422.06 1191.4L422.25 1192.4L422.45 1193.4L422.64 1194.4L422.84 1195.4L423.04 1196.4L423.24 1197.4L423.44 1198.4L423.64 1199.4L423.85 1200.4L424.05 1201.4L424.25 1202.4L424.45 1203.4L424.65 1204.4L424.85 1205.4L425.04 1206.4L425.24 1207.4L425.43 1208.4L425.61 1209.4L425.8 1210.4L425.98 1211.4L426.15 1212.4L426.32 1213.4L426.48 1214.4L426.64 1215.4L426.8 1216.4L426.94 1217.4L427.08 1218.4L427.21 1219.4L427.34 1220.4L427.46 1221.4L427.56 1222.4L427.67 1223.4L427.76 1224.4L427.84 1225.4L427.92 1226.4L427.98 1227.4L428.04 1228.4L428.08 1229.4L428.12 1230.4L428.15 1231.4L428.16 1232.4L428.17 1233.4L428.17 1234.4L428.16 1235.4L428.15 1236.4L428.13 1237.4L428.1 1238.4L428.07 1239.4L428.03 1240.4L427.99 1241.4L427.94 1242.4L427.88 1243.4L427.82 1244.4L427.75 1245.4L427.68 1246.4L427.6 1247.4L427.52 1248.4L427.43 1249.4L427.34 1250.4L427.24 1251.4L427.14 1252.4L427.04 1253.4L426.93 1254.4L426.81 1255.4L426.69 1256.4L426.57 1257.4L426.44 1258.4L426.31 1259.4L426.18 1260.4L426.04 1261.4L425.91 1262.4L425.76 1263.4L425.62 1264.4L425.47 1265.4L425.32 1266.4L425.17 1267.4L425.02 1268.4L424.87 1269.4L424.71 1270.4L424.56 1271.4L424.4 1272.4L424.24 1273.4L424.08 1274.4L423.93 1275.4L423.77 1276.4L423.61 1277.4L423.45 1278.4L423.29 1279.4L423.13 1280.4L422.97 1281.4L422.82 1282.4L422.66 1283.4L422.51 1284.4L422.35 1285.4L422.2 1286.4L422.05 1287.4L421.9 1288.4L421.76 1289.4L421.61 1290.4L421.47 1291.4L421.32 1292.4L421.19 1293.4L421.05 1294.4L420.91 1295.4L420.78 1296.4L420.65 1297.4L420.52 1298.4L420.4 1299.4L420.27 1300.4L420.15 1301.4L420.04 1302.4L419.92 1303.4L419.81 1304.4L419.7 1305.4L419.59 1306.4L419.49 1307.4L419.39 1308.4L419.29 1309.4L419.19 1310.4L419.1 1311.4L419.01 1312.4L418.92 1313.4L418.83 1314.4L418.75 1315.4L418.67 1316.4L418.59 1317.4L418.52 1318.4L418.45 1319.4L418.38 1320.4L418.31 1321.4L418.24 1322.4L418.18 1323.4L418.12 1324.4L418.06 1325.4L418.01 1326.4L417.95 1327.4L417.9 1328.4L417.85 1329.4L417.81 1330.4L417.76 1331.4L417.72 1332.4L417.67 1333.4L417.63 1334.4L417.6 1335.4L417.56 1336.4L417.52 1337.4L417.49 1338.4L417.46 1339.4L417.43 1340.4L417.4 1341.4L417.37 1342.4L417.35 1343.4L417.32 1344.4L417.3 1345.4L417.28 1346.4L417.26 1347.4L417.24 1348.4L417.22 1349.4L417.2 1350.4L417.18 1351.4L417.16 1352.4L417.15 1353.4L417.13 1354.4L417.12 1355.4L417.11 1356.4L417.1 1357.4L417.08 1358.4L417.07 1359.4L417.06 1360.4L417.05 1361.4L417.04 1362.4L417.04 1363.4L417.03 1364.4L417.02 1365.4L417.01 1366.4L417.01 1367.4L417 1368.4L417 1369.4L416.99 1370.4L416.99 1371.4L416.98 1372.4L416.98 1373.4L416.97 1374.4L416.97 1375.4L416.96 1376.4L416.96 1377.4L416.96 1378.4L416.96 1379.4L416.95 1380.4L416.95 1381.4L416.95 1382.4L416.95 1383.4L416.94 1384.4L416.94 1385.4L416.94 1386.4L416.94 1387.4L416.94 1388.4L416.94 1389.4L416.93 1390.4L416.93 1391.4L416.93 1392.4L416.93 1393.4L416.93 1394.4L416.93 1395.4L416.93 1396.4L416.93 1397L416.92 1397Z"/>
<path class="v" d="M480.1 1145.2L480.15 1145.2L480.16 1145.7L480.17 1146.2L480.18 1146.7L480.2 1147.2L480.21 1147.7L480.22 1148.2L480.23 1148.7L480.24 1149.2L480.25 1149.7L480.26 1150.2L480.27 1150.7L480.28 1151.2L480.29 1151.7L480.3 1152.2L480.31 1152.7L480.31 1153.2L480.32 1153.7L480.33 1154.2L480.34 1154.7L480.35 1155.2L480.36 1155.7L480.37 1156.2L480.38 1156.7L480.39 1157.2L480.4 1157.7L480.41 1158.2L480.42 1158.7L480.43 1159.2L480.44 1159.7L480.45 1160.2L480.46 1160.7L480.48 1161.2L480.49 1161.7L480.5 1162.2L480.51 1162.7L480.53 1163.2L480.54 1163.7L480.55 1164.2L480.57 1164.7L480.58 1165.2L480.6 1165.7L480.61 1166.2L480.63 1166.7L480.65 1167.2L480.66 1167.7L480.68 1168.2L480.7 1168.7L480.72 1169.2L480.74 1169.7L480.76 1170.2L480.78 1170.7L480.81 1171.2L480.83 1171.7L480.86 1172.2L480.9 1172.7L480.93 1173.2L480.97 1173.7L481.01 1174.2L481.05 1174.7L481.09 1175.2L481.14 1175.7L481.18 1176.2L481.23 1176.7L481.28 1177.2L481.33 1177.7L481.39 1178.2L481.44 1178.7L481.5 1179.2L481.55 1179.7L481.61 1180.2L481.67 1180.7L481.73 1181.2L481.79 1181.7L481.86 1182.2L481.92 1182.7L481.98 1183.2L482.05 1183.7L482.11 1184.2L482.18 1184.7L482.24 1185.2L482.31 1185.7L482.38 1186.2L482.45 1186.7L482.52 1187.2L482.59 1187.7L482.67 1188.2L482.75 1188.7L482.84 1189.2L482.93 1189.7L483.01 1190.2L483.11 1190.7L483.2 1191.2L483.29 1191.7L483.39 1192.2L483.49 1192.7L483.59 1193.2L483.69 1193.7L483.8 1194.2L483.9 1194.7L484.01 1195.2L484.12 1195.7L484.22 1196.2L484.33 1196.7L484.44 1197.2L484.55 1197.7L484.66 1198.2L484.77 1198.7L484.88 1199.2L485 1199.7L485.11 1200.2L485.22 1200.7L485.33 1201.2L485.44 1201.7L485.56 1202.2L485.67 1202.7L485.79 1203.2L485.91 1203.7L486.03 1204.2L486.15 1204.7L486.27 1205.2L486.4 1205.7L486.52 1206.2L486.65 1206.7L486.78 1207.2L486.92 1207.7L487.05 1208.2L487.19 1208.7L487.32 1209.2L487.46 1209.7L487.61 1210.2L487.76 1210.7L487.93 1211.2L488.1 1211.7L488.28 1212.2L488.46 1212.7L488.65 1213.2L488.85 1213.7L489.04 1214.2L489.23 1214.7L489.42 1215.2L489.61 1215.7L489.79 1216.2L489.96 1216.7L490.13 1217.2L490.28 1217.7L490.43 1218.2L490.56 1218.7L490.67 1219.2L490.77 1219.7L490.86 1220.2L490.94 1220.7L491.02 1221.2L491.1 1221.7L491.17 1222.2L491.24 1222.7L491.3 1223.2L491.37 1223.7L491.43 1224.2L491.48 1224.7L491.54 1225.2L491.6 1225.7L491.65 1226.2L491.7 1226.7L491.75 1227.2L491.81 1227.7L491.86 1228.2L491.91 1228.7L491.96 1229.2L492.02 1229.7L492.08 1230.2L492.13 1230.7L492.19 1231.2L492.26 1231.7L492.32 1232.2L492.39 1232.7L492.47 1233.2L492.56 1233.7L492.65 1234.2L492.75 1234.7L492.85 1235.2L492.95 1235.7L493.05 1236.2L493.14 1236.7L493.23 1237.2L493.32 1237.7L493.39 1238.2L493.45 1238.7L493.5 1239.2L493.53 1239.7L493.55 1240.2L493.55 1240.7L493.53 1241.2L493.5 1241.7L493.45 1242.2L493.4 1242.7L493.35 1243.2L493.3 1243.7L493.25 1244.2L493.2 1244.7L493.17 1245.2L493.15 1245.7L493.16 1246.2L493.28 1246.7L493.5 1247.2L493.77 1247.7L494.07 1248.2L494.35 1248.7L494.58 1249.2L494.72 1249.7L494.75 1250.2L494.73 1250.7L494.68 1251.2L494.62 1251.7L494.54 1252.2L494.44 1252.7L494.34 1253.2L494.22 1253.7L494.1 1254.2L493.97 1254.7L493.83 1255.2L493.7 1255.7L493.57 1256.2L493.44 1256.7L493.32 1257.2L493.21 1257.7L493.11 1258.2L493.01 1258.7L492.92 1259.2L492.83 1259.7L492.74 1260.2L492.65 1260.7L492.56 1261.2L492.47 1261.7L492.38 1262.2L492.29 1262.7L492.2 1263.2L492.11 1263.7L492.02 1264.2L491.93 1264.7L491.83 1265.2L491.73 1265.7L491.63 1266.2L491.53 1266.7L491.42 1267.2L491.31 1267.7L491.2 1268.2L491.08 1268.7L490.95 1269.2L490.83 1269.7L490.69 1270.2L490.55 1270.7L490.41 1271.2L490.27 1271.7L490.12 1272.2L489.96 1272.7L489.81 1273.2L489.65 1273.7L489.49 1274.2L489.32 1274.7L489.16 1275.2L488.99 1275.7L488.82 1276.2L488.64 1276.7L488.46 1277.2L488.26 1277.7L488.05 1278.2L487.83 1278.7L487.6 1279.2L487.38 1279.7L487.15 1280.2L486.93 1280.7L486.7 1281.2L486.49 1281.7L486.29 1282.2L486.09 1282.7L485.91 1283.2L485.75 1283.7L485.6 1284.2L485.47 1284.7L485.35 1285.2L485.24 1285.7L485.12 1286.2L485.01 1286.7L484.91 1287.2L484.81 1287.7L484.71 1288.2L484.61 1288.7L484.52 1289.2L484.43 1289.7L484.34 1290.2L484.26 1290.7L484.18 1291.2L484.1 1291.7L484.02 1292.2L483.94 1292.7L483.86 1293.2L483.79 1293.7L483.71 1294.2L483.64 1294.7L483.56 1295.2L483.49 1295.7L483.42 1296.2L483.34 1296.7L483.27 1297.2L483.2 1297.7L483.12 1298.2L483.04 1298.7L482.97 1299.2L482.89 1299.7L482.81 1300.2L482.74 1300.7L482.66 1301.2L482.59 1301.7L482.51 1302.2L482.44 1302.7L482.36 1303.2L482.29 1303.7L482.22 1304.2L482.15 1304.7L482.08 1305.2L482.02 1305.7L481.95 1306.2L481.89 1306.7L481.83 1307.2L481.78 1307.7L481.72 1308.2L481.67 1308.7L481.62 1309.2L481.58 1309.7L481.53 1310.2L481.49 1310.7L481.45 1311.2L481.41 1311.7L481.37 1312.2L481.33 1312.7L481.29 1313.2L481.25 1313.7L481.21 1314.2L481.17 1314.7L481.14 1315.2L481.1 1315.7L481.07 1316.2L481.03 1316.7L481 1317.2L480.96 1317.7L480.93 1318.2L480.9 1318.7L480.87 1319.2L480.84 1319.7L480.82 1320.2L480.79 1320.7L480.76 1321.2L480.74 1321.7L480.72 1322.2L480.7 1322.7L480.68 1323.2L480.66 1323.7L480.64 1324.2L480.62 1324.7L480.61 1325.2L480.6 1325.7L480.59 1326.2L480.57 1326.7L480.56 1327.2L480.55 1327.7L480.54 1328.2L480.53 1328.7L480.53 1329.2L480.52 1329.7L480.51 1330.2L480.5 1330.7L480.49 1331.2L480.48 1331.7L480.47 1332.2L480.47 1332.7L480.46 1333.2L480.45 1333.7L480.44 1334.2L480.44 1334.7L480.43 1335.2L480.42 1335.7L480.42 1336.2L480.41 1336.7L480.4 1337.2L480.4 1337.7L480.39 1338.2L480.38 1338.7L480.38 1339.2L480.37 1339.7L480.37 1340.2L480.36 1340.7L480.36 1341.2L480.35 1341.7L480.35 1342.2L480.34 1342.7L480.34 1343.2L480.33 1343.7L480.33 1344.2L480.32 1344.7L480.32 1345.2L480.31 1345.7L480.31 1346.2L480.3 1346.7L480.3 1347.2L480.29 1347.7L480.29 1348.2L480.29 1348.7L480.28 1349.2L480.28 1349.7L480.27 1350.2L480.27 1350.7L480.26 1351.2L480.26 1351.7L480.26 1352.2L480.25 1352.7L480.25 1353.2L480.24 1353.7L480.24 1354.2L480.23 1354.7L480.23 1355.2L480.22 1355.7L480.22 1356.2L480.21 1356.7L480.21 1357.2L480.2 1357.7L480.2 1358.2L480.2 1358.7L480.19 1359.2L480.18 1359.7L480.18 1360.2L480.17 1360.7L480.17 1361.2L480.16 1361.7L480.16 1362.2L480.15 1362.7L480.15 1362.8L480.1 1362.8Z"/>
<path class="v" d="M543.28 1162L543.33 1162L543.35 1162.5L543.36 1163L543.38 1163.5L543.39 1164L543.41 1164.5L543.43 1165L543.44 1165.5L543.46 1166L543.47 1166.5L543.49 1167L543.51 1167.5L543.52 1168L543.54 1168.5L543.56 1169L543.59 1169.5L543.61 1170L543.64 1170.5L543.66 1171L543.69 1171.5L543.72 1172L543.76 1172.5L543.79 1173L543.83 1173.5L543.86 1174L543.9 1174.5L543.95 1175L543.99 1175.5L544.03 1176L544.08 1176.5L544.12 1177L544.17 1177.5L544.22 1178L544.27 1178.5L544.32 1179L544.37 1179.5L544.43 1180L544.48 1180.5L544.54 1181L544.59 1181.5L544.65 1182L544.71 1182.5L544.77 1183L544.83 1183.5L544.9 1184L544.97 1184.5L545.04 1185L545.12 1185.5L545.19 1186L545.27 1186.5L545.35 1187L545.43 1187.5L545.52 1188L545.61 1188.5L545.69 1189L545.78 1189.5L545.87 1190L545.97 1190.5L546.06 1191L546.16 1191.5L546.25 1192L546.35 1192.5L546.45 1193L546.55 1193.5L546.65 1194L546.75 1194.5L546.86 1195L546.97 1195.5L547.08 1196L547.2 1196.5L547.32 1197L547.44 1197.5L547.56 1198L547.69 1198.5L547.82 1199L547.94 1199.5L548.08 1200L548.21 1200.5L548.34 1201L548.48 1201.5L548.61 1202L548.75 1202.5L548.89 1203L549.02 1203.5L549.16 1204L549.3 1204.5L549.44 1205L549.58 1205.5L549.72 1206L549.86 1206.5L550 1207L550.15 1207.5L550.3 1208L550.45 1208.5L550.6 1209L550.76 1209.5L550.92 1210L551.08 1210.5L551.25 1211L551.42 1211.5L551.59 1212L551.77 1212.5L551.97 1213L552.17 1213.5L552.37 1214L552.58 1214.5L552.79 1215L553.01 1215.5L553.22 1216L553.43 1216.5L553.65 1217L553.85 1217.5L554.05 1218L554.25 1218.5L554.44 1219L554.62 1219.5L554.78 1220L554.95 1220.5L555.1 1221L555.26 1221.5L555.4 1222L555.55 1222.5L555.69 1223L555.83 1223.5L555.97 1224L556.11 1224.5L556.25 1225L556.4 1225.5L556.55 1226L556.7 1226.5L556.85 1227L557.02 1227.5L557.19 1228L557.37 1228.5L557.57 1229L557.77 1229.5L557.98 1230L558.19 1230.5L558.4 1231L558.6 1231.5L558.8 1232L558.99 1232.5L559.16 1233L559.31 1233.5L559.45 1234L559.58 1234.5L559.71 1235L559.84 1235.5L559.96 1236L560.09 1236.5L560.21 1237L560.31 1237.5L560.41 1238L560.49 1238.5L560.56 1239L560.61 1239.5L560.64 1240L560.65 1240.5L560.64 1241L560.62 1241.5L560.59 1242L560.55 1242.5L560.51 1243L560.46 1243.5L560.41 1244L560.37 1244.5L560.33 1245L560.29 1245.5L560.27 1246L560.25 1246.5L560.25 1247L560.29 1247.5L560.35 1248L560.43 1248.5L560.53 1249L560.63 1249.5L560.72 1250L560.8 1250.5L560.86 1251L560.89 1251.5L560.87 1252L560.78 1252.5L560.64 1253L560.45 1253.5L560.22 1254L559.97 1254.5L559.71 1255L559.44 1255.5L559.18 1256L558.94 1256.5L558.73 1257L558.54 1257.5L558.37 1258L558.19 1258.5L558.03 1259L557.86 1259.5L557.7 1260L557.54 1260.5L557.38 1261L557.23 1261.5L557.06 1262L556.9 1262.5L556.74 1263L556.57 1263.5L556.39 1264L556.21 1264.5L556.03 1265L555.84 1265.5L555.65 1266L555.46 1266.5L555.26 1267L555.06 1267.5L554.86 1268L554.65 1268.5L554.45 1269L554.24 1269.5L554.04 1270L553.83 1270.5L553.63 1271L553.42 1271.5L553.21 1272L553.01 1272.5L552.8 1273L552.59 1273.5L552.38 1274L552.16 1274.5L551.94 1275L551.72 1275.5L551.5 1276L551.28 1276.5L551.06 1277L550.85 1277.5L550.63 1278L550.42 1278.5L550.21 1279L550 1279.5L549.8 1280L549.6 1280.5L549.41 1281L549.23 1281.5L549.05 1282L548.88 1282.5L548.71 1283L548.54 1283.5L548.37 1284L548.21 1284.5L548.05 1285L547.9 1285.5L547.74 1286L547.59 1286.5L547.45 1287L547.3 1287.5L547.16 1288L547.03 1288.5L546.9 1289L546.77 1289.5L546.65 1290L546.53 1290.5L546.41 1291L546.3 1291.5L546.18 1292L546.07 1292.5L545.96 1293L545.85 1293.5L545.75 1294L545.65 1294.5L545.55 1295L545.45 1295.5L545.36 1296L545.28 1296.5L545.2 1297L545.12 1297.5L545.05 1298L544.98 1298.5L544.91 1299L544.85 1299.5L544.78 1300L544.72 1300.5L544.65 1301L544.59 1301.5L544.53 1302L544.47 1302.5L544.41 1303L544.35 1303.5L544.3 1304L544.25 1304.5L544.2 1305L544.15 1305.5L544.1 1306L544.06 1306.5L544.02 1307L543.98 1307.5L543.95 1308L543.92 1308.5L543.89 1309L543.87 1309.5L543.85 1310L543.83 1310.5L543.82 1311L543.8 1311.5L543.78 1312L543.77 1312.5L543.75 1313L543.74 1313.5L543.73 1314L543.71 1314.5L543.7 1315L543.69 1315.5L543.67 1316L543.66 1316.5L543.65 1317L543.64 1317.5L543.63 1318L543.62 1318.5L543.61 1319L543.6 1319.5L543.59 1320L543.58 1320.5L543.57 1321L543.57 1321.5L543.56 1322L543.55 1322.5L543.54 1323L543.53 1323.5L543.53 1324L543.52 1324.5L543.51 1325L543.5 1325.5L543.5 1326L543.49 1326.5L543.48 1327L543.48 1327.5L543.47 1328L543.46 1328.5L543.45 1329L543.45 1329.5L543.44 1330L543.43 1330.5L543.43 1331L543.42 1331.5L543.41 1332L543.4 1332.5L543.4 1333L543.39 1333.5L543.38 1334L543.37 1334.5L543.36 1335L543.35 1335.5L543.34 1336L543.33 1336.5L543.33 1336.72L543.28 1336.72Z"/>
<path class="v" d="M606.46 1177.6L606.51 1177.6L606.52 1178.1L606.53 1178.6L606.54 1179.1L606.55 1179.6L606.56 1180.1L606.57 1180.6L606.58 1181.1L606.59 1181.6L606.6 1182.1L606.61 1182.6L606.62 1183.1L606.63 1183.6L606.63 1184.1L606.64 1184.6L606.65 1185.1L606.66 1185.6L606.67 1186.1L606.68 1186.6L606.69 1187.1L606.7 1187.6L606.71 1188.1L606.72 1188.6L606.73 1189.1L606.74 1189.6L606.75 1190.1L606.77 1190.6L606.78 1191.1L606.8 1191.6L606.81 1192.1L606.83 1192.6L606.85 1193.1L606.86 1193.6L606.88 1194.1L606.9 1194.6L606.93 1195.1L606.95 1195.6L606.98 1196.1L607.02 1196.6L607.08 1197.1L607.15 1197.6L607.23 1198.1L607.31 1198.6L607.41 1199.1L607.51 1199.6L607.62 1200.1L607.74 1200.6L607.86 1201.1L607.98 1201.6L608.11 1202.1L608.24 1202.6L608.37 1203.1L608.5 1203.6L608.63 1204.1L608.76 1204.6L608.89 1205.1L609.03 1205.6L609.17 1206.1L609.32 1206.6L609.47 1207.1L609.63 1207.6L609.79 1208.1L609.96 1208.6L610.14 1209.1L610.32 1209.6L610.51 1210.1L610.72 1210.6L610.92 1211.1L611.14 1211.6L611.37 1212.1L611.61 1212.6L611.86 1213.1L612.14 1213.6L612.47 1214.1L612.85 1214.6L613.27 1215.1L613.72 1215.6L614.18 1216.1L614.65 1216.6L615.13 1217.1L615.59 1217.6L616.02 1218.1L616.43 1218.6L616.8 1219.1L617.11 1219.6L617.38 1220.1L617.63 1220.6L617.86 1221.1L618.07 1221.6L618.27 1222.1L618.46 1222.6L618.65 1223.1L618.84 1223.6L619.04 1224.1L619.25 1224.6L619.47 1225.1L619.7 1225.6L619.96 1226.1L620.26 1226.6L620.6 1227.1L620.96 1227.6L621.34 1228.1L621.74 1228.6L622.14 1229.1L622.53 1229.6L622.92 1230.1L623.28 1230.6L623.62 1231.1L623.92 1231.6L624.18 1232.1L624.39 1232.6L624.57 1233.1L624.73 1233.6L624.87 1234.1L625.01 1234.6L625.14 1235.1L625.26 1235.6L625.38 1236.1L625.51 1236.6L625.64 1237.1L625.78 1237.6L625.94 1238.1L626.15 1238.6L626.39 1239.1L626.64 1239.6L626.86 1240.1L627.03 1240.6L627.11 1241.1L627.06 1241.6L626.88 1242.1L626.62 1242.6L626.34 1243.1L626.1 1243.6L625.94 1244.1L625.93 1244.6L626.11 1245.1L626.43 1245.6L626.83 1246.1L627.24 1246.6L627.6 1247.1L627.84 1247.6L627.91 1248.1L627.88 1248.6L627.8 1249.1L627.7 1249.6L627.56 1250.1L627.4 1250.6L627.22 1251.1L627.03 1251.6L626.83 1252.1L626.62 1252.6L626.36 1253.1L626.04 1253.6L625.67 1254.1L625.26 1254.6L624.84 1255.1L624.4 1255.6L623.97 1256.1L623.56 1256.6L623.18 1257.1L622.82 1257.6L622.44 1258.1L622.04 1258.6L621.65 1259.1L621.27 1259.6L620.91 1260.1L620.58 1260.6L620.29 1261.1L620.05 1261.6L619.88 1262.1L619.75 1262.6L619.65 1263.1L619.56 1263.6L619.48 1264.1L619.41 1264.6L619.32 1265.1L619.21 1265.6L619.08 1266.1L618.91 1266.6L618.71 1267.1L618.47 1267.6L618.21 1268.1L617.92 1268.6L617.62 1269.1L617.31 1269.6L616.99 1270.1L616.66 1270.6L616.34 1271.1L616.02 1271.6L615.72 1272.1L615.43 1272.6L615.16 1273.1L614.91 1273.6L614.66 1274.1L614.41 1274.6L614.16 1275.1L613.91 1275.6L613.67 1276.1L613.43 1276.6L613.19 1277.1L612.95 1277.6L612.72 1278.1L612.5 1278.6L612.28 1279.1L612.06 1279.6L611.85 1280.1L611.64 1280.6L611.45 1281.1L611.26 1281.6L611.07 1282.1L610.9 1282.6L610.72 1283.1L610.55 1283.6L610.38 1284.1L610.21 1284.6L610.05 1285.1L609.89 1285.6L609.74 1286.1L609.59 1286.6L609.44 1287.1L609.3 1287.6L609.17 1288.1L609.04 1288.6L608.92 1289.1L608.8 1289.6L608.69 1290.1L608.58 1290.6L608.48 1291.1L608.37 1291.6L608.27 1292.1L608.17 1292.6L608.07 1293.1L607.97 1293.6L607.88 1294.1L607.79 1294.6L607.7 1295.1L607.62 1295.6L607.54 1296.1L607.46 1296.6L607.39 1297.1L607.33 1297.6L607.26 1298.1L607.21 1298.6L607.16 1299.1L607.11 1299.6L607.07 1300.1L607.03 1300.6L606.99 1301.1L606.96 1301.6L606.92 1302.1L606.89 1302.6L606.86 1303.1L606.84 1303.6L606.81 1304.1L606.78 1304.6L606.76 1305.1L606.73 1305.6L606.71 1306.1L606.68 1306.6L606.66 1307.1L606.64 1307.6L606.61 1308.1L606.59 1308.6L606.56 1309.1L606.53 1309.6L606.51 1310L606.46 1310Z"/>
<path class="v" d="M669.64 1175.6L669.69 1175.6L669.7 1176.1L669.71 1176.6L669.71 1177.1L669.72 1177.6L669.73 1178.1L669.74 1178.6L669.74 1179.1L669.75 1179.6L669.76 1180.1L669.76 1180.6L669.77 1181.1L669.77 1181.6L669.78 1182.1L669.78 1182.6L669.79 1183.1L669.79 1183.6L669.8 1184.1L669.8 1184.6L669.81 1185.1L669.81 1185.6L669.82 1186.1L669.83 1186.6L669.83 1187.1L669.84 1187.6L669.84 1188.1L669.85 1188.6L669.86 1189.1L669.86 1189.6L669.87 1190.1L669.88 1190.6L669.88 1191.1L669.89 1191.6L669.9 1192.1L669.91 1192.6L669.92 1193.1L669.93 1193.6L669.94 1194.1L669.95 1194.6L669.96 1195.1L669.98 1195.6L669.99 1196.1L670 1196.6L670.02 1197.1L670.03 1197.6L670.05 1198.1L670.06 1198.6L670.08 1199.1L670.1 1199.6L670.12 1200.1L670.14 1200.6L670.19 1201.1L670.26 1201.6L670.36 1202.1L670.47 1202.6L670.61 1203.1L670.76 1203.6L670.92 1204.1L671.09 1204.6L671.26 1205.1L671.44 1205.6L671.62 1206.1L671.8 1206.6L671.97 1207.1L672.13 1207.6L672.29 1208.1L672.44 1208.6L672.6 1209.1L672.76 1209.6L672.93 1210.1L673.09 1210.6L673.26 1211.1L673.43 1211.6L673.61 1212.1L673.79 1212.6L673.97 1213.1L674.16 1213.6L674.35 1214.1L674.55 1214.6L674.76 1215.1L674.97 1215.6L675.19 1216.1L675.42 1216.6L675.65 1217.1L675.88 1217.6L676.12 1218.1L676.38 1218.6L676.65 1219.1L676.95 1219.6L677.28 1220.1L677.64 1220.6L678.04 1221.1L678.55 1221.6L679.28 1222.1L680.16 1222.6L681.15 1223.1L682.19 1223.6L683.23 1224.1L684.2 1224.6L685.06 1225.1L685.74 1225.6L686.2 1226.1L686.53 1226.6L686.8 1227.1L687.03 1227.6L687.24 1228.1L687.44 1228.6L687.66 1229.1L687.9 1229.6L688.19 1230.1L688.53 1230.6L688.91 1231.1L689.32 1231.6L689.75 1232.1L690.19 1232.6L690.64 1233.1L691.09 1233.6L691.54 1234.1L691.96 1234.6L692.38 1235.1L692.82 1235.6L693.26 1236.1L693.71 1236.6L694.14 1237.1L694.55 1237.6L694.91 1238.1L695.22 1238.6L695.48 1239.1L695.74 1239.6L696 1240.1L696.24 1240.6L696.47 1241.1L696.68 1241.6L696.85 1242.1L696.98 1242.6L697.06 1243.1L697.09 1243.6L696.98 1244.1L696.69 1244.6L696.29 1245.1L695.84 1245.6L695.4 1246.1L695.04 1246.6L694.79 1247.1L694.57 1247.6L694.36 1248.1L694.16 1248.6L693.97 1249.1L693.8 1249.6L693.63 1250.1L693.47 1250.6L693.31 1251.1L693.16 1251.6L693.02 1252.1L692.87 1252.6L692.76 1253.1L692.66 1253.6L692.56 1254.1L692.45 1254.6L692.31 1255.1L692.13 1255.6L691.77 1256.1L691.16 1256.6L690.37 1257.1L689.49 1257.6L688.58 1258.1L687.73 1258.6L687.03 1259.1L686.53 1259.6L686.21 1260.1L685.97 1260.6L685.76 1261.1L685.56 1261.6L685.34 1262.1L685.06 1262.6L684.7 1263.1L684.2 1263.6L683.61 1264.1L682.95 1264.6L682.26 1265.1L681.57 1265.6L680.92 1266.1L680.34 1266.6L679.84 1267.1L679.36 1267.6L678.9 1268.1L678.46 1268.6L678.03 1269.1L677.62 1269.6L677.22 1270.1L676.84 1270.6L676.48 1271.1L676.13 1271.6L675.79 1272.1L675.45 1272.6L675.12 1273.1L674.8 1273.6L674.48 1274.1L674.18 1274.6L673.9 1275.1L673.63 1275.6L673.38 1276.1L673.16 1276.6L672.97 1277.1L672.79 1277.6L672.63 1278.1L672.48 1278.6L672.34 1279.1L672.2 1279.6L672.07 1280.1L671.95 1280.6L671.84 1281.1L671.73 1281.6L671.62 1282.1L671.52 1282.6L671.43 1283.1L671.33 1283.6L671.24 1284.1L671.14 1284.6L671.05 1285.1L670.96 1285.6L670.87 1286.1L670.79 1286.6L670.71 1287.1L670.63 1287.6L670.55 1288.1L670.48 1288.6L670.41 1289.1L670.34 1289.6L670.28 1290.1L670.23 1290.6L670.18 1291.1L670.13 1291.6L670.09 1292.1L670.05 1292.6L670.01 1293.1L669.98 1293.6L669.95 1294.1L669.92 1294.6L669.89 1295.1L669.87 1295.6L669.84 1296.1L669.81 1296.6L669.79 1297.1L669.76 1297.6L669.73 1298.1L669.7 1298.6L669.69 1298.8L669.64 1298.8Z"/>
<path class="v" d="M732.82 1206L732.87 1206L732.9 1206.5L732.93 1207L732.95 1207.5L732.98 1208L733 1208.5L733.03 1209L733.05 1209.5L733.08 1210L733.1 1210.5L733.13 1211L733.16 1211.5L733.2 1212L733.24 1212.5L733.28 1213L733.33 1213.5L733.39 1214L733.47 1214.5L733.6 1215L733.76 1215.5L733.95 1216L734.17 1216.5L734.42 1217L734.68 1217.5L734.95 1218L735.22 1218.5L735.5 1219L735.8 1219.5L736.13 1220L736.49 1220.5L736.87 1221L737.28 1221.5L737.73 1222L738.21 1222.5L738.73 1223L739.28 1223.5L739.92 1224L740.76 1224.5L741.74 1225L742.78 1225.5L743.84 1226L744.85 1226.5L745.75 1227L746.47 1227.5L746.99 1228L747.39 1228.5L747.73 1229L748.08 1229.5L748.53 1230L749.13 1230.5L750.09 1231L751.4 1231.5L752.95 1232L754.63 1232.5L756.33 1233L758.17 1233.5L760.37 1234L761.48 1234.5L761.82 1235L762.03 1235.5L762.2 1236L762.41 1236.5L762.75 1237L763.3 1237.5L764.01 1238L764.77 1238.5L765.51 1239L766.15 1239.5L766.59 1240L766.86 1240.5L767.05 1241L767.21 1241.5L767.39 1242L767.61 1242.5L767.97 1243L768.71 1243.5L769.51 1244L769.94 1244.5L769.65 1245L768.84 1245.5L767.92 1246L767.3 1246.5L766.94 1247L766.66 1247.5L766.41 1248L766.17 1248.5L765.87 1249L765.48 1249.5L764.88 1250L763.97 1250.5L762.91 1251L761.86 1251.5L760.99 1252L760.3 1252.5L759.69 1253L759.13 1253.5L758.6 1254L758.08 1254.5L757.54 1255L756.97 1255.5L756.35 1256L755.64 1256.5L754.84 1257L753.95 1257.5L753 1258L752.01 1258.5L750.99 1259L749.98 1259.5L748.99 1260L747.96 1260.5L746.87 1261L745.77 1261.5L744.74 1262L743.84 1262.5L743.13 1263L742.53 1263.5L742.01 1264L741.54 1264.5L741.09 1265L740.66 1265.5L740.2 1266L739.71 1266.5L739.16 1267L738.49 1267.5L737.76 1268L737.02 1268.5L736.34 1269L735.77 1269.5L735.39 1270L735.13 1270.5L734.89 1271L734.68 1271.5L734.49 1272L734.32 1272.5L734.18 1273L734.05 1273.5L733.94 1274L733.84 1274.5L733.76 1275L733.69 1275.5L733.62 1276L733.55 1276.5L733.5 1277L733.44 1277.5L733.39 1278L733.35 1278.5L733.3 1279L733.26 1279.5L733.22 1280L733.18 1280.5L733.15 1281L733.11 1281.5L733.07 1282L733.03 1282.5L732.99 1283L732.95 1283.5L732.91 1284L732.87 1284.4L732.82 1284.4Z"/>
<path class="v" d="M796 1218L796.05 1218L796.08 1218.5L796.11 1219L796.13 1219.5L796.16 1220L796.18 1220.5L796.21 1221L796.25 1221.5L796.3 1222L796.36 1222.5L796.53 1223L797.36 1223.5L798.31 1224L798.65 1224.5L798.59 1225L798.47 1225.5L798.35 1226L798.27 1226.5L798.28 1227L798.64 1227.5L799.3 1228L800.14 1228.5L801.08 1229L802.06 1229.5L803.31 1230L804.79 1230.5L806.47 1231L808.28 1231.5L810.39 1232L813.03 1232.5L815.86 1233L818.52 1233.5L820.65 1234L822.17 1234.5L823.4 1235L824.54 1235.5L825.81 1236L827.41 1236.5L829.47 1237L831.89 1237.5L834.51 1238L837.21 1238.5L840.67 1239L844.44 1239.5L847.46 1240L848.75 1240.5L849.14 1241L849.38 1241.5L849.61 1242L849.93 1242.5L850.45 1243L851.11 1243.5L851.77 1244L852.31 1244.5L852.62 1245L852.58 1245.5L852.17 1246L851.49 1246.5L850.63 1247L849.47 1247.5L847.4 1248L844.71 1248.5L841.8 1249L838.64 1249.5L834.42 1250L830.25 1250.5L827.48 1251L826.84 1251.5L826.64 1252L826.45 1252.5L825.97 1253L824.46 1253.5L822.2 1254L819.68 1254.5L817.39 1255L815.68 1255.5L814.18 1256L812.78 1256.5L811.42 1257L810.07 1257.5L808.65 1258L807.03 1258.5L805.25 1259L803.54 1259.5L802.16 1260L801.33 1260.5L800.81 1261L800.4 1261.5L800.06 1262L799.75 1262.5L799.46 1263L799.12 1263.5L798.73 1264L798.27 1264.5L797.81 1265L797.37 1265.5L797 1266L796.74 1266.5L796.61 1267L796.53 1267.5L796.46 1268L796.4 1268.5L796.35 1269L796.31 1269.5L796.27 1270L796.23 1270.5L796.2 1271L796.16 1271.5L796.12 1272L796.08 1272.5L796.05 1272.8L796 1272.8Z"/>
<path class="w" d="M152.9 1001V1183.55M152.9 1306.05V1490"/>
<rect class="b" x="146.55" y="1183.55" width="12.7" height="122.5"/>
<path class="m" d="M146.55 1245.4H159.25"/>
<path class="w" d="M216.08 1052.6V1194.55M216.08 1290.85V1435"/>
<rect class="b" x="209.73" y="1194.55" width="12.7" height="96.3"/>
<path class="m" d="M209.73 1242H222.43"/>
<path class="w" d="M279.26 1092.2V1206.75M279.26 1282.85V1399"/>
<rect class="b" x="272.91" y="1206.75" width="12.7" height="76.1"/>
<path class="m" d="M272.91 1243.4H285.61"/>
<path class="w" d="M342.44 1119.4V1212.95M342.44 1275.45V1371"/>
<rect class="b" x="336.09" y="1212.95" width="12.7" height="62.5"/>
<path class="m" d="M336.09 1243.8H348.79"/>
<path class="w" d="M405.62 1139.6V1217.75M405.62 1269.45V1348"/>
<rect class="b" x="399.27" y="1217.75" width="12.7" height="51.7"/>
<path class="m" d="M399.27 1243.2H411.97"/>
<path class="w" d="M468.8 1163.9V1223.85M468.8 1265.25V1327.6"/>
<rect class="b" x="462.45" y="1223.85" width="12.7" height="41.4"/>
<path class="m" d="M462.45 1244.7H475.15"/>
<path class="w" d="M531.98 1177.2V1228.05M531.98 1261.25V1312.7"/>
<rect class="b" x="525.63" y="1228.05" width="12.7" height="33.2"/>
<path class="m" d="M525.63 1244.7H538.33"/>
<path class="w" d="M595.16 1191.1V1230.75M595.16 1258.35V1298.8"/>
<rect class="b" x="588.81" y="1230.75" width="12.7" height="27.6"/>
<path class="m" d="M588.81 1244.7H601.51"/>
<path class="w" d="M658.34 1203.1V1233.75M658.34 1255.25V1287.8"/>
<rect class="b" x="651.99" y="1233.75" width="12.7" height="21.5"/>
<path class="m" d="M651.99 1244.5H664.69"/>
<path class="w" d="M721.52 1212V1236.45M721.52 1252.45V1276.6"/>
<rect class="b" x="715.17" y="1236.45" width="12.7" height="16"/>
<path class="m" d="M715.17 1244.6H727.87"/>
<path class="w" d="M784.7 1224.9V1239.65M784.7 1249.45V1264.2"/>
<rect class="b" x="778.35" y="1239.65" width="12.7" height="9.8"/>
<path class="m" d="M778.35 1244.5H791.05"/>
</g>
<path class="t" d="M106.2 1118.7H115M106.2 1318.7H115M106.2 1518.7H115M152.9 1633.7V1642.5M216.08 1633.7V1642.5M279.26 1633.7V1642.5M342.44 1633.7V1642.5M405.62 1633.7V1642.5M468.8 1633.7V1642.5M531.98 1633.7V1642.5M595.16 1633.7V1642.5M658.34 1633.7V1642.5M721.52 1633.7V1642.5M784.7 1633.7V1642.5"/>
<text class="tk" text-anchor="end" transform="translate(100.1 1128.85) scale(1 1.06)">0.5</text>
<text class="tk" text-anchor="end" transform="translate(100.1 1328.85) scale(1 1.06)">0.0</text>
<text class="tk" text-anchor="end" transform="translate(100.1 1528.85) scale(1 1.06)"><tspan dy="2.5">−</tspan><tspan dy="-2.5">0.5</tspan></text>
<text class="tk" text-anchor="end" transform="translate(173.35 1649) rotate(-90) scale(1 1.06)">26</text>
<text class="tk" text-anchor="end" transform="translate(236.53 1649) rotate(-90) scale(1 1.06)">38</text>
<text class="tk" text-anchor="end" transform="translate(299.71 1649) rotate(-90) scale(1 1.06)">55</text>
<text class="tk" text-anchor="end" transform="translate(362.89 1649) rotate(-90) scale(1 1.06)">78</text>
<text class="tk" text-anchor="end" transform="translate(426.07 1649) rotate(-90) scale(1 1.06)">113</text>
<text class="tk" text-anchor="end" transform="translate(489.25 1649) rotate(-90) scale(1 1.06)">162</text>
<text class="tk" text-anchor="end" transform="translate(552.43 1649) rotate(-90) scale(1 1.06)">234</text>
<text class="tk" text-anchor="end" transform="translate(615.61 1649) rotate(-90) scale(1 1.06)">336</text>
<text class="tk" text-anchor="end" transform="translate(678.79 1649) rotate(-90) scale(1 1.06)">483</text>
<text class="tk" text-anchor="end" transform="translate(741.97 1649) rotate(-90) scale(1 1.06)">695</text>
<text class="tk" text-anchor="end" transform="translate(805.15 1649) rotate(-90) scale(1 1.06)">1000</text>
<text class="ax" text-anchor="middle" x="487.75" y="1743.9">sample size</text>
<text class="ax" text-anchor="middle" transform="translate(29.5 1291.9) rotate(-90) scale(1 1.055)">effect size</text>
</g>
<g id="panel4">
<text class="tt" transform="translate(1004.3 923.7) scale(1 1.015)">PCC</text>
<clipPath id="c3"><rect x="1004.3" y="950.1" width="745.7" height="683.6"/></clipPath>
<rect x="1004.3" y="950.1" width="745.7" height="683.6" fill="#e6e8e7"/>
<g clip-path="url(#c3)">
<path class="gm" d="M1004.3 1024.2H1750M1004.3 1218.4H1750M1004.3 1412.6H1750M1004.3 1606.8H1750"/>
<path class="gM" d="M1004.3 1121.3H1750M1004.3 1315.5H1750M1004.3 1509.7H1750M1042.7 950.1V1633.7M1105.85 950.1V1633.7M1169 950.1V1633.7M1232.15 950.1V1633.7M1295.3 950.1V1633.7M1358.45 950.1V1633.7M1421.6 950.1V1633.7M1484.75 950.1V1633.7M1547.9 950.1V1633.7M1611.05 950.1V1633.7M1674.2 950.1V1633.7"/>
<path class="v" d="M1054 980.6L1054.02 980.6L1054.02 981.6L1054.02 982.6L1054.03 983.6L1054.03 984.6L1054.03 985.6L1054.03 986.6L1054.03 987.6L1054.03 988.6L1054.03 989.6L1054.03 990.6L1054.04 991.6L1054.04 992.6L1054.04 993.6L1054.04 994.6L1054.04 995.6L1054.04 996.6L1054.05 997.6L1054.05 998.6L1054.05 999.6L1054.05 1000.6L1054.06 1001.6L1054.06 1002.6L1054.06 1003.6L1054.06 1004.6L1054.06 1005.6L1054.07 1006.6L1054.07 1007.6L1054.07 1008.6L1054.08 1009.6L1054.08 1010.6L1054.08 1011.6L1054.09 1012.6L1054.09 1013.6L1054.09 1014.6L1054.1 1015.6L1054.1 1016.6L1054.1 1017.6L1054.11 1018.6L1054.11 1019.6L1054.12 1020.6L1054.12 1021.6L1054.13 1022.6L1054.13 1023.6L1054.14 1024.6L1054.14 1025.6L1054.15 1026.6L1054.15 1027.6L1054.16 1028.6L1054.16 1029.6L1054.17 1030.6L1054.17 1031.6L1054.18 1032.6L1054.19 1033.6L1054.19 1034.6L1054.2 1035.6L1054.21 1036.6L1054.21 1037.6L1054.22 1038.6L1054.23 1039.6L1054.24 1040.6L1054.25 1041.6L1054.25 1042.6L1054.26 1043.6L1054.27 1044.6L1054.28 1045.6L1054.29 1046.6L1054.3 1047.6L1054.31 1048.6L1054.32 1049.6L1054.33 1050.6L1054.34 1051.6L1054.35 1052.6L1054.36 1053.6L1054.38 1054.6L1054.39 1055.6L1054.4 1056.6L1054.41 1057.6L1054.43 1058.6L1054.44 1059.6L1054.45 1060.6L1054.47 1061.6L1054.48 1062.6L1054.49 1063.6L1054.51 1064.6L1054.52 1065.6L1054.54 1066.6L1054.56 1067.6L1054.57 1068.6L1054.59 1069.6L1054.61 1070.6L1054.62 1071.6L1054.64 1072.6L1054.66 1073.6L1054.68 1074.6L1054.7 1075.6L1054.72 1076.6L1054.74 1077.6L1054.76 1078.6L1054.78 1079.6L1054.8 1080.6L1054.82 1081.6L1054.84 1082.6L1054.86 1083.6L1054.88 1084.6L1054.91 1085.6L1054.93 1086.6L1054.95 1087.6L1054.98 1088.6L1055 1089.6L1055.03 1090.6L1055.05 1091.6L1055.08 1092.6L1055.11 1093.6L1055.13 1094.6L1055.16 1095.6L1055.19 1096.6L1055.22 1097.6L1055.25 1098.6L1055.27 1099.6L1055.3 1100.6L1055.33 1101.6L1055.36 1102.6L1055.4 1103.6L1055.43 1104.6L1055.46 1105.6L1055.49 1106.6L1055.52 1107.6L1055.56 1108.6L1055.59 1109.6L1055.62 1110.6L1055.66 1111.6L1055.69 1112.6L1055.73 1113.6L1055.76 1114.6L1055.8 1115.6L1055.83 1116.6L1055.87 1117.6L1055.91 1118.6L1055.94 1119.6L1055.98 1120.6L1056.02 1121.6L1056.06 1122.6L1056.1 1123.6L1056.13 1124.6L1056.17 1125.6L1056.21 1126.6L1056.25 1127.6L1056.29 1128.6L1056.33 1129.6L1056.37 1130.6L1056.42 1131.6L1056.46 1132.6L1056.5 1133.6L1056.54 1134.6L1056.58 1135.6L1056.62 1136.6L1056.67 1137.6L1056.71 1138.6L1056.75 1139.6L1056.79 1140.6L1056.84 1141.6L1056.88 1142.6L1056.92 1143.6L1056.97 1144.6L1057.01 1145.6L1057.05 1146.6L1057.1 1147.6L1057.14 1148.6L1057.18 1149.6L1057.23 1150.6L1057.27 1151.6L1057.31 1152.6L1057.36 1153.6L1057.4 1154.6L1057.44 1155.6L1057.49 1156.6L1057.53 1157.6L1057.57 1158.6L1057.61 1159.6L1057.66 1160.6L1057.7 1161.6L1057.74 1162.6L1057.78 1163.6L1057.82 1164.6L1057.87 1165.6L1057.91 1166.6L1057.95 1167.6L1057.99 1168.6L1058.03 1169.6L1058.07 1170.6L1058.11 1171.6L1058.15 1172.6L1058.19 1173.6L1058.22 1174.6L1058.26 1175.6L1058.3 1176.6L1058.34 1177.6L1058.37 1178.6L1058.41 1179.6L1058.44 1180.6L1058.48 1181.6L1058.51 1182.6L1058.55 1183.6L1058.58 1184.6L1058.61 1185.6L1058.64 1186.6L1058.67 1187.6L1058.7 1188.6L1058.73 1189.6L1058.76 1190.6L1058.79 1191.6L1058.82 1192.6L1058.85 1193.6L1058.87 1194.6L1058.9 1195.6L1058.92 1196.6L1058.94 1197.6L1058.97 1198.6L1058.99 1199.6L1059.01 1200.6L1059.03 1201.6L1059.05 1202.6L1059.07 1203.6L1059.09 1204.6L1059.1 1205.6L1059.12 1206.6L1059.14 1207.6L1059.15 1208.6L1059.16 1209.6L1059.18 1210.6L1059.19 1211.6L1059.2 1212.6L1059.21 1213.6L1059.22 1214.6L1059.22 1215.6L1059.23 1216.6L1059.24 1217.6L1059.24 1218.6L1059.24 1219.6L1059.25 1220.6L1059.25 1221.6L1059.25 1222.6L1059.25 1223.6L1059.25 1224.6L1059.25 1225.6L1059.25 1226.6L1059.24 1227.6L1059.24 1228.6L1059.24 1229.6L1059.23 1230.6L1059.23 1231.6L1059.22 1232.6L1059.22 1233.6L1059.21 1234.6L1059.2 1235.6L1059.19 1236.6L1059.19 1237.6L1059.18 1238.6L1059.17 1239.6L1059.16 1240.6L1059.15 1241.6L1059.14 1242.6L1059.12 1243.6L1059.11 1244.6L1059.1 1245.6L1059.08 1246.6L1059.07 1247.6L1059.06 1248.6L1059.04 1249.6L1059.02 1250.6L1059.01 1251.6L1058.99 1252.6L1058.97 1253.6L1058.96 1254.6L1058.94 1255.6L1058.92 1256.6L1058.9 1257.6L1058.88 1258.6L1058.86 1259.6L1058.84 1260.6L1058.82 1261.6L1058.8 1262.6L1058.78 1263.6L1058.75 1264.6L1058.73 1265.6L1058.71 1266.6L1058.68 1267.6L1058.66 1268.6L1058.63 1269.6L1058.61 1270.6L1058.58 1271.6L1058.56 1272.6L1058.53 1273.6L1058.5 1274.6L1058.48 1275.6L1058.45 1276.6L1058.42 1277.6L1058.4 1278.6L1058.37 1279.6L1058.34 1280.6L1058.31 1281.6L1058.28 1282.6L1058.25 1283.6L1058.22 1284.6L1058.19 1285.6L1058.16 1286.6L1058.13 1287.6L1058.1 1288.6L1058.07 1289.6L1058.04 1290.6L1058.01 1291.6L1057.97 1292.6L1057.94 1293.6L1057.91 1294.6L1057.88 1295.6L1057.85 1296.6L1057.81 1297.6L1057.78 1298.6L1057.75 1299.6L1057.71 1300.6L1057.68 1301.6L1057.65 1302.6L1057.61 1303.6L1057.58 1304.6L1057.55 1305.6L1057.51 1306.6L1057.48 1307.6L1057.45 1308.6L1057.41 1309.6L1057.38 1310.6L1057.34 1311.6L1057.31 1312.6L1057.28 1313.6L1057.24 1314.6L1057.21 1315.6L1057.17 1316.6L1057.14 1317.6L1057.11 1318.6L1057.07 1319.6L1057.04 1320.6L1057 1321.6L1056.97 1322.6L1056.94 1323.6L1056.9 1324.6L1056.87 1325.6L1056.83 1326.6L1056.8 1327.6L1056.77 1328.6L1056.73 1329.6L1056.7 1330.6L1056.67 1331.6L1056.63 1332.6L1056.6 1333.6L1056.57 1334.6L1056.53 1335.6L1056.5 1336.6L1056.47 1337.6L1056.44 1338.6L1056.4 1339.6L1056.37 1340.6L1056.34 1341.6L1056.31 1342.6L1056.28 1343.6L1056.25 1344.6L1056.21 1345.6L1056.18 1346.6L1056.15 1347.6L1056.12 1348.6L1056.09 1349.6L1056.06 1350.6L1056.03 1351.6L1056 1352.6L1055.97 1353.6L1055.94 1354.6L1055.91 1355.6L1055.88 1356.6L1055.85 1357.6L1055.83 1358.6L1055.8 1359.6L1055.77 1360.6L1055.74 1361.6L1055.71 1362.6L1055.69 1363.6L1055.66 1364.6L1055.63 1365.6L1055.61 1366.6L1055.58 1367.6L1055.55 1368.6L1055.53 1369.6L1055.5 1370.6L1055.48 1371.6L1055.45 1372.6L1055.43 1373.6L1055.4 1374.6L1055.38 1375.6L1055.35 1376.6L1055.33 1377.6L1055.31 1378.6L1055.28 1379.6L1055.26 1380.6L1055.24 1381.6L1055.22 1382.6L1055.19 1383.6L1055.17 1384.6L1055.15 1385.6L1055.13 1386.6L1055.11 1387.6L1055.09 1388.6L1055.07 1389.6L1055.05 1390.6L1055.03 1391.6L1055.01 1392.6L1054.99 1393.6L1054.97 1394.6L1054.95 1395.6L1054.93 1396.6L1054.91 1397.6L1054.89 1398.6L1054.88 1399.6L1054.86 1400.6L1054.84 1401.6L1054.82 1402.6L1054.81 1403.6L1054.79 1404.6L1054.77 1405.6L1054.76 1406.6L1054.74 1407.6L1054.73 1408.6L1054.71 1409.6L1054.7 1410.6L1054.68 1411.6L1054.67 1412.6L1054.65 1413.6L1054.64 1414.6L1054.62 1415.6L1054.61 1416.6L1054.6 1417.6L1054.58 1418.6L1054.57 1419.6L1054.56 1420.6L1054.54 1421.6L1054.53 1422.6L1054.52 1423.6L1054.51 1424.6L1054.5 1425.6L1054.49 1426.6L1054.47 1427.6L1054.46 1428.6L1054.45 1429.6L1054.44 1430.6L1054.43 1431.6L1054.42 1432.6L1054.41 1433.6L1054.4 1434.6L1054.39 1435.6L1054.38 1436.6L1054.37 1437.6L1054.36 1438.6L1054.35 1439.6L1054.35 1440.6L1054.34 1441.6L1054.33 1442.6L1054.32 1443.6L1054.31 1444.6L1054.3 1445.6L1054.3 1446.6L1054.29 1447.6L1054.28 1448.6L1054.28 1449.6L1054.27 1450.6L1054.26 1451.6L1054.25 1452.6L1054.25 1453.6L1054.24 1454.6L1054.23 1455.6L1054.23 1456.6L1054.22 1457.6L1054.22 1458.6L1054.21 1459.6L1054.21 1460.6L1054.2 1461.6L1054.19 1462.6L1054.19 1463.6L1054.18 1464.6L1054.18 1465.6L1054.17 1466.6L1054.17 1467.6L1054.16 1468.6L1054.16 1469.6L1054.16 1470.6L1054.15 1471.6L1054.15 1472.6L1054.14 1473.6L1054.14 1474.6L1054.13 1475.6L1054.13 1476.6L1054.13 1477.6L1054.12 1478.6L1054.12 1479.6L1054.12 1480.6L1054.11 1481.6L1054.11 1482.6L1054.11 1483.6L1054.1 1484.6L1054.1 1485.6L1054.1 1486.6L1054.09 1487.6L1054.09 1488.6L1054.09 1489.6L1054.09 1490.6L1054.08 1491.6L1054.08 1492.6L1054.08 1493.6L1054.08 1494.6L1054.07 1495.6L1054.07 1496.6L1054.07 1497.6L1054.07 1498.6L1054.06 1499.6L1054.06 1500.6L1054.06 1501.6L1054.06 1502.6L1054.06 1503.6L1054.06 1504.6L1054.05 1505.6L1054.05 1506.6L1054.05 1507.6L1054.05 1508.6L1054.05 1509.6L1054.05 1510.6L1054.04 1511.6L1054.04 1512.6L1054.04 1513.6L1054.04 1514.6L1054.04 1515.6L1054.04 1516.6L1054.04 1517.6L1054.03 1518.6L1054.03 1519.6L1054.03 1520.6L1054.03 1521.6L1054.03 1522.6L1054.03 1523.6L1054.03 1524.6L1054.03 1525.6L1054.03 1526.6L1054.03 1527.6L1054.02 1528.6L1054.02 1529.6L1054.02 1530.6L1054.02 1531.6L1054.02 1532.6L1054.02 1533.6L1054.02 1534.6L1054.02 1535.6L1054.02 1536.6L1054.02 1537.6L1054.02 1538.6L1054.02 1539.6L1054.02 1540.6L1054.02 1541.6L1054.01 1542.6L1054.01 1543.6L1054.01 1544.6L1054.01 1545.6L1054.01 1546.6L1054.01 1547.6L1054.01 1548.6L1054.01 1549.6L1054.01 1550.6L1054.01 1551.6L1054.01 1552.6L1054.01 1553.6L1054.01 1554.6L1054.01 1555.6L1054.01 1556.6L1054.01 1557.6L1054.01 1558.6L1054.01 1559.6L1054.01 1560.6L1054.01 1561.6L1054.01 1562.6L1054.01 1563.6L1054.01 1564.6L1054.01 1565.6L1054.01 1566.6L1054.01 1567.6L1054.01 1568.6L1054.01 1569.6L1054.01 1570.6L1054 1571.6L1054 1572.6L1054 1573.6L1054 1574.6L1054 1575.6L1054 1576.6L1054 1577.6L1054 1578.6L1054 1579.6L1054 1580.6L1054 1581.6L1054 1582.6L1054 1583.6L1054 1584.6L1054 1585.6L1054 1586.6L1054 1587.6L1054 1588.6L1054 1589.6L1054 1590.6L1054 1591.6L1054 1592.6L1054 1593.6L1054 1594.6L1054 1595.6L1054 1596.6L1054 1597.6L1054 1598.6L1054 1599.6L1054 1600.6L1054 1601.6L1054 1602.6L1054 1603L1054 1603Z"/>
<path class="v" d="M1117.15 1037.4L1117.18 1037.4L1117.18 1038.4L1117.18 1039.4L1117.18 1040.4L1117.18 1041.4L1117.19 1042.4L1117.19 1043.4L1117.19 1044.4L1117.19 1045.4L1117.19 1046.4L1117.2 1047.4L1117.2 1048.4L1117.2 1049.4L1117.2 1050.4L1117.21 1051.4L1117.21 1052.4L1117.21 1053.4L1117.22 1054.4L1117.22 1055.4L1117.22 1056.4L1117.23 1057.4L1117.23 1058.4L1117.24 1059.4L1117.24 1060.4L1117.25 1061.4L1117.25 1062.4L1117.26 1063.4L1117.26 1064.4L1117.27 1065.4L1117.27 1066.4L1117.28 1067.4L1117.29 1068.4L1117.29 1069.4L1117.3 1070.4L1117.31 1071.4L1117.31 1072.4L1117.32 1073.4L1117.33 1074.4L1117.34 1075.4L1117.35 1076.4L1117.36 1077.4L1117.37 1078.4L1117.38 1079.4L1117.39 1080.4L1117.4 1081.4L1117.41 1082.4L1117.42 1083.4L1117.43 1084.4L1117.45 1085.4L1117.46 1086.4L1117.47 1087.4L1117.49 1088.4L1117.5 1089.4L1117.51 1090.4L1117.53 1091.4L1117.55 1092.4L1117.56 1093.4L1117.58 1094.4L1117.6 1095.4L1117.62 1096.4L1117.63 1097.4L1117.65 1098.4L1117.67 1099.4L1117.69 1100.4L1117.72 1101.4L1117.74 1102.4L1117.76 1103.4L1117.78 1104.4L1117.81 1105.4L1117.83 1106.4L1117.86 1107.4L1117.88 1108.4L1117.91 1109.4L1117.94 1110.4L1117.97 1111.4L1118 1112.4L1118.03 1113.4L1118.06 1114.4L1118.09 1115.4L1118.12 1116.4L1118.15 1117.4L1118.19 1118.4L1118.22 1119.4L1118.26 1120.4L1118.3 1121.4L1118.33 1122.4L1118.37 1123.4L1118.41 1124.4L1118.45 1125.4L1118.49 1126.4L1118.53 1127.4L1118.57 1128.4L1118.62 1129.4L1118.66 1130.4L1118.71 1131.4L1118.75 1132.4L1118.8 1133.4L1118.85 1134.4L1118.9 1135.4L1118.95 1136.4L1119 1137.4L1119.05 1138.4L1119.1 1139.4L1119.15 1140.4L1119.21 1141.4L1119.26 1142.4L1119.31 1143.4L1119.37 1144.4L1119.43 1145.4L1119.48 1146.4L1119.54 1147.4L1119.6 1148.4L1119.66 1149.4L1119.72 1150.4L1119.78 1151.4L1119.84 1152.4L1119.9 1153.4L1119.97 1154.4L1120.03 1155.4L1120.09 1156.4L1120.16 1157.4L1120.22 1158.4L1120.29 1159.4L1120.35 1160.4L1120.42 1161.4L1120.49 1162.4L1120.55 1163.4L1120.62 1164.4L1120.69 1165.4L1120.75 1166.4L1120.82 1167.4L1120.89 1168.4L1120.96 1169.4L1121.02 1170.4L1121.09 1171.4L1121.16 1172.4L1121.23 1173.4L1121.3 1174.4L1121.36 1175.4L1121.43 1176.4L1121.5 1177.4L1121.56 1178.4L1121.63 1179.4L1121.7 1180.4L1121.76 1181.4L1121.83 1182.4L1121.89 1183.4L1121.96 1184.4L1122.02 1185.4L1122.08 1186.4L1122.15 1187.4L1122.21 1188.4L1122.27 1189.4L1122.33 1190.4L1122.39 1191.4L1122.45 1192.4L1122.5 1193.4L1122.56 1194.4L1122.61 1195.4L1122.67 1196.4L1122.72 1197.4L1122.77 1198.4L1122.82 1199.4L1122.87 1200.4L1122.92 1201.4L1122.97 1202.4L1123.01 1203.4L1123.06 1204.4L1123.1 1205.4L1123.14 1206.4L1123.18 1207.4L1123.22 1208.4L1123.25 1209.4L1123.29 1210.4L1123.32 1211.4L1123.35 1212.4L1123.38 1213.4L1123.41 1214.4L1123.43 1215.4L1123.46 1216.4L1123.48 1217.4L1123.5 1218.4L1123.52 1219.4L1123.53 1220.4L1123.55 1221.4L1123.56 1222.4L1123.57 1223.4L1123.58 1224.4L1123.59 1225.4L1123.6 1226.4L1123.6 1227.4L1123.6 1228.4L1123.6 1229.4L1123.6 1230.4L1123.6 1231.4L1123.59 1232.4L1123.59 1233.4L1123.58 1234.4L1123.57 1235.4L1123.56 1236.4L1123.55 1237.4L1123.54 1238.4L1123.53 1239.4L1123.52 1240.4L1123.5 1241.4L1123.49 1242.4L1123.47 1243.4L1123.45 1244.4L1123.43 1245.4L1123.41 1246.4L1123.39 1247.4L1123.37 1248.4L1123.35 1249.4L1123.32 1250.4L1123.3 1251.4L1123.27 1252.4L1123.24 1253.4L1123.21 1254.4L1123.18 1255.4L1123.15 1256.4L1123.12 1257.4L1123.09 1258.4L1123.06 1259.4L1123.02 1260.4L1122.99 1261.4L1122.95 1262.4L1122.91 1263.4L1122.88 1264.4L1122.84 1265.4L1122.8 1266.4L1122.76 1267.4L1122.72 1268.4L1122.68 1269.4L1122.64 1270.4L1122.59 1271.4L1122.55 1272.4L1122.5 1273.4L1122.46 1274.4L1122.41 1275.4L1122.37 1276.4L1122.32 1277.4L1122.27 1278.4L1122.23 1279.4L1122.18 1280.4L1122.13 1281.4L1122.08 1282.4L1122.03 1283.4L1121.98 1284.4L1121.93 1285.4L1121.88 1286.4L1121.83 1287.4L1121.78 1288.4L1121.73 1289.4L1121.68 1290.4L1121.62 1291.4L1121.57 1292.4L1121.52 1293.4L1121.47 1294.4L1121.41 1295.4L1121.36 1296.4L1121.31 1297.4L1121.25 1298.4L1121.2 1299.4L1121.15 1300.4L1121.09 1301.4L1121.04 1302.4L1120.99 1303.4L1120.93 1304.4L1120.88 1305.4L1120.83 1306.4L1120.78 1307.4L1120.72 1308.4L1120.67 1309.4L1120.62 1310.4L1120.56 1311.4L1120.51 1312.4L1120.46 1313.4L1120.41 1314.4L1120.36 1315.4L1120.3 1316.4L1120.25 1317.4L1120.2 1318.4L1120.15 1319.4L1120.1 1320.4L1120.05 1321.4L1120 1322.4L1119.95 1323.4L1119.9 1324.4L1119.85 1325.4L1119.81 1326.4L1119.76 1327.4L1119.71 1328.4L1119.66 1329.4L1119.62 1330.4L1119.57 1331.4L1119.52 1332.4L1119.48 1333.4L1119.43 1334.4L1119.39 1335.4L1119.34 1336.4L1119.3 1337.4L1119.26 1338.4L1119.21 1339.4L1119.17 1340.4L1119.13 1341.4L1119.09 1342.4L1119.05 1343.4L1119.01 1344.4L1118.97 1345.4L1118.93 1346.4L1118.89 1347.4L1118.85 1348.4L1118.82 1349.4L1118.78 1350.4L1118.74 1351.4L1118.71 1352.4L1118.67 1353.4L1118.64 1354.4L1118.6 1355.4L1118.57 1356.4L1118.53 1357.4L1118.5 1358.4L1118.47 1359.4L1118.44 1360.4L1118.41 1361.4L1118.37 1362.4L1118.34 1363.4L1118.32 1364.4L1118.29 1365.4L1118.26 1366.4L1118.23 1367.4L1118.2 1368.4L1118.17 1369.4L1118.15 1370.4L1118.12 1371.4L1118.1 1372.4L1118.07 1373.4L1118.05 1374.4L1118.02 1375.4L1118 1376.4L1117.98 1377.4L1117.95 1378.4L1117.93 1379.4L1117.91 1380.4L1117.89 1381.4L1117.87 1382.4L1117.85 1383.4L1117.83 1384.4L1117.81 1385.4L1117.79 1386.4L1117.77 1387.4L1117.75 1388.4L1117.74 1389.4L1117.72 1390.4L1117.7 1391.4L1117.68 1392.4L1117.67 1393.4L1117.65 1394.4L1117.64 1395.4L1117.62 1396.4L1117.61 1397.4L1117.59 1398.4L1117.58 1399.4L1117.57 1400.4L1117.55 1401.4L1117.54 1402.4L1117.53 1403.4L1117.52 1404.4L1117.5 1405.4L1117.49 1406.4L1117.48 1407.4L1117.47 1408.4L1117.46 1409.4L1117.45 1410.4L1117.44 1411.4L1117.43 1412.4L1117.42 1413.4L1117.41 1414.4L1117.4 1415.4L1117.39 1416.4L1117.39 1417.4L1117.38 1418.4L1117.37 1419.4L1117.36 1420.4L1117.35 1421.4L1117.35 1422.4L1117.34 1423.4L1117.33 1424.4L1117.33 1425.4L1117.32 1426.4L1117.31 1427.4L1117.31 1428.4L1117.3 1429.4L1117.3 1430.4L1117.29 1431.4L1117.29 1432.4L1117.28 1433.4L1117.28 1434.4L1117.27 1435.4L1117.27 1436.4L1117.26 1437.4L1117.26 1438.4L1117.25 1439.4L1117.25 1440.4L1117.25 1441.4L1117.24 1442.4L1117.24 1443.4L1117.24 1444.4L1117.23 1445.4L1117.23 1446.4L1117.23 1447.4L1117.22 1448.4L1117.22 1449.4L1117.22 1450.4L1117.21 1451.4L1117.21 1452.4L1117.21 1453.4L1117.21 1454.4L1117.2 1455.4L1117.2 1456.4L1117.2 1457.4L1117.2 1458.4L1117.2 1459.4L1117.19 1460.4L1117.19 1461.4L1117.19 1462.4L1117.19 1463.4L1117.19 1464.4L1117.19 1465.4L1117.18 1466.4L1117.18 1467.4L1117.18 1468.4L1117.18 1469.4L1117.18 1470.4L1117.18 1471.4L1117.18 1472.4L1117.17 1473.4L1117.17 1474.4L1117.17 1475.4L1117.17 1476.4L1117.17 1477.4L1117.17 1478.4L1117.17 1479.4L1117.17 1480.4L1117.17 1481.4L1117.17 1482.4L1117.17 1483.4L1117.16 1484.4L1117.16 1485.4L1117.16 1486.4L1117.16 1487.4L1117.16 1488.4L1117.16 1489.4L1117.16 1490.4L1117.16 1491.4L1117.16 1492.4L1117.16 1493.4L1117.16 1494.4L1117.16 1495.4L1117.16 1496.4L1117.16 1497.4L1117.16 1498.4L1117.16 1499.4L1117.16 1500.4L1117.16 1501.4L1117.16 1502.4L1117.16 1503.4L1117.16 1504.4L1117.16 1505.4L1117.15 1506.4L1117.15 1507.4L1117.15 1508.4L1117.15 1509.4L1117.15 1510.4L1117.15 1511.4L1117.15 1512.4L1117.15 1513.4L1117.15 1514.4L1117.15 1515.4L1117.15 1516.4L1117.15 1517.4L1117.15 1518.4L1117.15 1519L1117.15 1519Z"/>
<path class="v" d="M1180.3 1072L1180.35 1072L1180.35 1073L1180.35 1074L1180.36 1075L1180.36 1076L1180.36 1077L1180.37 1078L1180.37 1079L1180.38 1080L1180.38 1081L1180.39 1082L1180.39 1083L1180.4 1084L1180.41 1085L1180.41 1086L1180.42 1087L1180.43 1088L1180.43 1089L1180.44 1090L1180.45 1091L1180.46 1092L1180.47 1093L1180.48 1094L1180.49 1095L1180.5 1096L1180.51 1097L1180.52 1098L1180.53 1099L1180.55 1100L1180.56 1101L1180.57 1102L1180.59 1103L1180.6 1104L1180.62 1105L1180.64 1106L1180.65 1107L1180.67 1108L1180.69 1109L1180.71 1110L1180.73 1111L1180.75 1112L1180.77 1113L1180.8 1114L1180.82 1115L1180.85 1116L1180.87 1117L1180.9 1118L1180.93 1119L1180.96 1120L1180.99 1121L1181.02 1122L1181.05 1123L1181.09 1124L1181.12 1125L1181.16 1126L1181.19 1127L1181.23 1128L1181.27 1129L1181.31 1130L1181.35 1131L1181.4 1132L1181.44 1133L1181.49 1134L1181.54 1135L1181.58 1136L1181.63 1137L1181.69 1138L1181.74 1139L1181.79 1140L1181.85 1141L1181.91 1142L1181.96 1143L1182.02 1144L1182.09 1145L1182.15 1146L1182.21 1147L1182.28 1148L1182.35 1149L1182.42 1150L1182.49 1151L1182.56 1152L1182.63 1153L1182.7 1154L1182.78 1155L1182.86 1156L1182.93 1157L1183.01 1158L1183.09 1159L1183.18 1160L1183.26 1161L1183.34 1162L1183.43 1163L1183.52 1164L1183.6 1165L1183.69 1166L1183.78 1167L1183.87 1168L1183.96 1169L1184.05 1170L1184.15 1171L1184.24 1172L1184.34 1173L1184.43 1174L1184.52 1175L1184.62 1176L1184.72 1177L1184.81 1178L1184.91 1179L1185 1180L1185.1 1181L1185.2 1182L1185.29 1183L1185.39 1184L1185.49 1185L1185.58 1186L1185.68 1187L1185.77 1188L1185.86 1189L1185.96 1190L1186.05 1191L1186.14 1192L1186.23 1193L1186.32 1194L1186.41 1195L1186.5 1196L1186.58 1197L1186.67 1198L1186.75 1199L1186.83 1200L1186.91 1201L1186.99 1202L1187.06 1203L1187.14 1204L1187.21 1205L1187.28 1206L1187.35 1207L1187.41 1208L1187.47 1209L1187.53 1210L1187.59 1211L1187.65 1212L1187.7 1213L1187.75 1214L1187.8 1215L1187.84 1216L1187.88 1217L1187.92 1218L1187.96 1219L1187.99 1220L1188.02 1221L1188.05 1222L1188.07 1223L1188.09 1224L1188.11 1225L1188.12 1226L1188.14 1227L1188.14 1228L1188.15 1229L1188.15 1230L1188.15 1231L1188.15 1232L1188.14 1233L1188.13 1234L1188.12 1235L1188.11 1236L1188.1 1237L1188.09 1238L1188.07 1239L1188.05 1240L1188.03 1241L1188.01 1242L1187.98 1243L1187.96 1244L1187.93 1245L1187.9 1246L1187.87 1247L1187.83 1248L1187.8 1249L1187.76 1250L1187.72 1251L1187.68 1252L1187.64 1253L1187.6 1254L1187.55 1255L1187.5 1256L1187.46 1257L1187.41 1258L1187.36 1259L1187.3 1260L1187.25 1261L1187.19 1262L1187.14 1263L1187.08 1264L1187.02 1265L1186.96 1266L1186.9 1267L1186.84 1268L1186.77 1269L1186.71 1270L1186.64 1271L1186.58 1272L1186.51 1273L1186.44 1274L1186.37 1275L1186.3 1276L1186.23 1277L1186.16 1278L1186.09 1279L1186.02 1280L1185.95 1281L1185.87 1282L1185.8 1283L1185.72 1284L1185.65 1285L1185.58 1286L1185.5 1287L1185.43 1288L1185.35 1289L1185.27 1290L1185.2 1291L1185.12 1292L1185.05 1293L1184.97 1294L1184.9 1295L1184.82 1296L1184.75 1297L1184.67 1298L1184.59 1299L1184.52 1300L1184.44 1301L1184.37 1302L1184.3 1303L1184.22 1304L1184.15 1305L1184.08 1306L1184 1307L1183.93 1308L1183.86 1309L1183.79 1310L1183.72 1311L1183.65 1312L1183.58 1313L1183.51 1314L1183.44 1315L1183.38 1316L1183.31 1317L1183.24 1318L1183.18 1319L1183.11 1320L1183.05 1321L1182.99 1322L1182.92 1323L1182.86 1324L1182.8 1325L1182.74 1326L1182.68 1327L1182.63 1328L1182.57 1329L1182.51 1330L1182.46 1331L1182.4 1332L1182.35 1333L1182.3 1334L1182.24 1335L1182.19 1336L1182.14 1337L1182.09 1338L1182.04 1339L1182 1340L1181.95 1341L1181.9 1342L1181.86 1343L1181.81 1344L1181.77 1345L1181.73 1346L1181.69 1347L1181.65 1348L1181.61 1349L1181.57 1350L1181.53 1351L1181.49 1352L1181.46 1353L1181.42 1354L1181.39 1355L1181.35 1356L1181.32 1357L1181.29 1358L1181.25 1359L1181.22 1360L1181.19 1361L1181.16 1362L1181.14 1363L1181.11 1364L1181.08 1365L1181.05 1366L1181.03 1367L1181 1368L1180.98 1369L1180.96 1370L1180.93 1371L1180.91 1372L1180.89 1373L1180.87 1374L1180.85 1375L1180.83 1376L1180.81 1377L1180.79 1378L1180.77 1379L1180.75 1380L1180.74 1381L1180.72 1382L1180.71 1383L1180.69 1384L1180.67 1385L1180.66 1386L1180.65 1387L1180.63 1388L1180.62 1389L1180.61 1390L1180.59 1391L1180.58 1392L1180.57 1393L1180.56 1394L1180.55 1395L1180.54 1396L1180.53 1397L1180.52 1398L1180.51 1399L1180.5 1400L1180.49 1401L1180.49 1402L1180.48 1403L1180.47 1404L1180.46 1405L1180.46 1406L1180.45 1407L1180.44 1408L1180.44 1409L1180.43 1410L1180.42 1411L1180.42 1412L1180.41 1413L1180.41 1414L1180.4 1415L1180.4 1416L1180.39 1417L1180.39 1418L1180.39 1419L1180.38 1420L1180.38 1421L1180.37 1422L1180.37 1423L1180.37 1424L1180.36 1425L1180.36 1426L1180.36 1427L1180.35 1428L1180.35 1429L1180.35 1430L1180.35 1431L1180.34 1432L1180.34 1433L1180.34 1434L1180.34 1435L1180.34 1436L1180.33 1437L1180.33 1438L1180.33 1439L1180.33 1440L1180.33 1441L1180.33 1442L1180.33 1443L1180.32 1444L1180.32 1445L1180.32 1446L1180.32 1447L1180.32 1448L1180.32 1449L1180.32 1450L1180.32 1451L1180.32 1452L1180.31 1453L1180.31 1454L1180.31 1455L1180.31 1456L1180.31 1457L1180.31 1458L1180.31 1459L1180.31 1460L1180.31 1461L1180.31 1462L1180.31 1463L1180.31 1464L1180.31 1465L1180.31 1466L1180.31 1467L1180.31 1468L1180.31 1469L1180.31 1470L1180.31 1471L1180.3 1472L1180.3 1472Z"/>
<path class="v" d="M1243.45 1103.6L1243.5 1103.6L1243.5 1104.6L1243.51 1105.6L1243.51 1106.6L1243.52 1107.6L1243.52 1108.6L1243.53 1109.6L1243.53 1110.6L1243.54 1111.6L1243.55 1112.6L1243.56 1113.6L1243.56 1114.6L1243.57 1115.6L1243.58 1116.6L1243.59 1117.6L1243.6 1118.6L1243.61 1119.6L1243.63 1120.6L1243.64 1121.6L1243.65 1122.6L1243.67 1123.6L1243.68 1124.6L1243.7 1125.6L1243.72 1126.6L1243.73 1127.6L1243.75 1128.6L1243.77 1129.6L1243.8 1130.6L1243.82 1131.6L1243.84 1132.6L1243.87 1133.6L1243.9 1134.6L1243.92 1135.6L1243.95 1136.6L1243.98 1137.6L1244.02 1138.6L1244.05 1139.6L1244.09 1140.6L1244.13 1141.6L1244.17 1142.6L1244.21 1143.6L1244.25 1144.6L1244.3 1145.6L1244.34 1146.6L1244.39 1147.6L1244.45 1148.6L1244.5 1149.6L1244.56 1150.6L1244.61 1151.6L1244.67 1152.6L1244.74 1153.6L1244.8 1154.6L1244.87 1155.6L1244.94 1156.6L1245.01 1157.6L1245.09 1158.6L1245.17 1159.6L1245.25 1160.6L1245.33 1161.6L1245.42 1162.6L1245.51 1163.6L1245.6 1164.6L1245.69 1165.6L1245.79 1166.6L1245.89 1167.6L1245.99 1168.6L1246.09 1169.6L1246.2 1170.6L1246.31 1171.6L1246.42 1172.6L1246.53 1173.6L1246.65 1174.6L1246.77 1175.6L1246.89 1176.6L1247.01 1177.6L1247.14 1178.6L1247.27 1179.6L1247.4 1180.6L1247.53 1181.6L1247.66 1182.6L1247.8 1183.6L1247.93 1184.6L1248.07 1185.6L1248.21 1186.6L1248.35 1187.6L1248.49 1188.6L1248.63 1189.6L1248.77 1190.6L1248.92 1191.6L1249.06 1192.6L1249.2 1193.6L1249.35 1194.6L1249.49 1195.6L1249.63 1196.6L1249.77 1197.6L1249.92 1198.6L1250.06 1199.6L1250.19 1200.6L1250.33 1201.6L1250.47 1202.6L1250.6 1203.6L1250.74 1204.6L1250.87 1205.6L1250.99 1206.6L1251.12 1207.6L1251.24 1208.6L1251.36 1209.6L1251.48 1210.6L1251.59 1211.6L1251.7 1212.6L1251.81 1213.6L1251.91 1214.6L1252 1215.6L1252.1 1216.6L1252.19 1217.6L1252.27 1218.6L1252.35 1219.6L1252.43 1220.6L1252.49 1221.6L1252.56 1222.6L1252.62 1223.6L1252.67 1224.6L1252.72 1225.6L1252.76 1226.6L1252.8 1227.6L1252.83 1228.6L1252.86 1229.6L1252.88 1230.6L1252.89 1231.6L1252.9 1232.6L1252.9 1233.6L1252.9 1234.6L1252.89 1235.6L1252.88 1236.6L1252.87 1237.6L1252.85 1238.6L1252.83 1239.6L1252.81 1240.6L1252.78 1241.6L1252.75 1242.6L1252.71 1243.6L1252.68 1244.6L1252.63 1245.6L1252.59 1246.6L1252.54 1247.6L1252.49 1248.6L1252.44 1249.6L1252.38 1250.6L1252.32 1251.6L1252.25 1252.6L1252.19 1253.6L1252.12 1254.6L1252.05 1255.6L1251.97 1256.6L1251.89 1257.6L1251.81 1258.6L1251.73 1259.6L1251.65 1260.6L1251.56 1261.6L1251.47 1262.6L1251.38 1263.6L1251.28 1264.6L1251.19 1265.6L1251.09 1266.6L1250.99 1267.6L1250.89 1268.6L1250.79 1269.6L1250.69 1270.6L1250.58 1271.6L1250.48 1272.6L1250.37 1273.6L1250.26 1274.6L1250.16 1275.6L1250.05 1276.6L1249.94 1277.6L1249.82 1278.6L1249.71 1279.6L1249.6 1280.6L1249.49 1281.6L1249.38 1282.6L1249.26 1283.6L1249.15 1284.6L1249.04 1285.6L1248.93 1286.6L1248.81 1287.6L1248.7 1288.6L1248.59 1289.6L1248.48 1290.6L1248.37 1291.6L1248.26 1292.6L1248.15 1293.6L1248.04 1294.6L1247.93 1295.6L1247.83 1296.6L1247.72 1297.6L1247.61 1298.6L1247.51 1299.6L1247.41 1300.6L1247.3 1301.6L1247.2 1302.6L1247.1 1303.6L1247.01 1304.6L1246.91 1305.6L1246.81 1306.6L1246.72 1307.6L1246.63 1308.6L1246.53 1309.6L1246.44 1310.6L1246.36 1311.6L1246.27 1312.6L1246.18 1313.6L1246.1 1314.6L1246.02 1315.6L1245.94 1316.6L1245.86 1317.6L1245.78 1318.6L1245.7 1319.6L1245.63 1320.6L1245.56 1321.6L1245.49 1322.6L1245.42 1323.6L1245.35 1324.6L1245.28 1325.6L1245.22 1326.6L1245.16 1327.6L1245.1 1328.6L1245.04 1329.6L1244.98 1330.6L1244.92 1331.6L1244.87 1332.6L1244.81 1333.6L1244.76 1334.6L1244.71 1335.6L1244.66 1336.6L1244.61 1337.6L1244.57 1338.6L1244.52 1339.6L1244.48 1340.6L1244.44 1341.6L1244.4 1342.6L1244.36 1343.6L1244.32 1344.6L1244.28 1345.6L1244.25 1346.6L1244.21 1347.6L1244.18 1348.6L1244.15 1349.6L1244.12 1350.6L1244.09 1351.6L1244.06 1352.6L1244.03 1353.6L1244.01 1354.6L1243.98 1355.6L1243.96 1356.6L1243.93 1357.6L1243.91 1358.6L1243.89 1359.6L1243.87 1360.6L1243.85 1361.6L1243.83 1362.6L1243.81 1363.6L1243.79 1364.6L1243.77 1365.6L1243.76 1366.6L1243.74 1367.6L1243.73 1368.6L1243.71 1369.6L1243.7 1370.6L1243.69 1371.6L1243.67 1372.6L1243.66 1373.6L1243.65 1374.6L1243.64 1375.6L1243.63 1376.6L1243.62 1377.6L1243.61 1378.6L1243.6 1379.6L1243.59 1380.6L1243.59 1381.6L1243.58 1382.6L1243.57 1383.6L1243.56 1384.6L1243.56 1385.6L1243.55 1386.6L1243.55 1387.6L1243.54 1388.6L1243.54 1389.6L1243.53 1390.6L1243.53 1391.6L1243.52 1392.6L1243.52 1393.6L1243.51 1394.6L1243.51 1395.6L1243.51 1396.6L1243.5 1397.6L1243.5 1398.6L1243.5 1399.6L1243.49 1400.6L1243.49 1401.6L1243.49 1402.6L1243.49 1403.6L1243.48 1404.6L1243.48 1405.6L1243.48 1406.6L1243.48 1407.6L1243.48 1408.6L1243.47 1409.6L1243.47 1410.6L1243.47 1411.6L1243.47 1412.6L1243.47 1413.6L1243.47 1414.6L1243.47 1415.6L1243.46 1416.6L1243.46 1417.6L1243.46 1418.6L1243.46 1419.6L1243.46 1420.6L1243.46 1421.6L1243.46 1422.6L1243.46 1423.6L1243.45 1423.6Z"/>
<path class="v" d="M1306.6 1100L1306.6 1100L1306.6 1101L1306.6 1102L1306.6 1103L1306.6 1104L1306.6 1105L1306.6 1106L1306.6 1107L1306.61 1108L1306.61 1109L1306.61 1110L1306.61 1111L1306.61 1112L1306.61 1113L1306.61 1114L1306.61 1115L1306.61 1116L1306.61 1117L1306.62 1118L1306.62 1119L1306.62 1120L1306.62 1121L1306.63 1122L1306.63 1123L1306.63 1124L1306.64 1125L1306.64 1126L1306.64 1127L1306.65 1128L1306.65 1129L1306.66 1130L1306.67 1131L1306.67 1132L1306.68 1133L1306.69 1134L1306.7 1135L1306.71 1136L1306.72 1137L1306.73 1138L1306.74 1139L1306.75 1140L1306.77 1141L1306.78 1142L1306.8 1143L1306.82 1144L1306.84 1145L1306.86 1146L1306.88 1147L1306.91 1148L1306.93 1149L1306.96 1150L1306.99 1151L1307.03 1152L1307.06 1153L1307.1 1154L1307.14 1155L1307.18 1156L1307.23 1157L1307.28 1158L1307.33 1159L1307.38 1160L1307.44 1161L1307.5 1162L1307.56 1163L1307.63 1164L1307.71 1165L1307.78 1166L1307.86 1167L1307.95 1168L1308.03 1169L1308.13 1170L1308.22 1171L1308.32 1172L1308.43 1173L1308.54 1174L1308.66 1175L1308.78 1176L1308.9 1177L1309.03 1178L1309.17 1179L1309.31 1180L1309.45 1181L1309.6 1182L1309.76 1183L1309.92 1184L1310.08 1185L1310.25 1186L1310.42 1187L1310.6 1188L1310.78 1189L1310.97 1190L1311.16 1191L1311.35 1192L1311.55 1193L1311.75 1194L1311.95 1195L1312.16 1196L1312.37 1197L1312.58 1198L1312.79 1199L1313 1200L1313.21 1201L1313.43 1202L1313.64 1203L1313.86 1204L1314.07 1205L1314.29 1206L1314.5 1207L1314.71 1208L1314.92 1209L1315.12 1210L1315.32 1211L1315.52 1212L1315.71 1213L1315.9 1214L1316.08 1215L1316.26 1216L1316.43 1217L1316.6 1218L1316.75 1219L1316.9 1220L1317.05 1221L1317.18 1222L1317.31 1223L1317.42 1224L1317.53 1225L1317.63 1226L1317.72 1227L1317.8 1228L1317.87 1229L1317.92 1230L1317.97 1231L1318.01 1232L1318.03 1233L1318.05 1234L1318.05 1235L1318.05 1236L1318.03 1237L1318.02 1238L1317.99 1239L1317.96 1240L1317.92 1241L1317.88 1242L1317.83 1243L1317.77 1244L1317.7 1245L1317.63 1246L1317.56 1247L1317.48 1248L1317.39 1249L1317.3 1250L1317.2 1251L1317.09 1252L1316.98 1253L1316.87 1254L1316.75 1255L1316.63 1256L1316.5 1257L1316.37 1258L1316.23 1259L1316.09 1260L1315.95 1261L1315.8 1262L1315.65 1263L1315.5 1264L1315.34 1265L1315.19 1266L1315.03 1267L1314.87 1268L1314.7 1269L1314.54 1270L1314.37 1271L1314.21 1272L1314.04 1273L1313.87 1274L1313.7 1275L1313.53 1276L1313.36 1277L1313.19 1278L1313.03 1279L1312.86 1280L1312.69 1281L1312.53 1282L1312.36 1283L1312.2 1284L1312.03 1285L1311.87 1286L1311.71 1287L1311.56 1288L1311.4 1289L1311.25 1290L1311.1 1291L1310.95 1292L1310.8 1293L1310.66 1294L1310.52 1295L1310.38 1296L1310.25 1297L1310.11 1298L1309.98 1299L1309.86 1300L1309.73 1301L1309.61 1302L1309.49 1303L1309.38 1304L1309.27 1305L1309.16 1306L1309.05 1307L1308.95 1308L1308.85 1309L1308.75 1310L1308.65 1311L1308.56 1312L1308.48 1313L1308.39 1314L1308.31 1315L1308.23 1316L1308.15 1317L1308.08 1318L1308.01 1319L1307.94 1320L1307.87 1321L1307.81 1322L1307.75 1323L1307.69 1324L1307.63 1325L1307.58 1326L1307.53 1327L1307.48 1328L1307.43 1329L1307.38 1330L1307.34 1331L1307.3 1332L1307.26 1333L1307.22 1334L1307.19 1335L1307.15 1336L1307.12 1337L1307.09 1338L1307.06 1339L1307.03 1340L1307.01 1341L1306.98 1342L1306.96 1343L1306.94 1344L1306.91 1345L1306.89 1346L1306.88 1347L1306.86 1348L1306.84 1349L1306.83 1350L1306.81 1351L1306.8 1352L1306.78 1353L1306.77 1354L1306.76 1355L1306.75 1356L1306.74 1357L1306.73 1358L1306.72 1359L1306.71 1360L1306.7 1361L1306.7 1362L1306.69 1363L1306.68 1364L1306.68 1365L1306.67 1366L1306.66 1367L1306.66 1368L1306.66 1369L1306.65 1370L1306.65 1371L1306.64 1372L1306.64 1373L1306.64 1374L1306.63 1375L1306.63 1376L1306.63 1377L1306.63 1378L1306.62 1379L1306.62 1380L1306.62 1381L1306.62 1382L1306.62 1383L1306.62 1384L1306.6 1384Z"/>
<path class="v" d="M1369.75 1138L1369.8 1138L1369.8 1138.5L1369.81 1139L1369.81 1139.5L1369.81 1140L1369.81 1140.5L1369.82 1141L1369.82 1141.5L1369.82 1142L1369.82 1142.5L1369.83 1143L1369.83 1143.5L1369.83 1144L1369.83 1144.5L1369.84 1145L1369.84 1145.5L1369.84 1146L1369.84 1146.5L1369.84 1147L1369.85 1147.5L1369.85 1148L1369.85 1148.5L1369.85 1149L1369.86 1149.5L1369.86 1150L1369.86 1150.5L1369.86 1151L1369.86 1151.5L1369.87 1152L1369.87 1152.5L1369.87 1153L1369.87 1153.5L1369.88 1154L1369.88 1154.5L1369.88 1155L1369.88 1155.5L1369.89 1156L1369.89 1156.5L1369.89 1157L1369.89 1157.5L1369.9 1158L1369.9 1158.5L1369.9 1159L1369.91 1159.5L1369.91 1160L1369.91 1160.5L1369.91 1161L1369.92 1161.5L1369.92 1162L1369.93 1162.5L1369.93 1163L1369.93 1163.5L1369.94 1164L1369.94 1164.5L1369.95 1165L1369.95 1165.5L1369.96 1166L1369.96 1166.5L1369.97 1167L1369.97 1167.5L1369.98 1168L1369.98 1168.5L1369.99 1169L1369.99 1169.5L1370 1170L1370.01 1170.5L1370.02 1171L1370.03 1171.5L1370.04 1172L1370.05 1172.5L1370.07 1173L1370.09 1173.5L1370.11 1174L1370.13 1174.5L1370.15 1175L1370.18 1175.5L1370.2 1176L1370.23 1176.5L1370.26 1177L1370.29 1177.5L1370.32 1178L1370.35 1178.5L1370.39 1179L1370.42 1179.5L1370.46 1180L1370.49 1180.5L1370.53 1181L1370.57 1181.5L1370.61 1182L1370.65 1182.5L1370.69 1183L1370.74 1183.5L1370.78 1184L1370.82 1184.5L1370.87 1185L1370.91 1185.5L1370.96 1186L1371.01 1186.5L1371.06 1187L1371.12 1187.5L1371.19 1188L1371.26 1188.5L1371.33 1189L1371.41 1189.5L1371.49 1190L1371.58 1190.5L1371.67 1191L1371.77 1191.5L1371.86 1192L1371.96 1192.5L1372.06 1193L1372.17 1193.5L1372.28 1194L1372.39 1194.5L1372.5 1195L1372.61 1195.5L1372.73 1196L1372.84 1196.5L1372.96 1197L1373.08 1197.5L1373.19 1198L1373.31 1198.5L1373.43 1199L1373.55 1199.5L1373.67 1200L1373.78 1200.5L1373.9 1201L1374.03 1201.5L1374.16 1202L1374.29 1202.5L1374.43 1203L1374.57 1203.5L1374.71 1204L1374.85 1204.5L1375 1205L1375.15 1205.5L1375.3 1206L1375.45 1206.5L1375.6 1207L1375.75 1207.5L1375.9 1208L1376.06 1208.5L1376.21 1209L1376.36 1209.5L1376.5 1210L1376.65 1210.5L1376.79 1211L1376.93 1211.5L1377.07 1212L1377.21 1212.5L1377.35 1213L1377.49 1213.5L1377.64 1214L1377.78 1214.5L1377.92 1215L1378.06 1215.5L1378.2 1216L1378.34 1216.5L1378.48 1217L1378.62 1217.5L1378.76 1218L1378.89 1218.5L1379.03 1219L1379.16 1219.5L1379.28 1220L1379.41 1220.5L1379.53 1221L1379.65 1221.5L1379.76 1222L1379.87 1222.5L1379.98 1223L1380.08 1223.5L1380.18 1224L1380.28 1224.5L1380.38 1225L1380.47 1225.5L1380.57 1226L1380.66 1226.5L1380.75 1227L1380.84 1227.5L1380.93 1228L1381.02 1228.5L1381.11 1229L1381.2 1229.5L1381.3 1230L1381.39 1230.5L1381.48 1231L1381.58 1231.5L1381.68 1232L1381.78 1232.5L1381.9 1233L1382.03 1233.5L1382.16 1234L1382.31 1234.5L1382.45 1235L1382.58 1235.5L1382.7 1236L1382.81 1236.5L1382.89 1237L1382.94 1237.5L1382.96 1238L1382.95 1238.5L1382.92 1239L1382.86 1239.5L1382.8 1240L1382.72 1240.5L1382.63 1241L1382.54 1241.5L1382.44 1242L1382.34 1242.5L1382.25 1243L1382.16 1243.5L1382.08 1244L1382.02 1244.5L1381.96 1245L1381.93 1245.5L1381.92 1246L1381.93 1246.5L1381.95 1247L1381.97 1247.5L1382.01 1248L1382.05 1248.5L1382.09 1249L1382.13 1249.5L1382.16 1250L1382.19 1250.5L1382.23 1251L1382.28 1251.5L1382.32 1252L1382.37 1252.5L1382.41 1253L1382.46 1253.5L1382.5 1254L1382.55 1254.5L1382.59 1255L1382.62 1255.5L1382.66 1256L1382.68 1256.5L1382.7 1257L1382.72 1257.5L1382.72 1258L1382.7 1258.5L1382.65 1259L1382.56 1259.5L1382.45 1260L1382.32 1260.5L1382.16 1261L1382 1261.5L1381.82 1262L1381.64 1262.5L1381.45 1263L1381.27 1263.5L1381.09 1264L1380.93 1264.5L1380.76 1265L1380.57 1265.5L1380.38 1266L1380.17 1266.5L1379.96 1267L1379.74 1267.5L1379.52 1268L1379.3 1268.5L1379.08 1269L1378.86 1269.5L1378.65 1270L1378.45 1270.5L1378.25 1271L1378.06 1271.5L1377.89 1272L1377.73 1272.5L1377.58 1273L1377.43 1273.5L1377.29 1274L1377.15 1274.5L1377.02 1275L1376.88 1275.5L1376.76 1276L1376.63 1276.5L1376.51 1277L1376.39 1277.5L1376.27 1278L1376.15 1278.5L1376.04 1279L1375.93 1279.5L1375.81 1280L1375.7 1280.5L1375.59 1281L1375.47 1281.5L1375.36 1282L1375.25 1282.5L1375.13 1283L1375.02 1283.5L1374.91 1284L1374.8 1284.5L1374.69 1285L1374.58 1285.5L1374.47 1286L1374.37 1286.5L1374.26 1287L1374.16 1287.5L1374.05 1288L1373.95 1288.5L1373.85 1289L1373.75 1289.5L1373.66 1290L1373.56 1290.5L1373.47 1291L1373.38 1291.5L1373.29 1292L1373.2 1292.5L1373.11 1293L1373.02 1293.5L1372.93 1294L1372.84 1294.5L1372.75 1295L1372.67 1295.5L1372.58 1296L1372.49 1296.5L1372.41 1297L1372.33 1297.5L1372.24 1298L1372.16 1298.5L1372.08 1299L1372.01 1299.5L1371.93 1300L1371.86 1300.5L1371.79 1301L1371.72 1301.5L1371.65 1302L1371.58 1302.5L1371.52 1303L1371.46 1303.5L1371.4 1304L1371.35 1304.5L1371.3 1305L1371.24 1305.5L1371.19 1306L1371.14 1306.5L1371.09 1307L1371.04 1307.5L1370.99 1308L1370.94 1308.5L1370.89 1309L1370.85 1309.5L1370.81 1310L1370.76 1310.5L1370.73 1311L1370.69 1311.5L1370.66 1312L1370.63 1312.5L1370.6 1313L1370.58 1313.5L1370.56 1314L1370.54 1314.5L1370.53 1315L1370.51 1315.5L1370.49 1316L1370.48 1316.5L1370.46 1317L1370.45 1317.5L1370.43 1318L1370.42 1318.5L1370.4 1319L1370.39 1319.5L1370.37 1320L1370.36 1320.5L1370.35 1321L1370.34 1321.5L1370.32 1322L1370.31 1322.5L1370.3 1323L1370.29 1323.5L1370.28 1324L1370.27 1324.5L1370.26 1325L1370.25 1325.5L1370.23 1326L1370.22 1326.5L1370.22 1327L1370.21 1327.5L1370.2 1328L1370.19 1328.5L1370.18 1329L1370.17 1329.5L1370.16 1330L1370.15 1330.5L1370.14 1331L1370.14 1331.5L1370.13 1332L1370.12 1332.5L1370.11 1333L1370.1 1333.5L1370.1 1334L1370.09 1334.5L1370.08 1335L1370.08 1335.5L1370.07 1336L1370.06 1336.5L1370.05 1337L1370.05 1337.5L1370.04 1338L1370.03 1338.5L1370.03 1339L1370.02 1339.5L1370.01 1340L1370.01 1340.5L1370 1341L1369.99 1341.5L1369.99 1342L1369.98 1342.5L1369.97 1343L1369.97 1343.5L1369.96 1344L1369.95 1344.5L1369.95 1345L1369.94 1345.5L1369.93 1346L1369.92 1346.5L1369.92 1347L1369.91 1347.5L1369.9 1348L1369.89 1348.5L1369.89 1349L1369.88 1349.5L1369.87 1350L1369.86 1350.5L1369.85 1351L1369.85 1351.5L1369.84 1352L1369.83 1352.5L1369.82 1353L1369.81 1353.5L1369.8 1354L1369.75 1354Z"/>
<path class="v" d="M1432.9 1165.2L1432.95 1165.2L1432.96 1165.7L1432.96 1166.2L1432.97 1166.7L1432.98 1167.2L1432.98 1167.7L1432.99 1168.2L1433 1168.7L1433 1169.2L1433.01 1169.7L1433.01 1170.2L1433.02 1170.7L1433.03 1171.2L1433.03 1171.7L1433.04 1172.2L1433.05 1172.7L1433.05 1173.2L1433.06 1173.7L1433.07 1174.2L1433.08 1174.7L1433.09 1175.2L1433.1 1175.7L1433.11 1176.2L1433.12 1176.7L1433.13 1177.2L1433.14 1177.7L1433.16 1178.2L1433.17 1178.7L1433.19 1179.2L1433.22 1179.7L1433.25 1180.2L1433.28 1180.7L1433.32 1181.2L1433.36 1181.7L1433.4 1182.2L1433.45 1182.7L1433.5 1183.2L1433.55 1183.7L1433.6 1184.2L1433.66 1184.7L1433.72 1185.2L1433.78 1185.7L1433.84 1186.2L1433.9 1186.7L1433.97 1187.2L1434.03 1187.7L1434.1 1188.2L1434.17 1188.7L1434.24 1189.2L1434.31 1189.7L1434.38 1190.2L1434.46 1190.7L1434.54 1191.2L1434.63 1191.7L1434.72 1192.2L1434.82 1192.7L1434.93 1193.2L1435.04 1193.7L1435.15 1194.2L1435.27 1194.7L1435.39 1195.2L1435.52 1195.7L1435.64 1196.2L1435.77 1196.7L1435.9 1197.2L1436.03 1197.7L1436.17 1198.2L1436.3 1198.7L1436.43 1199.2L1436.57 1199.7L1436.7 1200.2L1436.83 1200.7L1436.96 1201.2L1437.1 1201.7L1437.24 1202.2L1437.39 1202.7L1437.53 1203.2L1437.68 1203.7L1437.83 1204.2L1437.98 1204.7L1438.13 1205.2L1438.29 1205.7L1438.45 1206.2L1438.6 1206.7L1438.76 1207.2L1438.92 1207.7L1439.09 1208.2L1439.25 1208.7L1439.41 1209.2L1439.58 1209.7L1439.74 1210.2L1439.91 1210.7L1440.08 1211.2L1440.26 1211.7L1440.43 1212.2L1440.61 1212.7L1440.78 1213.2L1440.96 1213.7L1441.14 1214.2L1441.32 1214.7L1441.51 1215.2L1441.69 1215.7L1441.88 1216.2L1442.06 1216.7L1442.25 1217.2L1442.44 1217.7L1442.63 1218.2L1442.82 1218.7L1443.01 1219.2L1443.2 1219.7L1443.4 1220.2L1443.59 1220.7L1443.79 1221.2L1444 1221.7L1444.2 1222.2L1444.41 1222.7L1444.62 1223.2L1444.84 1223.7L1445.06 1224.2L1445.29 1224.7L1445.56 1225.2L1445.85 1225.7L1446.16 1226.2L1446.46 1226.7L1446.75 1227.2L1447.02 1227.7L1447.25 1228.2L1447.43 1228.7L1447.55 1229.2L1447.63 1229.7L1447.7 1230.2L1447.75 1230.7L1447.81 1231.2L1447.85 1231.7L1447.89 1232.2L1447.93 1232.7L1447.96 1233.2L1448 1233.7L1448.03 1234.2L1448.06 1234.7L1448.09 1235.2L1448.13 1235.7L1448.16 1236.2L1448.21 1236.7L1448.26 1237.2L1448.31 1237.7L1448.38 1238.2L1448.47 1238.7L1448.59 1239.2L1448.72 1239.7L1448.85 1240.2L1448.99 1240.7L1449.11 1241.2L1449.21 1241.7L1449.28 1242.2L1449.31 1242.7L1449.29 1243.2L1449.24 1243.7L1449.15 1244.2L1449.05 1244.7L1448.95 1245.2L1448.85 1245.7L1448.78 1246.2L1448.75 1246.7L1448.77 1247.2L1448.86 1247.7L1449 1248.2L1449.17 1248.7L1449.35 1249.2L1449.53 1249.7L1449.7 1250.2L1449.84 1250.7L1449.93 1251.2L1449.95 1251.7L1449.89 1252.2L1449.75 1252.7L1449.56 1253.2L1449.32 1253.7L1449.06 1254.2L1448.78 1254.7L1448.51 1255.2L1448.25 1255.7L1448.03 1256.2L1447.84 1256.7L1447.67 1257.2L1447.51 1257.7L1447.35 1258.2L1447.2 1258.7L1447.05 1259.2L1446.91 1259.7L1446.76 1260.2L1446.61 1260.7L1446.46 1261.2L1446.31 1261.7L1446.15 1262.2L1445.98 1262.7L1445.81 1263.2L1445.64 1263.7L1445.46 1264.2L1445.28 1264.7L1445.1 1265.2L1444.92 1265.7L1444.73 1266.2L1444.54 1266.7L1444.35 1267.2L1444.15 1267.7L1443.95 1268.2L1443.75 1268.7L1443.55 1269.2L1443.34 1269.7L1443.13 1270.2L1442.91 1270.7L1442.69 1271.2L1442.46 1271.7L1442.23 1272.2L1441.99 1272.7L1441.76 1273.2L1441.52 1273.7L1441.29 1274.2L1441.06 1274.7L1440.83 1275.2L1440.6 1275.7L1440.38 1276.2L1440.16 1276.7L1439.95 1277.2L1439.74 1277.7L1439.53 1278.2L1439.31 1278.7L1439.1 1279.2L1438.89 1279.7L1438.68 1280.2L1438.47 1280.7L1438.27 1281.2L1438.07 1281.7L1437.88 1282.2L1437.7 1282.7L1437.52 1283.2L1437.36 1283.7L1437.21 1284.2L1437.07 1284.7L1436.93 1285.2L1436.81 1285.7L1436.68 1286.2L1436.57 1286.7L1436.46 1287.2L1436.35 1287.7L1436.24 1288.2L1436.14 1288.7L1436.04 1289.2L1435.94 1289.7L1435.84 1290.2L1435.74 1290.7L1435.63 1291.2L1435.53 1291.7L1435.42 1292.2L1435.31 1292.7L1435.2 1293.2L1435.08 1293.7L1434.97 1294.2L1434.85 1294.7L1434.74 1295.2L1434.63 1295.7L1434.52 1296.2L1434.42 1296.7L1434.32 1297.2L1434.23 1297.7L1434.15 1298.2L1434.07 1298.7L1434 1299.2L1433.94 1299.7L1433.88 1300.2L1433.83 1300.7L1433.78 1301.2L1433.72 1301.7L1433.67 1302.2L1433.63 1302.7L1433.58 1303.2L1433.53 1303.7L1433.49 1304.2L1433.45 1304.7L1433.41 1305.2L1433.37 1305.7L1433.34 1306.2L1433.3 1306.7L1433.27 1307.2L1433.25 1307.7L1433.22 1308.2L1433.2 1308.7L1433.18 1309.2L1433.16 1309.7L1433.14 1310.2L1433.13 1310.7L1433.12 1311.2L1433.11 1311.7L1433.09 1312.2L1433.08 1312.7L1433.07 1313.2L1433.07 1313.7L1433.06 1314.2L1433.05 1314.7L1433.04 1315.2L1433.03 1315.7L1433.03 1316.2L1433.02 1316.7L1433.01 1317.2L1433 1317.7L1433 1318.2L1432.99 1318.7L1432.98 1319.2L1432.97 1319.7L1432.97 1320.2L1432.96 1320.7L1432.95 1321.2L1432.9 1321.2Z"/>
<path class="v" d="M1496.05 1164.4L1496.1 1164.4L1496.1 1164.9L1496.1 1165.4L1496.1 1165.9L1496.1 1166.4L1496.1 1166.9L1496.1 1167.4L1496.11 1167.9L1496.11 1168.4L1496.11 1168.9L1496.11 1169.4L1496.11 1169.9L1496.11 1170.4L1496.11 1170.9L1496.11 1171.4L1496.11 1171.9L1496.11 1172.4L1496.11 1172.9L1496.11 1173.4L1496.11 1173.9L1496.11 1174.4L1496.11 1174.9L1496.11 1175.4L1496.12 1175.9L1496.12 1176.4L1496.12 1176.9L1496.12 1177.4L1496.12 1177.9L1496.12 1178.4L1496.12 1178.9L1496.12 1179.4L1496.12 1179.9L1496.12 1180.4L1496.12 1180.9L1496.13 1181.4L1496.13 1181.9L1496.13 1182.4L1496.13 1182.9L1496.13 1183.4L1496.13 1183.9L1496.13 1184.4L1496.14 1184.9L1496.14 1185.4L1496.14 1185.9L1496.14 1186.4L1496.15 1186.9L1496.15 1187.4L1496.16 1187.9L1496.17 1188.4L1496.18 1188.9L1496.2 1189.4L1496.21 1189.9L1496.23 1190.4L1496.25 1190.9L1496.27 1191.4L1496.29 1191.9L1496.32 1192.4L1496.34 1192.9L1496.37 1193.4L1496.4 1193.9L1496.43 1194.4L1496.47 1194.9L1496.5 1195.4L1496.54 1195.9L1496.58 1196.4L1496.62 1196.9L1496.66 1197.4L1496.7 1197.9L1496.75 1198.4L1496.79 1198.9L1496.84 1199.4L1496.89 1199.9L1496.94 1200.4L1497 1200.9L1497.09 1201.4L1497.21 1201.9L1497.34 1202.4L1497.49 1202.9L1497.66 1203.4L1497.84 1203.9L1498.03 1204.4L1498.23 1204.9L1498.44 1205.4L1498.66 1205.9L1498.88 1206.4L1499.1 1206.9L1499.32 1207.4L1499.53 1207.9L1499.74 1208.4L1499.95 1208.9L1500.17 1209.4L1500.39 1209.9L1500.62 1210.4L1500.86 1210.9L1501.1 1211.4L1501.35 1211.9L1501.61 1212.4L1501.86 1212.9L1502.12 1213.4L1502.39 1213.9L1502.66 1214.4L1502.92 1214.9L1503.2 1215.4L1503.47 1215.9L1503.74 1216.4L1504.02 1216.9L1504.29 1217.4L1504.58 1217.9L1504.87 1218.4L1505.16 1218.9L1505.45 1219.4L1505.75 1219.9L1506.05 1220.4L1506.36 1220.9L1506.66 1221.4L1506.97 1221.9L1507.28 1222.4L1507.6 1222.9L1507.91 1223.4L1508.22 1223.9L1508.54 1224.4L1508.87 1224.9L1509.22 1225.4L1509.59 1225.9L1509.96 1226.4L1510.35 1226.9L1510.73 1227.4L1511.12 1227.9L1511.49 1228.4L1511.85 1228.9L1512.19 1229.4L1512.51 1229.9L1512.8 1230.4L1513.05 1230.9L1513.27 1231.4L1513.44 1231.9L1513.58 1232.4L1513.71 1232.9L1513.81 1233.4L1513.91 1233.9L1514.01 1234.4L1514.11 1234.9L1514.23 1235.4L1514.37 1235.9L1514.54 1236.4L1514.8 1236.9L1515.18 1237.4L1515.6 1237.9L1516.01 1238.4L1516.34 1238.9L1516.52 1239.4L1516.5 1239.9L1516.29 1240.4L1515.96 1240.9L1515.59 1241.4L1515.25 1241.9L1515.01 1242.4L1514.94 1242.9L1514.99 1243.4L1515.1 1243.9L1515.25 1244.4L1515.43 1244.9L1515.61 1245.4L1515.8 1245.9L1515.95 1246.4L1516.07 1246.9L1516.13 1247.4L1516.13 1247.9L1516.09 1248.4L1516.02 1248.9L1515.92 1249.4L1515.81 1249.9L1515.68 1250.4L1515.54 1250.9L1515.4 1251.4L1515.25 1251.9L1515.08 1252.4L1514.88 1252.9L1514.66 1253.4L1514.42 1253.9L1514.16 1254.4L1513.89 1254.9L1513.61 1255.4L1513.32 1255.9L1513.02 1256.4L1512.72 1256.9L1512.42 1257.4L1512.07 1257.9L1511.68 1258.4L1511.26 1258.9L1510.81 1259.4L1510.36 1259.9L1509.9 1260.4L1509.46 1260.9L1509.04 1261.4L1508.66 1261.9L1508.31 1262.4L1508.03 1262.9L1507.81 1263.4L1507.66 1263.9L1507.54 1264.4L1507.45 1264.9L1507.37 1265.4L1507.3 1265.9L1507.21 1266.4L1507.12 1266.9L1507 1267.4L1506.84 1267.9L1506.6 1268.4L1506.31 1268.9L1505.97 1269.4L1505.58 1269.9L1505.16 1270.4L1504.72 1270.9L1504.27 1271.4L1503.82 1271.9L1503.38 1272.4L1502.95 1272.9L1502.56 1273.4L1502.21 1273.9L1501.88 1274.4L1501.54 1274.9L1501.2 1275.4L1500.86 1275.9L1500.52 1276.4L1500.2 1276.9L1499.88 1277.4L1499.58 1277.9L1499.31 1278.4L1499.07 1278.9L1498.85 1279.4L1498.67 1279.9L1498.54 1280.4L1498.43 1280.9L1498.34 1281.4L1498.26 1281.9L1498.19 1282.4L1498.12 1282.9L1498.06 1283.4L1498 1283.9L1497.94 1284.4L1497.89 1284.9L1497.82 1285.4L1497.75 1285.9L1497.68 1286.4L1497.6 1286.9L1497.51 1287.4L1497.42 1287.9L1497.33 1288.4L1497.24 1288.9L1497.15 1289.4L1497.06 1289.9L1496.97 1290.4L1496.89 1290.9L1496.81 1291.4L1496.74 1291.9L1496.68 1292.4L1496.62 1292.9L1496.58 1293.4L1496.54 1293.9L1496.52 1294.4L1496.5 1294.9L1496.48 1295.4L1496.46 1295.9L1496.44 1296.4L1496.42 1296.9L1496.4 1297.4L1496.38 1297.9L1496.36 1298.4L1496.34 1298.9L1496.33 1299.4L1496.31 1299.9L1496.3 1300.4L1496.28 1300.9L1496.27 1301.4L1496.26 1301.9L1496.24 1302.4L1496.23 1302.9L1496.22 1303.4L1496.21 1303.9L1496.2 1304.4L1496.19 1304.9L1496.18 1305.4L1496.18 1305.9L1496.17 1306.4L1496.16 1306.9L1496.16 1307.4L1496.15 1307.9L1496.15 1308.4L1496.15 1308.9L1496.14 1309.4L1496.14 1309.9L1496.14 1310.4L1496.14 1310.9L1496.14 1311.4L1496.13 1311.9L1496.13 1312.4L1496.13 1312.9L1496.13 1313.4L1496.13 1313.9L1496.13 1314.4L1496.13 1314.9L1496.13 1315.4L1496.12 1315.9L1496.12 1316.4L1496.12 1316.9L1496.12 1317.4L1496.12 1317.9L1496.12 1318.4L1496.12 1318.9L1496.12 1319.4L1496.12 1319.9L1496.12 1320.4L1496.12 1320.9L1496.12 1321.4L1496.12 1321.9L1496.11 1322.4L1496.11 1322.9L1496.11 1323.4L1496.11 1323.9L1496.11 1324.4L1496.11 1324.9L1496.11 1325.4L1496.11 1325.9L1496.11 1326.4L1496.11 1326.9L1496.11 1327.4L1496.11 1327.9L1496.11 1328.4L1496.11 1328.9L1496.11 1329.4L1496.11 1329.9L1496.11 1330.4L1496.11 1330.9L1496.1 1331.4L1496.1 1331.9L1496.1 1332.4L1496.1 1332.9L1496.1 1333.4L1496.1 1333.9L1496.1 1334.4L1496.1 1334.8L1496.05 1334.8Z"/>
<path class="v" d="M1559.2 1199.2L1559.25 1199.2L1559.3 1199.7L1559.34 1200.2L1559.38 1200.7L1559.43 1201.2L1559.47 1201.7L1559.51 1202.2L1559.55 1202.7L1559.59 1203.2L1559.64 1203.7L1559.69 1204.2L1559.75 1204.7L1559.81 1205.2L1559.88 1205.7L1559.96 1206.2L1560.07 1206.7L1560.21 1207.2L1560.38 1207.7L1560.56 1208.2L1560.76 1208.7L1560.98 1209.2L1561.2 1209.7L1561.42 1210.2L1561.64 1210.7L1561.86 1211.2L1562.07 1211.7L1562.26 1212.2L1562.43 1212.7L1562.59 1213.2L1562.74 1213.7L1562.88 1214.2L1563.03 1214.7L1563.18 1215.2L1563.33 1215.7L1563.51 1216.2L1563.71 1216.7L1563.93 1217.2L1564.21 1217.7L1564.55 1218.2L1564.95 1218.7L1565.38 1219.2L1565.85 1219.7L1566.32 1220.2L1566.8 1220.7L1567.26 1221.2L1567.69 1221.7L1568.08 1222.2L1568.45 1222.7L1568.79 1223.2L1569.12 1223.7L1569.45 1224.2L1569.77 1224.7L1570.1 1225.2L1570.44 1225.7L1570.79 1226.2L1571.17 1226.7L1571.58 1227.2L1572.02 1227.7L1572.53 1228.2L1573.11 1228.7L1573.72 1229.2L1574.37 1229.7L1575.02 1230.2L1575.66 1230.7L1576.27 1231.2L1576.84 1231.7L1577.37 1232.2L1577.89 1232.7L1578.4 1233.2L1578.9 1233.7L1579.38 1234.2L1579.87 1234.7L1580.35 1235.2L1580.83 1235.7L1581.31 1236.2L1581.81 1236.7L1582.31 1237.2L1582.8 1237.7L1583.29 1238.2L1583.75 1238.7L1584.2 1239.2L1584.61 1239.7L1584.99 1240.2L1585.34 1240.7L1585.7 1241.2L1586.07 1241.7L1586.43 1242.2L1586.77 1242.7L1587.06 1243.2L1587.3 1243.7L1587.46 1244.2L1587.53 1244.7L1587.5 1245.2L1587.4 1245.7L1587.22 1246.2L1586.99 1246.7L1586.71 1247.2L1586.4 1247.7L1586.07 1248.2L1585.63 1248.7L1584.86 1249.2L1583.94 1249.7L1583.15 1250.2L1582.74 1250.7L1582.79 1251.2L1582.98 1251.7L1583.23 1252.2L1583.44 1252.7L1583.53 1253.2L1583.42 1253.7L1583.12 1254.2L1582.68 1254.7L1582.14 1255.2L1581.55 1255.7L1580.96 1256.2L1580.37 1256.7L1579.65 1257.2L1578.83 1257.7L1577.95 1258.2L1577.05 1258.7L1576.16 1259.2L1575.33 1259.7L1574.59 1260.2L1573.97 1260.7L1573.39 1261.2L1572.85 1261.7L1572.33 1262.2L1571.84 1262.7L1571.36 1263.2L1570.9 1263.7L1570.44 1264.2L1569.99 1264.7L1569.53 1265.2L1569.07 1265.7L1568.6 1266.2L1568.14 1266.7L1567.68 1267.2L1567.23 1267.7L1566.79 1268.2L1566.36 1268.7L1565.94 1269.2L1565.54 1269.7L1565.16 1270.2L1564.8 1270.7L1564.45 1271.2L1564.11 1271.7L1563.77 1272.2L1563.44 1272.7L1563.13 1273.2L1562.83 1273.7L1562.56 1274.2L1562.31 1274.7L1562.08 1275.2L1561.89 1275.7L1561.72 1276.2L1561.56 1276.7L1561.4 1277.2L1561.26 1277.7L1561.12 1278.2L1560.99 1278.7L1560.86 1279.2L1560.75 1279.7L1560.64 1280.2L1560.55 1280.7L1560.46 1281.2L1560.37 1281.7L1560.3 1282.2L1560.23 1282.7L1560.16 1283.2L1560.1 1283.7L1560.03 1284.2L1559.97 1284.7L1559.92 1285.2L1559.86 1285.7L1559.81 1286.2L1559.76 1286.7L1559.72 1287.2L1559.68 1287.7L1559.64 1288.2L1559.6 1288.7L1559.57 1289.2L1559.54 1289.7L1559.52 1290.2L1559.5 1290.7L1559.48 1291.2L1559.46 1291.7L1559.44 1292.2L1559.43 1292.7L1559.41 1293.2L1559.4 1293.7L1559.39 1294.2L1559.37 1294.7L1559.36 1295.2L1559.35 1295.7L1559.34 1296.2L1559.32 1296.7L1559.31 1297.2L1559.3 1297.7L1559.29 1298.2L1559.27 1298.7L1559.26 1299.2L1559.25 1299.6L1559.2 1299.6Z"/>
<path class="v" d="M1622.35 1202.8L1622.4 1202.8L1622.42 1203.3L1622.45 1203.8L1622.47 1204.3L1622.49 1204.8L1622.5 1205.3L1622.52 1205.8L1622.54 1206.3L1622.56 1206.8L1622.57 1207.3L1622.59 1207.8L1622.61 1208.3L1622.63 1208.8L1622.66 1209.3L1622.68 1209.8L1622.71 1210.3L1622.74 1210.8L1622.77 1211.3L1622.8 1211.8L1622.84 1212.3L1622.88 1212.8L1622.93 1213.3L1623 1213.8L1623.11 1214.3L1623.25 1214.8L1623.41 1215.3L1623.59 1215.8L1623.79 1216.3L1624 1216.8L1624.22 1217.3L1624.43 1217.8L1624.66 1218.3L1624.9 1218.8L1625.18 1219.3L1625.47 1219.8L1625.78 1220.3L1626.11 1220.8L1626.44 1221.3L1626.78 1221.8L1627.12 1222.3L1627.46 1222.8L1627.8 1223.3L1628.16 1223.8L1628.54 1224.3L1628.95 1224.8L1629.4 1225.3L1629.9 1225.8L1630.48 1226.3L1631.2 1226.8L1632.04 1227.3L1632.97 1227.8L1633.95 1228.3L1634.95 1228.8L1635.94 1229.3L1636.9 1229.8L1637.9 1230.3L1638.93 1230.8L1639.97 1231.3L1640.98 1231.8L1641.94 1232.3L1642.8 1232.8L1643.56 1233.3L1644.31 1233.8L1645.14 1234.3L1646.12 1234.8L1647.59 1235.3L1649.53 1235.8L1651.51 1236.3L1653.06 1236.8L1653.79 1237.3L1654.08 1237.8L1654.27 1238.3L1654.42 1238.8L1654.57 1239.3L1654.8 1239.8L1655.16 1240.3L1655.72 1240.8L1656.43 1241.3L1657.2 1241.8L1657.97 1242.3L1658.81 1242.8L1659.85 1243.3L1660.87 1243.8L1661.65 1244.3L1661.96 1244.8L1661.75 1245.3L1661.17 1245.8L1660.32 1246.3L1659.27 1246.8L1658.12 1247.3L1656.96 1247.8L1655.86 1248.3L1654.92 1248.8L1653.98 1249.3L1652.98 1249.8L1652.15 1250.3L1651.72 1250.8L1651.6 1251.3L1651.54 1251.8L1651.49 1252.3L1651.42 1252.8L1651.26 1253.3L1650.36 1253.8L1648.75 1254.3L1646.89 1254.8L1645.23 1255.3L1644.16 1255.8L1643.39 1256.3L1642.73 1256.8L1642.15 1257.3L1641.59 1257.8L1641.01 1258.3L1640.34 1258.8L1639.55 1259.3L1638.54 1259.8L1637.35 1260.3L1636.09 1260.8L1634.83 1261.3L1633.67 1261.8L1632.69 1262.3L1631.9 1262.8L1631.17 1263.3L1630.5 1263.8L1629.89 1264.3L1629.32 1264.8L1628.81 1265.3L1628.34 1265.8L1627.89 1266.3L1627.47 1266.8L1627.07 1267.3L1626.7 1267.8L1626.35 1268.3L1626.02 1268.8L1625.71 1269.3L1625.43 1269.8L1625.16 1270.3L1624.9 1270.8L1624.64 1271.3L1624.39 1271.8L1624.16 1272.3L1623.94 1272.8L1623.74 1273.3L1623.57 1273.8L1623.43 1274.3L1623.32 1274.8L1623.23 1275.3L1623.15 1275.8L1623.07 1276.3L1622.99 1276.8L1622.92 1277.3L1622.85 1277.8L1622.79 1278.3L1622.74 1278.8L1622.69 1279.3L1622.64 1279.8L1622.6 1280.3L1622.57 1280.8L1622.55 1281.3L1622.53 1281.8L1622.51 1282.3L1622.5 1282.8L1622.49 1283.3L1622.48 1283.8L1622.47 1284.3L1622.46 1284.8L1622.46 1285.3L1622.45 1285.8L1622.44 1286.3L1622.44 1286.8L1622.43 1287.3L1622.43 1287.8L1622.42 1288.3L1622.42 1288.8L1622.41 1289.3L1622.4 1289.8L1622.4 1290L1622.35 1290Z"/>
<path class="v" d="M1685.5 1218L1685.55 1218L1685.6 1218.5L1685.64 1219L1685.68 1219.5L1685.72 1220L1685.75 1220.5L1685.79 1221L1685.82 1221.5L1685.86 1222L1685.91 1222.5L1685.96 1223L1686.02 1223.5L1686.09 1224L1686.17 1224.5L1686.27 1225L1686.41 1225.5L1686.71 1226L1687.16 1226.5L1687.73 1227L1688.39 1227.5L1689.11 1228L1690.08 1228.5L1691.4 1229L1692.87 1229.5L1694.31 1230L1695.69 1230.5L1697.11 1231L1698.55 1231.5L1700 1232L1701.45 1232.5L1702.86 1233L1704.12 1233.5L1705.31 1234L1706.58 1234.5L1708.06 1235L1709.89 1235.5L1712.87 1236L1717.34 1236.5L1721.31 1237L1723.26 1237.5L1724.34 1238L1725.4 1238.5L1727.26 1239L1730.7 1239.5L1733.51 1240L1734.87 1240.5L1735.89 1241L1736.72 1241.5L1737.55 1242L1738.53 1242.5L1739.88 1243L1741.31 1243.5L1742.39 1244L1742.67 1244.5L1741.69 1245L1740.14 1245.5L1739.11 1246L1738.83 1246.5L1738.66 1247L1738.39 1247.5L1737.19 1248L1734.4 1248.5L1731.32 1249L1729 1249.5L1726.91 1250L1724.93 1250.5L1723.04 1251L1721.26 1251.5L1719.65 1252L1718.11 1252.5L1716.5 1253L1714.7 1253.5L1712.5 1254L1709.82 1254.5L1707 1255L1704.39 1255.5L1702.31 1256L1700.71 1256.5L1699.29 1257L1698.01 1257.5L1696.84 1258L1695.75 1258.5L1694.72 1259L1693.71 1259.5L1692.72 1260L1691.79 1260.5L1690.93 1261L1690.16 1261.5L1689.51 1262L1688.93 1262.5L1688.36 1263L1687.84 1263.5L1687.38 1264L1687.02 1264.5L1686.77 1265L1686.64 1265.5L1686.53 1266L1686.44 1266.5L1686.35 1267L1686.28 1267.5L1686.21 1268L1686.15 1268.5L1686.1 1269L1686.05 1269.5L1686.01 1270L1685.97 1270.5L1685.92 1271L1685.88 1271.5L1685.84 1272L1685.79 1272.5L1685.74 1273L1685.68 1273.5L1685.67 1273.6L1685.5 1273.6Z"/>
<path class="w" d="M1042.7 1021V1188.55M1042.7 1300.95V1469.6"/>
<rect class="b" x="1036.35" y="1188.55" width="12.7" height="112.4"/>
<path class="m" d="M1036.35 1243.8H1049.05"/>
<path class="w" d="M1105.85 1067.6V1200.55M1105.85 1288.95V1422.6"/>
<rect class="b" x="1099.5" y="1200.55" width="12.7" height="88.4"/>
<path class="m" d="M1099.5 1245H1112.2"/>
<path class="w" d="M1169 1093V1206.55M1169 1282.25V1394.6"/>
<rect class="b" x="1162.65" y="1206.55" width="12.7" height="75.7"/>
<path class="m" d="M1162.65 1244H1175.35"/>
<path class="w" d="M1232.15 1122.4V1214.15M1232.15 1275.45V1367"/>
<rect class="b" x="1225.8" y="1214.15" width="12.7" height="61.3"/>
<path class="m" d="M1225.8 1244.8H1238.5"/>
<path class="w" d="M1295.3 1145.2V1219.55M1295.3 1269.05V1343.4"/>
<rect class="b" x="1288.95" y="1219.55" width="12.7" height="49.5"/>
<path class="m" d="M1288.95 1244H1301.65"/>
<path class="w" d="M1358.45 1164.9V1224.65M1358.45 1264.15V1322.8"/>
<rect class="b" x="1352.1" y="1224.65" width="12.7" height="39.5"/>
<path class="m" d="M1352.1 1244.7H1364.8"/>
<path class="w" d="M1421.6 1179.9V1228.65M1421.6 1261.25V1310.5"/>
<rect class="b" x="1415.25" y="1228.65" width="12.7" height="32.6"/>
<path class="m" d="M1415.25 1244.9H1427.95"/>
<path class="w" d="M1484.75 1192.4V1231.25M1484.75 1257.75V1297.5"/>
<rect class="b" x="1478.4" y="1231.25" width="12.7" height="26.5"/>
<path class="m" d="M1478.4 1244.9H1491.1"/>
<path class="w" d="M1547.9 1206.2V1235.35M1547.9 1255.15V1284.2"/>
<rect class="b" x="1541.55" y="1235.35" width="12.7" height="19.8"/>
<path class="m" d="M1541.55 1244.9H1554.25"/>
<path class="w" d="M1611.05 1215.4V1237.35M1611.05 1252.45V1274.8"/>
<rect class="b" x="1604.7" y="1237.35" width="12.7" height="15.1"/>
<path class="m" d="M1604.7 1244.6H1617.4"/>
<path class="w" d="M1674.2 1225.1V1239.65M1674.2 1249.45V1263.8"/>
<rect class="b" x="1667.85" y="1239.65" width="12.7" height="9.8"/>
<path class="m" d="M1667.85 1244.5H1680.55"/>
</g>
<path class="t" d="M995.5 1121.3H1004.3M995.5 1315.5H1004.3M995.5 1509.7H1004.3M1042.7 1633.7V1642.5M1105.85 1633.7V1642.5M1169 1633.7V1642.5M1232.15 1633.7V1642.5M1295.3 1633.7V1642.5M1358.45 1633.7V1642.5M1421.6 1633.7V1642.5M1484.75 1633.7V1642.5M1547.9 1633.7V1642.5M1611.05 1633.7V1642.5M1674.2 1633.7V1642.5"/>
<text class="tk" text-anchor="end" transform="translate(989.4 1131.45) scale(1 1.06)">0.5</text>
<text class="tk" text-anchor="end" transform="translate(989.4 1325.65) scale(1 1.06)">0.0</text>
<text class="tk" text-anchor="end" transform="translate(989.4 1519.85) scale(1 1.06)"><tspan dy="2.5">−</tspan><tspan dy="-2.5">0.5</tspan></text>
<text class="tk" text-anchor="end" transform="translate(1063.15 1649) rotate(-90) scale(1 1.06)">26</text>
<text class="tk" text-anchor="end" transform="translate(1126.3 1649) rotate(-90) scale(1 1.06)">38</text>
<text class="tk" text-anchor="end" transform="translate(1189.45 1649) rotate(-90) scale(1 1.06)">55</text>
<text class="tk" text-anchor="end" transform="translate(1252.6 1649) rotate(-90) scale(1 1.06)">78</text>
<text class="tk" text-anchor="end" transform="translate(1315.75 1649) rotate(-90) scale(1 1.06)">113</text>
<text class="tk" text-anchor="end" transform="translate(1378.9 1649) rotate(-90) scale(1 1.06)">162</text>
<text class="tk" text-anchor="end" transform="translate(1442.05 1649) rotate(-90) scale(1 1.06)">234</text>
<text class="tk" text-anchor="end" transform="translate(1505.2 1649) rotate(-90) scale(1 1.06)">336</text>
<text class="tk" text-anchor="end" transform="translate(1568.35 1649) rotate(-90) scale(1 1.06)">483</text>
<text class="tk" text-anchor="end" transform="translate(1631.5 1649) rotate(-90) scale(1 1.06)">695</text>
<text class="tk" text-anchor="end" transform="translate(1694.65 1649) rotate(-90) scale(1 1.06)">1000</text>
<text class="ax" text-anchor="middle" x="1377.15" y="1743.9">sample size</text>
<text class="ax" text-anchor="middle" transform="translate(918.8 1291.9) rotate(-90) scale(1 1.055)">effect size</text>
</g>
</svg>
</body>
</html>
